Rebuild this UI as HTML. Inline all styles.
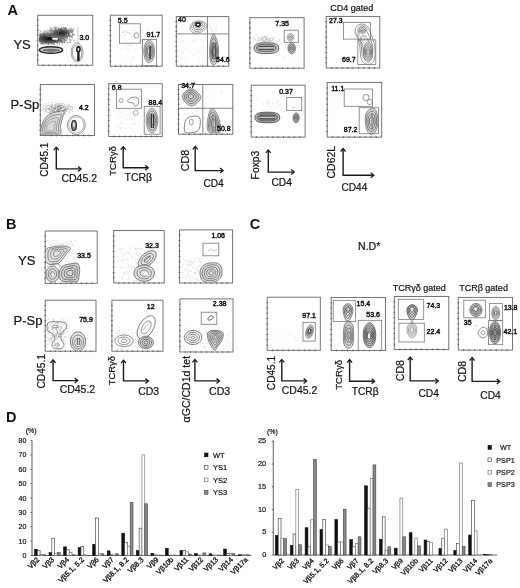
<!DOCTYPE html>
<html><head><meta charset="utf-8"><style>
html,body{margin:0;padding:0;background:#fff;width:520px;height:588px;overflow:hidden}
svg{display:block;font-family:"Liberation Sans", sans-serif;filter:grayscale(1) blur(0.3px)}
</style></head><body>
<svg width="520" height="588" viewBox="0 0 520 588">
<text x="7.6" y="15" font-size="14.5" text-anchor="start" font-weight="bold" fill="#111">A</text>
<text x="6.1" y="228.7" font-size="14.5" text-anchor="start" font-weight="bold" fill="#111">B</text>
<text x="249.7" y="228.7" font-size="14.5" text-anchor="start" font-weight="bold" fill="#111">C</text>
<text x="6.1" y="422" font-size="14.5" text-anchor="start" font-weight="bold" fill="#111">D</text>
<text x="13.4" y="48.8" font-size="13" text-anchor="start" font-weight="normal" fill="#111" stroke="#111" stroke-width="0.2">YS</text>
<text x="10.4" y="108.8" font-size="13" text-anchor="start" font-weight="normal" fill="#111" stroke="#111" stroke-width="0.2">P-Sp</text>
<text x="18.0" y="265" font-size="13" text-anchor="start" font-weight="normal" fill="#111" stroke="#111" stroke-width="0.2">YS</text>
<text x="13.6" y="325" font-size="13" text-anchor="start" font-weight="normal" fill="#111" stroke="#111" stroke-width="0.2">P-Sp</text>
<rect x="37.75" y="15.25" width="55.0" height="50.0" fill="none" stroke="#666" stroke-width="0.9"/>
<path d="M43.2 64.35v1.8M36.85 20.2h1.8M48.8 64.35v1.8M36.85 25.2h1.8M54.2 64.35v1.8M36.85 30.2h1.8M59.8 64.35v1.8M36.85 35.2h1.8M65.2 64.35v1.8M36.85 40.2h1.8M70.8 64.35v1.8M36.85 45.2h1.8M76.2 64.35v1.8M36.85 50.2h1.8M81.8 64.35v1.8M36.85 55.2h1.8M87.2 64.35v1.8M36.85 60.2h1.8" stroke="#444" stroke-width="0.7"/>
<rect x="110.3" y="15.2" width="51.89999999999999" height="51.0" fill="none" stroke="#666" stroke-width="0.9"/>
<path d="M115.5 65.3v1.8M109.39999999999999 20.3h1.8M120.7 65.3v1.8M109.39999999999999 25.4h1.8M125.9 65.3v1.8M109.39999999999999 30.5h1.8M131.1 65.3v1.8M109.39999999999999 35.6h1.8M136.2 65.3v1.8M109.39999999999999 40.7h1.8M141.4 65.3v1.8M109.39999999999999 45.8h1.8M146.6 65.3v1.8M109.39999999999999 50.9h1.8M151.8 65.3v1.8M109.39999999999999 56.0h1.8M157.0 65.3v1.8M109.39999999999999 61.1h1.8" stroke="#444" stroke-width="0.7"/>
<rect x="176.3" y="16.6" width="52.5" height="49.6" fill="none" stroke="#666" stroke-width="0.9"/>
<path d="M181.6 65.3v1.8M175.4 21.6h1.8M186.8 65.3v1.8M175.4 26.5h1.8M192.1 65.3v1.8M175.4 31.5h1.8M197.3 65.3v1.8M175.4 36.4h1.8M202.6 65.3v1.8M175.4 41.4h1.8M207.8 65.3v1.8M175.4 46.4h1.8M213.1 65.3v1.8M175.4 51.3h1.8M218.3 65.3v1.8M175.4 56.3h1.8M223.6 65.3v1.8M175.4 61.2h1.8" stroke="#444" stroke-width="0.7"/>
<rect x="249.9" y="17.7" width="54.20000000000002" height="50.5" fill="none" stroke="#666" stroke-width="0.9"/>
<path d="M255.3 67.3v1.8M249.0 22.8h1.8M260.7 67.3v1.8M249.0 27.8h1.8M266.2 67.3v1.8M249.0 32.9h1.8M271.6 67.3v1.8M249.0 37.9h1.8M277.0 67.3v1.8M249.0 43.0h1.8M282.4 67.3v1.8M249.0 48.0h1.8M287.8 67.3v1.8M249.0 53.0h1.8M293.3 67.3v1.8M249.0 58.1h1.8M298.7 67.3v1.8M249.0 63.2h1.8" stroke="#444" stroke-width="0.7"/>
<rect x="326.2" y="16.4" width="53.60000000000002" height="51.6" fill="none" stroke="#666" stroke-width="0.9"/>
<path d="M331.6 67.1v1.8M325.3 21.6h1.8M336.9 67.1v1.8M325.3 26.7h1.8M342.3 67.1v1.8M325.3 31.9h1.8M347.6 67.1v1.8M325.3 37.0h1.8M353.0 67.1v1.8M325.3 42.2h1.8M358.4 67.1v1.8M325.3 47.4h1.8M363.7 67.1v1.8M325.3 52.5h1.8M369.1 67.1v1.8M325.3 57.7h1.8M374.4 67.1v1.8M325.3 62.8h1.8" stroke="#444" stroke-width="0.7"/>
<rect x="40.3" y="84.5" width="54.2" height="51.0" fill="none" stroke="#666" stroke-width="0.9"/>
<path d="M45.7 134.6v1.8M39.4 89.6h1.8M51.1 134.6v1.8M39.4 94.7h1.8M56.6 134.6v1.8M39.4 99.8h1.8M62.0 134.6v1.8M39.4 104.9h1.8M67.4 134.6v1.8M39.4 110.0h1.8M72.8 134.6v1.8M39.4 115.1h1.8M78.2 134.6v1.8M39.4 120.2h1.8M83.7 134.6v1.8M39.4 125.3h1.8M89.1 134.6v1.8M39.4 130.4h1.8" stroke="#444" stroke-width="0.7"/>
<rect x="108.7" y="83.7" width="53.499999999999986" height="52.8" fill="none" stroke="#666" stroke-width="0.9"/>
<path d="M114.0 135.6v1.8M107.8 89.0h1.8M119.4 135.6v1.8M107.8 94.3h1.8M124.8 135.6v1.8M107.8 99.5h1.8M130.1 135.6v1.8M107.8 104.8h1.8M135.4 135.6v1.8M107.8 110.1h1.8M140.8 135.6v1.8M107.8 115.4h1.8M146.1 135.6v1.8M107.8 120.7h1.8M151.5 135.6v1.8M107.8 125.9h1.8M156.8 135.6v1.8M107.8 131.2h1.8" stroke="#444" stroke-width="0.7"/>
<rect x="178.5" y="84.4" width="54.30000000000001" height="49.79999999999998" fill="none" stroke="#666" stroke-width="0.9"/>
<path d="M183.9 133.29999999999998v1.8M177.6 89.4h1.8M189.4 133.29999999999998v1.8M177.6 94.4h1.8M194.8 133.29999999999998v1.8M177.6 99.3h1.8M200.2 133.29999999999998v1.8M177.6 104.3h1.8M205.7 133.29999999999998v1.8M177.6 109.3h1.8M211.1 133.29999999999998v1.8M177.6 114.3h1.8M216.5 133.29999999999998v1.8M177.6 119.3h1.8M221.9 133.29999999999998v1.8M177.6 124.2h1.8M227.4 133.29999999999998v1.8M177.6 129.2h1.8" stroke="#444" stroke-width="0.7"/>
<rect x="251.2" y="85.2" width="53.900000000000034" height="51.89999999999999" fill="none" stroke="#666" stroke-width="0.9"/>
<path d="M256.6 136.2v1.8M250.29999999999998 90.4h1.8M262.0 136.2v1.8M250.29999999999998 95.6h1.8M267.4 136.2v1.8M250.29999999999998 100.8h1.8M272.8 136.2v1.8M250.29999999999998 106.0h1.8M278.1 136.2v1.8M250.29999999999998 111.2h1.8M283.5 136.2v1.8M250.29999999999998 116.3h1.8M288.9 136.2v1.8M250.29999999999998 121.5h1.8M294.3 136.2v1.8M250.29999999999998 126.7h1.8M299.7 136.2v1.8M250.29999999999998 131.9h1.8" stroke="#444" stroke-width="0.7"/>
<rect x="327.2" y="82.5" width="54.5" height="54.599999999999994" fill="none" stroke="#666" stroke-width="0.9"/>
<path d="M332.6 136.2v1.8M326.3 88.0h1.8M338.1 136.2v1.8M326.3 93.4h1.8M343.6 136.2v1.8M326.3 98.9h1.8M349.0 136.2v1.8M326.3 104.3h1.8M354.4 136.2v1.8M326.3 109.8h1.8M359.9 136.2v1.8M326.3 115.3h1.8M365.3 136.2v1.8M326.3 120.7h1.8M370.8 136.2v1.8M326.3 126.2h1.8M376.2 136.2v1.8M326.3 131.6h1.8" stroke="#444" stroke-width="0.7"/>
<rect x="45.2" y="231" width="52.0" height="52.30000000000001" fill="none" stroke="#666" stroke-width="0.9"/>
<path d="M50.4 282.40000000000003v1.8M44.300000000000004 236.2h1.8M55.6 282.40000000000003v1.8M44.300000000000004 241.5h1.8M60.8 282.40000000000003v1.8M44.300000000000004 246.7h1.8M66.0 282.40000000000003v1.8M44.300000000000004 251.9h1.8M71.2 282.40000000000003v1.8M44.300000000000004 257.1h1.8M76.4 282.40000000000003v1.8M44.300000000000004 262.4h1.8M81.6 282.40000000000003v1.8M44.300000000000004 267.6h1.8M86.8 282.40000000000003v1.8M44.300000000000004 272.8h1.8M92.0 282.40000000000003v1.8M44.300000000000004 278.1h1.8" stroke="#444" stroke-width="0.7"/>
<rect x="113.7" y="230.5" width="50.499999999999986" height="52.5" fill="none" stroke="#666" stroke-width="0.9"/>
<path d="M118.8 282.1v1.8M112.8 235.8h1.8M123.8 282.1v1.8M112.8 241.0h1.8M128.8 282.1v1.8M112.8 246.2h1.8M133.9 282.1v1.8M112.8 251.5h1.8M138.9 282.1v1.8M112.8 256.8h1.8M144.0 282.1v1.8M112.8 262.0h1.8M149.0 282.1v1.8M112.8 267.2h1.8M154.1 282.1v1.8M112.8 272.5h1.8M159.1 282.1v1.8M112.8 277.8h1.8" stroke="#444" stroke-width="0.7"/>
<rect x="179.5" y="229.9" width="53.099999999999994" height="53.099999999999994" fill="none" stroke="#666" stroke-width="0.9"/>
<path d="M184.8 282.1v1.8M178.6 235.2h1.8M190.1 282.1v1.8M178.6 240.5h1.8M195.4 282.1v1.8M178.6 245.8h1.8M200.7 282.1v1.8M178.6 251.1h1.8M206.1 282.1v1.8M178.6 256.4h1.8M211.4 282.1v1.8M178.6 261.8h1.8M216.7 282.1v1.8M178.6 267.1h1.8M222.0 282.1v1.8M178.6 272.4h1.8M227.3 282.1v1.8M178.6 277.7h1.8" stroke="#444" stroke-width="0.7"/>
<rect x="45.2" y="300.2" width="50.8" height="51.0" fill="none" stroke="#666" stroke-width="0.9"/>
<path d="M50.3 350.3v1.8M44.300000000000004 305.3h1.8M55.4 350.3v1.8M44.300000000000004 310.4h1.8M60.4 350.3v1.8M44.300000000000004 315.5h1.8M65.5 350.3v1.8M44.300000000000004 320.6h1.8M70.6 350.3v1.8M44.300000000000004 325.7h1.8M75.7 350.3v1.8M44.300000000000004 330.8h1.8M80.8 350.3v1.8M44.300000000000004 335.9h1.8M85.8 350.3v1.8M44.300000000000004 341.0h1.8M90.9 350.3v1.8M44.300000000000004 346.1h1.8" stroke="#444" stroke-width="0.7"/>
<rect x="111.9" y="300.2" width="51.099999999999994" height="51.0" fill="none" stroke="#666" stroke-width="0.9"/>
<path d="M117.0 350.3v1.8M111.0 305.3h1.8M122.1 350.3v1.8M111.0 310.4h1.8M127.2 350.3v1.8M111.0 315.5h1.8M132.3 350.3v1.8M111.0 320.6h1.8M137.4 350.3v1.8M111.0 325.7h1.8M142.6 350.3v1.8M111.0 330.8h1.8M147.7 350.3v1.8M111.0 335.9h1.8M152.8 350.3v1.8M111.0 341.0h1.8M157.9 350.3v1.8M111.0 346.1h1.8" stroke="#444" stroke-width="0.7"/>
<rect x="179.9" y="298.9" width="53.099999999999994" height="53.10000000000002" fill="none" stroke="#666" stroke-width="0.9"/>
<path d="M185.2 351.1v1.8M179.0 304.2h1.8M190.5 351.1v1.8M179.0 309.5h1.8M195.8 351.1v1.8M179.0 314.8h1.8M201.1 351.1v1.8M179.0 320.1h1.8M206.5 351.1v1.8M179.0 325.4h1.8M211.8 351.1v1.8M179.0 330.8h1.8M217.1 351.1v1.8M179.0 336.1h1.8M222.4 351.1v1.8M179.0 341.4h1.8M227.7 351.1v1.8M179.0 346.7h1.8" stroke="#444" stroke-width="0.7"/>
<rect x="267.2" y="297.2" width="53.10000000000002" height="53.10000000000002" fill="none" stroke="#666" stroke-width="0.9"/>
<path d="M272.5 349.40000000000003v1.8M266.3 302.5h1.8M277.8 349.40000000000003v1.8M266.3 307.8h1.8M283.1 349.40000000000003v1.8M266.3 313.1h1.8M288.4 349.40000000000003v1.8M266.3 318.4h1.8M293.8 349.40000000000003v1.8M266.3 323.8h1.8M299.1 349.40000000000003v1.8M266.3 329.1h1.8M304.4 349.40000000000003v1.8M266.3 334.4h1.8M309.7 349.40000000000003v1.8M266.3 339.7h1.8M315.0 349.40000000000003v1.8M266.3 345.0h1.8" stroke="#444" stroke-width="0.7"/>
<rect x="331.2" y="297.5" width="54.30000000000001" height="53.0" fill="none" stroke="#666" stroke-width="0.9"/>
<path d="M336.6 349.6v1.8M330.3 302.8h1.8M342.1 349.6v1.8M330.3 308.1h1.8M347.5 349.6v1.8M330.3 313.4h1.8M352.9 349.6v1.8M330.3 318.7h1.8M358.4 349.6v1.8M330.3 324.0h1.8M363.8 349.6v1.8M330.3 329.3h1.8M369.2 349.6v1.8M330.3 334.6h1.8M374.6 349.6v1.8M330.3 339.9h1.8M380.1 349.6v1.8M330.3 345.2h1.8" stroke="#444" stroke-width="0.7"/>
<rect x="394.3" y="296.5" width="54.5" height="53.0" fill="none" stroke="#666" stroke-width="0.9"/>
<path d="M399.8 348.6v1.8M393.40000000000003 301.8h1.8M405.2 348.6v1.8M393.40000000000003 307.1h1.8M410.7 348.6v1.8M393.40000000000003 312.4h1.8M416.1 348.6v1.8M393.40000000000003 317.7h1.8M421.6 348.6v1.8M393.40000000000003 323.0h1.8M427.0 348.6v1.8M393.40000000000003 328.3h1.8M432.4 348.6v1.8M393.40000000000003 333.6h1.8M437.9 348.6v1.8M393.40000000000003 338.9h1.8M443.4 348.6v1.8M393.40000000000003 344.2h1.8" stroke="#444" stroke-width="0.7"/>
<rect x="458.3" y="297.4" width="54.19999999999999" height="52.700000000000045" fill="none" stroke="#666" stroke-width="0.9"/>
<path d="M463.7 349.20000000000005v1.8M457.40000000000003 302.7h1.8M469.1 349.20000000000005v1.8M457.40000000000003 307.9h1.8M474.6 349.20000000000005v1.8M457.40000000000003 313.2h1.8M480.0 349.20000000000005v1.8M457.40000000000003 318.5h1.8M485.4 349.20000000000005v1.8M457.40000000000003 323.8h1.8M490.8 349.20000000000005v1.8M457.40000000000003 329.0h1.8M496.2 349.20000000000005v1.8M457.40000000000003 334.3h1.8M501.7 349.20000000000005v1.8M457.40000000000003 339.6h1.8M507.1 349.20000000000005v1.8M457.40000000000003 344.8h1.8" stroke="#444" stroke-width="0.7"/>
<text x="61.42" y="182.2" font-size="10.51" text-anchor="start" font-weight="normal" fill="#111" stroke="#111" stroke-width="0.2">CD45.2</text>
<text x="124.58" y="181.2" font-size="10.44" text-anchor="start" font-weight="normal" fill="#111" stroke="#111" stroke-width="0.2">TCRβ</text>
<text x="203.44" y="187.2" font-size="10.12" text-anchor="start" font-weight="normal" fill="#111" stroke="#111" stroke-width="0.2">CD4</text>
<text x="271.44" y="185.6" font-size="10.23" text-anchor="start" font-weight="normal" fill="#111" stroke="#111" stroke-width="0.2">CD4</text>
<text x="341.54" y="190.5" font-size="10.11" text-anchor="start" font-weight="normal" fill="#111" stroke="#111" stroke-width="0.2">CD44</text>
<text x="59.63" y="393.45" font-size="10.49" text-anchor="start" font-weight="normal" fill="#111" stroke="#111" stroke-width="0.2">CD45.2</text>
<text x="138.13" y="394.5" font-size="10.47" text-anchor="start" font-weight="normal" fill="#111" stroke="#111" stroke-width="0.2">CD3</text>
<text x="209.02" y="394.5" font-size="10.58" text-anchor="start" font-weight="normal" fill="#111" stroke="#111" stroke-width="0.2">CD3</text>
<text x="281.83" y="394.1" font-size="10.45" text-anchor="start" font-weight="normal" fill="#111" stroke="#111" stroke-width="0.2">CD45.2</text>
<text x="351.68" y="394.9" font-size="10.21" text-anchor="start" font-weight="normal" fill="#111" stroke="#111" stroke-width="0.2">TCRβ</text>
<text x="418.44" y="397.2" font-size="10.23" text-anchor="start" font-weight="normal" fill="#111" stroke="#111" stroke-width="0.2">CD4</text>
<text x="480.24" y="398.7" font-size="10.28" text-anchor="start" font-weight="normal" fill="#111" stroke="#111" stroke-width="0.2">CD4</text>
<text x="47.92" y="176.65" font-size="10.05" text-anchor="start" font-weight="normal" fill="#111" transform="rotate(-90 47.92 176.65)" stroke="#111" stroke-width="0.2">CD45.1</text>
<text x="116.41" y="175.81" font-size="9.57" text-anchor="start" font-weight="normal" fill="#111" transform="rotate(-90 116.41 175.81)" stroke="#111" stroke-width="0.2">TCRγδ</text>
<text x="189.19" y="171.29" font-size="10.74" text-anchor="start" font-weight="normal" fill="#111" transform="rotate(-90 189.19 171.29)" stroke="#111" stroke-width="0.2">CD8</text>
<text x="258.52" y="179.41" font-size="10.34" text-anchor="start" font-weight="normal" fill="#111" transform="rotate(-90 258.52 179.41)" stroke="#111" stroke-width="0.2">Foxp3</text>
<text x="335.41" y="178.47" font-size="10.48" text-anchor="start" font-weight="normal" fill="#111" transform="rotate(-90 335.41 178.47)" stroke="#111" stroke-width="0.2">CD62L</text>
<text x="44.6" y="388.46" font-size="10.17" text-anchor="start" font-weight="normal" fill="#111" transform="rotate(-90 44.6 388.46)" stroke="#111" stroke-width="0.2">CD45.1</text>
<text x="115.37" y="385.21" font-size="9.38" text-anchor="start" font-weight="normal" fill="#111" transform="rotate(-90 115.37 385.21)" stroke="#111" stroke-width="0.2">TCRγδ</text>
<text x="189.82" y="422.38" font-size="10.56" text-anchor="start" font-weight="normal" fill="#111" transform="rotate(-90 189.82 422.38)" stroke="#111" stroke-width="0.2">αGC/CD1d tet</text>
<text x="274.86" y="390.16" font-size="10.11" text-anchor="start" font-weight="normal" fill="#111" transform="rotate(-90 274.86 390.16)" stroke="#111" stroke-width="0.2">CD45.1</text>
<text x="341.83" y="389.81" font-size="9.61" text-anchor="start" font-weight="normal" fill="#111" transform="rotate(-90 341.83 389.81)" stroke="#111" stroke-width="0.2">TCRγδ</text>
<text x="404.01" y="381.28" font-size="10.63" text-anchor="start" font-weight="normal" fill="#111" transform="rotate(-90 404.01 381.28)" stroke="#111" stroke-width="0.2">CD8</text>
<text x="465.88" y="382.08" font-size="10.58" text-anchor="start" font-weight="normal" fill="#111" transform="rotate(-90 465.88 382.08)" stroke="#111" stroke-width="0.2">CD8</text>
<path d="M56.3 147.60000000000002V168.9H80.7" fill="none" stroke="#1a1a1a" stroke-width="1.4"/>
<path d="M53.8 150.20000000000002L56.3 147.20000000000002L58.8 150.20000000000002" fill="none" stroke="#1a1a1a" stroke-width="1.3" stroke-linejoin="miter"/>
<path d="M78.1 166.4L81.1 168.9L78.1 171.4" fill="none" stroke="#1a1a1a" stroke-width="1.3" stroke-linejoin="miter"/>
<path d="M123.2 147.10000000000002V167.7H147.79999999999998" fill="none" stroke="#1a1a1a" stroke-width="1.4"/>
<path d="M120.7 149.70000000000002L123.2 146.70000000000002L125.7 149.70000000000002" fill="none" stroke="#1a1a1a" stroke-width="1.3" stroke-linejoin="miter"/>
<path d="M145.2 165.2L148.2 167.7L145.2 170.2" fill="none" stroke="#1a1a1a" stroke-width="1.3" stroke-linejoin="miter"/>
<path d="M195.2 146.8V170.6H222.7" fill="none" stroke="#1a1a1a" stroke-width="1.4"/>
<path d="M192.7 149.4L195.2 146.4L197.7 149.4" fill="none" stroke="#1a1a1a" stroke-width="1.3" stroke-linejoin="miter"/>
<path d="M220.1 168.1L223.1 170.6L220.1 173.1" fill="none" stroke="#1a1a1a" stroke-width="1.3" stroke-linejoin="miter"/>
<path d="M268.3 150.3V172.1H293.8" fill="none" stroke="#1a1a1a" stroke-width="1.4"/>
<path d="M265.8 152.9L268.3 149.9L270.8 152.9" fill="none" stroke="#1a1a1a" stroke-width="1.3" stroke-linejoin="miter"/>
<path d="M291.20000000000005 169.6L294.20000000000005 172.1L291.20000000000005 174.6" fill="none" stroke="#1a1a1a" stroke-width="1.3" stroke-linejoin="miter"/>
<path d="M343.1 148.9V175.2H373.4" fill="none" stroke="#1a1a1a" stroke-width="1.4"/>
<path d="M340.6 151.5L343.1 148.5L345.6 151.5" fill="none" stroke="#1a1a1a" stroke-width="1.3" stroke-linejoin="miter"/>
<path d="M370.8 172.7L373.8 175.2L370.8 177.7" fill="none" stroke="#1a1a1a" stroke-width="1.3" stroke-linejoin="miter"/>
<path d="M53.1 360.2V380.6H77.3" fill="none" stroke="#1a1a1a" stroke-width="1.4"/>
<path d="M50.6 362.79999999999995L53.1 359.79999999999995L55.6 362.79999999999995" fill="none" stroke="#1a1a1a" stroke-width="1.3" stroke-linejoin="miter"/>
<path d="M74.69999999999999 378.1L77.69999999999999 380.6L74.69999999999999 383.1" fill="none" stroke="#1a1a1a" stroke-width="1.3" stroke-linejoin="miter"/>
<path d="M123.5 360.6V380.9H148.0" fill="none" stroke="#1a1a1a" stroke-width="1.4"/>
<path d="M121.0 363.2L123.5 360.2L126.0 363.2" fill="none" stroke="#1a1a1a" stroke-width="1.3" stroke-linejoin="miter"/>
<path d="M145.4 378.4L148.4 380.9L145.4 383.4" fill="none" stroke="#1a1a1a" stroke-width="1.3" stroke-linejoin="miter"/>
<path d="M194.9 359.8V380.9H219.1" fill="none" stroke="#1a1a1a" stroke-width="1.4"/>
<path d="M192.4 362.4L194.9 359.4L197.4 362.4" fill="none" stroke="#1a1a1a" stroke-width="1.3" stroke-linejoin="miter"/>
<path d="M216.5 378.4L219.5 380.9L216.5 383.4" fill="none" stroke="#1a1a1a" stroke-width="1.3" stroke-linejoin="miter"/>
<path d="M281.8 359.8V380.9H306.2" fill="none" stroke="#1a1a1a" stroke-width="1.4"/>
<path d="M279.3 362.4L281.8 359.4L284.3 362.4" fill="none" stroke="#1a1a1a" stroke-width="1.3" stroke-linejoin="miter"/>
<path d="M303.6 378.4L306.6 380.9L303.6 383.4" fill="none" stroke="#1a1a1a" stroke-width="1.3" stroke-linejoin="miter"/>
<path d="M349.6 360.0V381.2H374.2" fill="none" stroke="#1a1a1a" stroke-width="1.4"/>
<path d="M347.1 362.59999999999997L349.6 359.59999999999997L352.1 362.59999999999997" fill="none" stroke="#1a1a1a" stroke-width="1.3" stroke-linejoin="miter"/>
<path d="M371.6 378.7L374.6 381.2L371.6 383.7" fill="none" stroke="#1a1a1a" stroke-width="1.3" stroke-linejoin="miter"/>
<path d="M410.2 357.5V380.9H437.9" fill="none" stroke="#1a1a1a" stroke-width="1.4"/>
<path d="M407.7 360.09999999999997L410.2 357.09999999999997L412.7 360.09999999999997" fill="none" stroke="#1a1a1a" stroke-width="1.3" stroke-linejoin="miter"/>
<path d="M435.3 378.4L438.3 380.9L435.3 383.4" fill="none" stroke="#1a1a1a" stroke-width="1.3" stroke-linejoin="miter"/>
<path d="M472.1 358.0V381.4H499.4" fill="none" stroke="#1a1a1a" stroke-width="1.4"/>
<path d="M469.6 360.59999999999997L472.1 357.59999999999997L474.6 360.59999999999997" fill="none" stroke="#1a1a1a" stroke-width="1.3" stroke-linejoin="miter"/>
<path d="M496.8 378.9L499.8 381.4L496.8 383.9" fill="none" stroke="#1a1a1a" stroke-width="1.3" stroke-linejoin="miter"/>
<text x="330.3" y="11.2" font-size="9" text-anchor="start" font-weight="normal" fill="#111" stroke="#111" stroke-width="0.2">CD4 gated</text>
<text x="392.7" y="291.2" font-size="9" text-anchor="start" font-weight="normal" fill="#111" stroke="#111" stroke-width="0.2">TCRγδ gated</text>
<text x="459.2" y="290.7" font-size="9" text-anchor="start" font-weight="normal" fill="#111" stroke="#111" stroke-width="0.2">TCRβ gated</text>
<text x="358" y="249.8" font-size="10.6" text-anchor="start" font-weight="normal" fill="#111" stroke="#111" stroke-width="0.2">N.D*</text>
<clipPath id="cp0"><rect x="38.15" y="15.65" width="54.2" height="49.2"/></clipPath><g clip-path="url(#cp0)">
<path d="M49.3 38.5h0.9" stroke="#000000" stroke-width="0.9"/>
<path d="M49.1 38.4h0.9M49.4 39.0h0.9M46.5 38.8h0.9M45.4 37.7h0.9M49.0 38.9h0.9M50.1 39.5h0.9M52.0 37.9h0.9M47.0 39.0h0.9M48.6 39.0h0.9M50.7 38.1h0.9M49.1 38.4h0.9M47.9 39.5h0.9M50.7 38.8h0.9M47.0 38.1h0.9M51.0 38.4h0.9M50.8 40.0h0.9M48.2 39.3h0.9M48.9 37.7h0.9M49.5 39.3h0.9M51.6 38.9h0.9M48.1 37.1h0.9M50.8 39.7h0.9M47.9 38.5h0.9M50.1 38.4h0.9M50.6 39.7h0.9M46.7 39.5h0.9M47.8 38.7h0.9M45.4 37.9h0.9M49.1 37.6h0.9M47.1 38.6h0.9M47.6 37.6h0.9M50.8 38.3h0.9M49.1 38.4h0.9M49.4 39.0h0.9M48.3 39.3h0.9M50.4 38.2h0.9M48.0 39.0h0.9M51.2 38.9h0.9M50.9 37.9h0.9M48.0 37.1h0.9M47.6 38.6h0.9M46.1 37.9h0.9M52.2 39.0h0.9M48.0 38.1h0.9M49.1 37.5h0.9M47.7 37.6h0.9M46.7 39.3h0.9M51.5 38.3h0.9M49.7 37.2h0.9M46.3 39.5h0.9M48.2 39.2h0.9M50.5 37.4h0.9M51.1 37.8h0.9M50.4 39.2h0.9M47.8 39.1h0.9M50.0 37.9h0.9M50.4 39.0h0.9M50.2 37.8h0.9M47.8 38.6h0.9M50.1 39.0h0.9M46.6 38.3h0.9M51.4 37.9h0.9M49.2 38.7h0.9M46.4 38.8h0.9M47.4 37.8h0.9M52.0 37.3h0.9M47.6 39.8h0.9M49.3 39.2h0.9M49.8 37.4h0.9M48.7 39.2h0.9" stroke="#000000" stroke-width="0.9"/>
<path d="M49.9 37.3h0.9M51.0 40.4h0.9M46.7 39.2h0.9M50.1 36.3h0.9M49.2 37.1h0.9M46.7 37.4h0.9M52.2 37.2h0.9M50.5 38.4h0.9M46.8 36.8h0.9M50.7 38.8h0.9M51.7 36.7h0.9M44.4 38.8h0.9M48.3 37.0h0.9M47.2 39.4h0.9M47.2 38.6h0.9M45.1 38.7h0.9M53.9 38.8h0.9M52.1 37.5h0.9M48.1 36.4h0.9M45.2 37.8h0.9M44.9 39.5h0.9M47.7 38.5h0.9M46.6 39.4h0.9M46.5 37.6h0.9M53.5 37.0h0.9M51.5 37.8h0.9M45.8 39.7h0.9M51.1 40.3h0.9M43.7 38.7h0.9M51.4 39.9h0.9M49.6 40.1h0.9M46.9 37.4h0.9M47.9 39.3h0.9M52.5 39.1h0.9M50.6 40.2h0.9M50.1 37.4h0.9M47.0 38.5h0.9M50.4 36.5h0.9M51.7 40.4h0.9M53.2 38.4h0.9M52.2 37.5h0.9M51.6 40.1h0.9M53.7 38.7h0.9M44.6 39.8h0.9M48.2 40.1h0.9M49.2 39.7h0.9M46.4 40.4h0.9M51.9 40.0h0.9M46.7 36.6h0.9M48.0 37.2h0.9M50.2 37.1h0.9M46.4 36.7h0.9M51.8 39.9h0.9M45.1 40.1h0.9M46.9 39.1h0.9M48.3 36.8h0.9M47.5 39.6h0.9M47.1 38.4h0.9M46.4 38.8h0.9M51.6 37.8h0.9M51.8 38.5h0.9M52.6 38.7h0.9M44.7 39.7h0.9M49.2 37.6h0.9M48.0 38.0h0.9M43.8 37.5h0.9M47.5 40.6h0.9M46.0 38.4h0.9M45.3 37.9h0.9M51.9 38.0h0.9M52.4 37.3h0.9M52.4 37.3h0.9M53.3 39.3h0.9M53.6 39.5h0.9M44.6 38.5h0.9M44.4 38.9h0.9M49.0 40.3h0.9M54.3 38.3h0.9M48.5 37.6h0.9M47.5 36.9h0.9M47.5 40.6h0.9M53.2 37.3h0.9M48.4 39.2h0.9M46.1 36.9h0.9M50.2 37.0h0.9M46.4 38.5h0.9M43.9 37.7h0.9M50.9 37.1h0.9M50.8 38.7h0.9M52.6 38.8h0.9M50.3 39.8h0.9M46.1 37.2h0.9M46.9 38.6h0.9M53.0 38.1h0.9M47.2 37.7h0.9M54.3 38.8h0.9M50.4 39.4h0.9M47.1 37.1h0.9M53.0 37.2h0.9M50.3 36.7h0.9M44.0 38.8h0.9M46.7 40.1h0.9M50.2 37.4h0.9M51.7 39.2h0.9M52.2 39.4h0.9M53.7 37.8h0.9M45.6 39.7h0.9M46.1 40.2h0.9M50.5 37.8h0.9M47.3 37.3h0.9M55.5 38.4h0.9M54.1 38.1h0.9M47.5 39.4h0.9M48.5 38.7h0.9M46.9 39.2h0.9M49.1 38.6h0.9M53.1 39.1h0.9M47.4 40.5h0.9M50.5 38.9h0.9M50.7 37.9h0.9M48.2 36.4h0.9M47.2 38.5h0.9M47.0 37.8h0.9M46.5 38.1h0.9M46.6 38.8h0.9M44.8 38.0h0.9M53.6 37.7h0.9M50.8 38.6h0.9M44.7 37.2h0.9M48.1 40.4h0.9M50.6 37.9h0.9M53.5 38.7h0.9" stroke="#101010" stroke-width="0.9"/>
<path d="M46.8 40.4h0.9M51.1 39.1h0.9M46.8 37.5h0.9M46.0 40.6h0.9M50.7 39.0h0.9M50.7 37.5h0.9M43.3 37.3h0.9M48.2 40.2h0.9M48.2 40.4h0.9M54.4 40.8h0.9M51.6 40.5h0.9M51.7 37.8h0.9M53.5 39.5h0.9M43.0 37.6h0.9M44.5 37.7h0.9M47.0 40.2h0.9M52.5 37.8h0.9M46.5 36.2h0.9M46.4 37.6h0.9M51.7 40.1h0.9M54.4 37.1h0.9M54.0 38.7h0.9M44.5 38.8h0.9M47.0 37.9h0.9M53.2 38.9h0.9M49.0 37.6h0.9M51.8 38.1h0.9M44.0 36.6h0.9M54.5 39.3h0.9M51.9 39.0h0.9M52.4 39.1h0.9M53.6 39.4h0.9M46.9 36.4h0.9M46.8 40.8h0.9M43.1 40.2h0.9M44.7 37.8h0.9M51.7 39.1h0.9M55.0 39.4h0.9M51.4 40.6h0.9M51.8 37.9h0.9M41.4 37.3h0.9M44.4 37.0h0.9M42.9 37.9h0.9M51.1 39.5h0.9M47.8 36.8h0.9M46.6 39.1h0.9M45.2 41.0h0.9M55.7 38.8h0.9M53.9 39.5h0.9M53.4 37.2h0.9M51.3 36.9h0.9M54.0 38.7h0.9M41.5 38.5h0.9M54.6 38.5h0.9M47.8 39.4h0.9M52.4 38.9h0.9M48.1 37.0h0.9M56.5 37.3h0.9M44.0 37.2h0.9M49.2 36.4h0.9M44.3 38.5h0.9M53.4 38.0h0.9M43.7 38.6h0.9M46.3 37.9h0.9M46.7 41.3h0.9M48.5 36.5h0.9M43.7 37.8h0.9M46.3 40.0h0.9M51.1 41.1h0.9M46.4 36.0h0.9M47.7 36.3h0.9M55.6 38.8h0.9M49.9 40.8h0.9M42.3 39.7h0.9M44.5 38.8h0.9M45.2 39.3h0.9M56.0 39.6h0.9M52.9 38.9h0.9M55.6 38.0h0.9M51.0 37.0h0.9M49.5 40.6h0.9M47.6 36.1h0.9M52.9 38.2h0.9M53.9 40.2h0.9M54.2 37.6h0.9M53.8 40.2h0.9M45.2 37.9h0.9M48.2 40.5h0.9M53.2 39.3h0.9M44.3 40.9h0.9M49.1 37.2h0.9M55.3 37.7h0.9M45.8 37.0h0.9M52.9 37.8h0.9M51.7 38.5h0.9M52.5 39.7h0.9M48.3 36.7h0.9M51.6 39.5h0.9M43.6 36.8h0.9M44.9 40.4h0.9M49.3 41.4h0.9M53.5 37.2h0.9M54.1 38.4h0.9M52.9 39.3h0.9M55.2 40.7h0.9M45.4 38.2h0.9M49.2 41.4h0.9M56.5 37.8h0.9M48.0 36.9h0.9M56.5 39.3h0.9M48.8 39.9h0.9M46.7 38.8h0.9M52.4 39.1h0.9M51.0 37.3h0.9M48.8 36.8h0.9M51.0 41.0h0.9M42.6 37.7h0.9M48.1 36.3h0.9M43.0 38.7h0.9M50.3 36.5h0.9M44.0 38.5h0.9M43.3 39.9h0.9M56.4 38.3h0.9M50.4 39.9h0.9M42.1 39.3h0.9M55.1 39.2h0.9M49.6 35.7h0.9M51.4 40.0h0.9M44.3 36.8h0.9M47.9 40.2h0.9M54.8 37.8h0.9M41.7 38.3h0.9M55.0 38.1h0.9M51.5 36.3h0.9M48.6 37.5h0.9M46.6 40.5h0.9M50.0 36.0h0.9M48.8 36.4h0.9M44.1 37.5h0.9M53.0 39.1h0.9M53.7 40.1h0.9M45.3 39.3h0.9M50.1 41.1h0.9M44.6 40.6h0.9M44.5 36.9h0.9M46.6 36.8h0.9M45.8 38.0h0.9M53.4 38.8h0.9M55.4 37.9h0.9M51.3 36.9h0.9M47.0 39.9h0.9M53.1 37.6h0.9M48.5 37.4h0.9M53.8 38.9h0.9M41.9 37.9h0.9M51.4 40.9h0.9M54.9 39.1h0.9M53.3 37.7h0.9M45.3 37.9h0.9M54.8 38.3h0.9M46.5 39.5h0.9M46.9 39.7h0.9M52.7 39.0h0.9M56.3 39.3h0.9M43.1 39.3h0.9M55.2 37.5h0.9M53.4 37.5h0.9M44.9 38.5h0.9M42.8 37.7h0.9M44.3 40.5h0.9M48.9 40.9h0.9M46.9 37.1h0.9M44.6 40.3h0.9M47.6 40.8h0.9M55.0 39.3h0.9M53.3 38.0h0.9M49.8 40.6h0.9M48.7 39.8h0.9M46.3 38.1h0.9M44.1 38.9h0.9M49.8 40.5h0.9M55.0 36.8h0.9M54.2 39.9h0.9M48.7 40.5h0.9M49.7 37.5h0.9M47.4 37.2h0.9M55.1 39.8h0.9M49.8 40.3h0.9M46.3 35.8h0.9M45.3 38.7h0.9M51.6 39.6h0.9M53.2 40.3h0.9M50.8 36.7h0.9M55.2 38.3h0.9M42.0 37.3h0.9M55.9 39.9h0.9M49.7 37.0h0.9M49.7 36.2h0.9M43.7 36.6h0.9M46.0 38.1h0.9M44.5 38.7h0.9M42.8 38.7h0.9M42.5 37.8h0.9M48.9 37.3h0.9M51.5 38.6h0.9" stroke="#202020" stroke-width="0.9"/>
<path d="M58.2 38.8h0.9M50.3 40.6h0.9M43.2 36.9h0.9M42.4 41.2h0.9M54.2 36.9h0.9M42.8 36.2h0.9M46.0 37.0h0.9M55.4 40.8h0.9M43.5 40.5h0.9M53.7 37.6h0.9M39.8 40.1h0.9M51.0 36.5h0.9M55.2 39.6h0.9M56.0 38.7h0.9M45.1 37.1h0.9M45.6 36.3h0.9M44.9 40.2h0.9M43.3 37.6h0.9M43.1 36.3h0.9M57.7 39.6h0.9M43.4 39.1h0.9M43.0 40.8h0.9M43.8 39.5h0.9M56.0 37.1h0.9M46.5 36.3h0.9M54.6 39.7h0.9M44.4 40.5h0.9M49.2 40.5h0.9M51.5 35.7h0.9M49.3 36.1h0.9M52.5 35.6h0.9M40.1 37.9h0.9M57.5 38.7h0.9M48.0 41.9h0.9M54.2 35.3h0.9M43.7 41.1h0.9M43.6 40.9h0.9M53.0 38.3h0.9M53.6 40.7h0.9M53.2 41.5h0.9M42.9 37.5h0.9M49.1 36.1h0.9M45.9 35.3h0.9M46.4 41.1h0.9M50.8 36.6h0.9M52.0 35.9h0.9M54.2 37.1h0.9M52.9 37.4h0.9M43.8 41.0h0.9M45.7 37.2h0.9M50.1 40.9h0.9M46.0 36.5h0.9M39.9 37.9h0.9M44.4 38.0h0.9M44.7 36.4h0.9M41.0 38.6h0.9M42.4 36.1h0.9M56.2 39.6h0.9M55.5 37.4h0.9M59.2 38.0h0.9M42.7 39.0h0.9M50.2 35.1h0.9M54.9 41.6h0.9M46.0 41.2h0.9M50.7 40.7h0.9M55.2 38.1h0.9M53.6 37.5h0.9M44.0 40.2h0.9M56.4 38.9h0.9M55.8 37.8h0.9M43.4 36.5h0.9M41.8 37.7h0.9M53.9 36.9h0.9M52.9 41.5h0.9M50.2 35.3h0.9M40.7 37.7h0.9M47.4 41.2h0.9M54.0 38.5h0.9M47.4 36.5h0.9M43.5 40.2h0.9M51.7 36.0h0.9M48.7 36.6h0.9M41.4 38.5h0.9M51.6 40.5h0.9M39.3 38.4h0.9M45.0 36.0h0.9M51.6 37.4h0.9M43.5 38.6h0.9M47.6 36.4h0.9M51.0 40.6h0.9M43.4 38.6h0.9M52.3 35.9h0.9M43.6 37.4h0.9M41.1 36.6h0.9M43.6 40.9h0.9M55.9 38.9h0.9M46.2 41.7h0.9M42.8 38.3h0.9M44.0 40.0h0.9M48.6 41.2h0.9M42.0 38.9h0.9M44.5 40.3h0.9M48.9 40.7h0.9M44.0 39.8h0.9M49.2 34.8h0.9M43.1 40.6h0.9M53.9 40.2h0.9M44.3 35.4h0.9M50.9 41.3h0.9M55.6 38.2h0.9M49.6 40.7h0.9M43.6 38.7h0.9M47.8 36.2h0.9M58.2 38.9h0.9M45.5 37.9h0.9M41.5 40.1h0.9M45.2 35.8h0.9M46.2 40.3h0.9M48.4 41.9h0.9M46.9 40.9h0.9M50.8 35.9h0.9M43.3 37.5h0.9M53.8 35.9h0.9M43.7 36.7h0.9M40.9 37.7h0.9M53.7 37.4h0.9M46.3 36.1h0.9M43.1 38.5h0.9M43.4 36.2h0.9M40.4 38.7h0.9M53.8 35.7h0.9M50.7 40.3h0.9M50.5 36.6h0.9M40.4 38.0h0.9M44.0 36.3h0.9M44.2 38.2h0.9M46.7 35.5h0.9M44.7 35.0h0.9M42.5 40.5h0.9M42.2 39.4h0.9M42.8 39.2h0.9M43.6 39.8h0.9M55.8 38.2h0.9M52.9 36.1h0.9M44.0 37.5h0.9M45.8 36.5h0.9M52.5 36.1h0.9M43.1 41.2h0.9M42.6 38.9h0.9M45.9 37.4h0.9M44.6 41.0h0.9M52.3 40.8h0.9M42.9 39.0h0.9M54.0 39.5h0.9M40.3 37.6h0.9M42.5 37.8h0.9M51.6 36.6h0.9M49.5 40.8h0.9M42.1 40.8h0.9M47.3 36.8h0.9M45.9 41.1h0.9M56.6 39.1h0.9M57.5 38.7h0.9M41.5 38.8h0.9M55.5 36.4h0.9M39.4 39.8h0.9M42.3 36.6h0.9M44.1 36.8h0.9M47.8 35.4h0.9M52.8 39.5h0.9M43.6 40.5h0.9M44.8 36.4h0.9M54.0 39.6h0.9M43.6 39.5h0.9M55.6 35.8h0.9M53.2 39.0h0.9M46.1 41.3h0.9M43.4 37.6h0.9M58.4 38.5h0.9M41.2 40.3h0.9M43.4 39.0h0.9M39.3 37.7h0.9M51.8 40.2h0.9M56.2 36.8h0.9M45.7 40.2h0.9M40.9 39.3h0.9M47.4 36.1h0.9M51.4 40.8h0.9M48.5 36.1h0.9M53.3 37.8h0.9M46.9 36.8h0.9M54.9 36.0h0.9M54.1 39.4h0.9M56.3 39.4h0.9M41.7 38.6h0.9M40.4 39.7h0.9M57.1 39.5h0.9M54.3 38.6h0.9M57.4 39.2h0.9M54.8 40.6h0.9M53.3 39.5h0.9M45.0 35.3h0.9M56.6 38.6h0.9M44.3 39.9h0.9M52.1 41.7h0.9M48.1 41.9h0.9M45.4 40.4h0.9M43.9 37.0h0.9M54.0 37.5h0.9M57.4 40.5h0.9M47.1 35.1h0.9M47.0 36.1h0.9M42.2 37.1h0.9M56.6 40.5h0.9M47.1 42.0h0.9M57.5 37.5h0.9M44.0 37.5h0.9M44.1 37.1h0.9M44.0 37.4h0.9M54.9 37.7h0.9M40.8 38.1h0.9M57.0 40.1h0.9M48.1 36.7h0.9M46.2 39.8h0.9M43.6 36.1h0.9M44.1 37.2h0.9M49.9 41.5h0.9M44.2 37.2h0.9M50.9 36.6h0.9M54.5 36.3h0.9" stroke="#303030" stroke-width="0.9"/>
<path d="M40.3 39.2h0.9M52.6 41.6h0.9M43.1 35.3h0.9M41.1 39.2h0.9M43.2 39.1h0.9M53.2 36.2h0.9M53.2 41.7h0.9M50.4 40.7h0.9M51.1 36.2h0.9M50.8 41.2h0.9M57.4 40.5h0.9M57.3 37.7h0.9M56.5 35.9h0.9M53.5 35.1h0.9M54.4 42.5h0.9M44.4 37.0h0.9M48.1 34.8h0.9M59.0 39.2h0.9M51.5 41.3h0.9M60.0 37.4h0.9M46.0 35.3h0.9M49.3 35.7h0.9M41.0 37.2h0.9M57.5 39.9h0.9M52.0 41.8h0.9M52.9 36.0h0.9M54.4 40.5h0.9M58.2 39.3h0.9M57.0 37.6h0.9M45.1 41.3h0.9M43.8 36.4h0.9M49.7 35.7h0.9M40.6 37.0h0.9M56.9 36.5h0.9M40.9 40.1h0.9M53.2 35.0h0.9M45.2 35.2h0.9M57.4 40.3h0.9M39.6 38.2h0.9M43.6 40.1h0.9M44.9 35.6h0.9M43.4 39.6h0.9M56.7 39.7h0.9M46.9 34.8h0.9M60.0 38.2h0.9M47.5 42.9h0.9M51.4 41.9h0.9M41.7 41.8h0.9M54.2 34.9h0.9M40.3 41.1h0.9M40.9 40.0h0.9M53.7 35.1h0.9M58.9 37.2h0.9M46.8 36.1h0.9M39.7 37.5h0.9M59.9 39.5h0.9M58.8 37.5h0.9M42.3 40.1h0.9M56.6 36.6h0.9M50.7 40.8h0.9M49.8 40.8h0.9M49.0 35.7h0.9M50.9 35.2h0.9M54.2 41.8h0.9M57.1 36.5h0.9M57.4 39.3h0.9M40.1 40.8h0.9M41.7 39.2h0.9M47.3 34.4h0.9M42.9 40.1h0.9M50.0 42.4h0.9M39.0 38.6h0.9M48.2 42.6h0.9M46.4 41.0h0.9M39.4 38.7h0.9M41.9 37.3h0.9M39.7 40.4h0.9M41.3 38.8h0.9M43.2 35.2h0.9M58.7 39.0h0.9M45.3 40.3h0.9M50.5 41.3h0.9M55.4 41.7h0.9M44.8 42.1h0.9M39.8 35.9h0.9M40.1 40.9h0.9M53.7 40.7h0.9M50.7 41.5h0.9M58.0 37.9h0.9M44.9 41.4h0.9M57.5 39.8h0.9M56.7 38.7h0.9M42.3 41.3h0.9M45.5 41.5h0.9M45.9 40.7h0.9M51.6 34.6h0.9M48.4 35.6h0.9M50.6 35.5h0.9M53.8 40.1h0.9M43.1 41.5h0.9M42.8 41.4h0.9M52.3 36.1h0.9M54.1 39.9h0.9M51.9 41.8h0.9M39.3 38.4h0.9M52.7 41.6h0.9M41.1 36.7h0.9M48.8 41.7h0.9M44.2 40.4h0.9M57.8 38.8h0.9M55.2 37.4h0.9M55.6 40.9h0.9M57.2 38.0h0.9M51.7 35.4h0.9M56.4 36.0h0.9M49.9 42.2h0.9M40.4 38.6h0.9M56.3 36.6h0.9M59.2 40.1h0.9M59.4 38.1h0.9M43.4 36.0h0.9M55.0 35.9h0.9M54.8 40.6h0.9M54.5 40.6h0.9M48.7 35.7h0.9M43.4 37.2h0.9M54.9 36.0h0.9M42.0 39.3h0.9M45.1 35.9h0.9M56.7 38.8h0.9M48.4 42.4h0.9M40.6 37.1h0.9M41.3 41.4h0.9M48.2 41.7h0.9M45.3 42.0h0.9M42.5 38.3h0.9M45.9 35.4h0.9M42.2 40.6h0.9M53.4 40.7h0.9M40.7 36.5h0.9M49.5 36.0h0.9M58.3 39.5h0.9M49.4 40.8h0.9M43.9 36.5h0.9M49.8 34.0h0.9M40.9 37.1h0.9M56.6 36.1h0.9M54.0 40.5h0.9M58.8 40.0h0.9M44.5 41.9h0.9M52.0 41.9h0.9M46.2 40.5h0.9M49.9 41.7h0.9M48.6 35.4h0.9M52.0 42.2h0.9M57.1 39.2h0.9M41.8 36.5h0.9M46.9 41.5h0.9M51.5 35.9h0.9M59.3 40.2h0.9M59.1 37.9h0.9M56.5 38.0h0.9M53.1 36.2h0.9M57.2 38.8h0.9M41.3 40.2h0.9M43.8 41.0h0.9M46.4 41.4h0.9M41.2 40.6h0.9M42.1 38.6h0.9M45.2 35.7h0.9M48.4 36.1h0.9M41.8 40.2h0.9M42.6 35.5h0.9M47.8 41.9h0.9M44.2 42.1h0.9M41.8 41.5h0.9M47.8 34.7h0.9M45.8 40.8h0.9M56.2 41.2h0.9M51.2 36.1h0.9M55.3 38.7h0.9M46.8 41.6h0.9M57.2 35.1h0.9M52.7 35.5h0.9M60.5 39.3h0.9M48.0 40.8h0.9M42.7 39.8h0.9M58.5 38.6h0.9M54.5 36.6h0.9M55.8 39.9h0.9M58.4 37.2h0.9M58.2 39.5h0.9M54.4 36.9h0.9M48.0 41.1h0.9M41.9 35.9h0.9M41.9 41.0h0.9M40.3 37.5h0.9M40.1 37.2h0.9M54.8 40.6h0.9M46.6 41.5h0.9M44.0 40.9h0.9M56.0 40.8h0.9M43.6 37.1h0.9M47.1 35.6h0.9M40.9 36.9h0.9" stroke="#404040" stroke-width="0.9"/>
<path d="M39.8 39.6h0.9M56.1 36.8h0.9M53.4 42.7h0.9M49.9 42.9h0.9M50.3 42.1h0.9M59.9 38.0h0.9M57.4 40.1h0.9M55.4 35.7h0.9M41.7 41.0h0.9M57.8 35.4h0.9M50.4 42.8h0.9M58.1 36.2h0.9M60.4 39.6h0.9M44.2 43.1h0.9M59.1 39.6h0.9M42.0 41.0h0.9M53.5 34.9h0.9M58.2 38.0h0.9M61.4 40.5h0.9M42.3 42.7h0.9M54.4 41.2h0.9M43.1 35.9h0.9M59.8 38.5h0.9M39.8 35.5h0.9M40.2 34.6h0.9M41.3 39.9h0.9M49.4 41.9h0.9M47.6 35.4h0.9M60.7 37.2h0.9M40.6 35.0h0.9M39.9 35.1h0.9M44.7 41.6h0.9M41.4 42.0h0.9M57.7 41.5h0.9M57.7 39.9h0.9M43.2 35.9h0.9M41.2 34.6h0.9M56.9 34.2h0.9M40.6 38.9h0.9M42.4 40.4h0.9M40.5 41.6h0.9M62.4 38.2h0.9M52.8 42.8h0.9M58.1 37.3h0.9M42.1 43.1h0.9M51.7 34.5h0.9M41.6 41.0h0.9M40.1 40.6h0.9M59.8 41.4h0.9M55.4 35.0h0.9M52.0 33.7h0.9M46.8 34.9h0.9M47.9 43.5h0.9M39.4 41.8h0.9M56.7 41.8h0.9M42.4 35.9h0.9M46.1 35.1h0.9M48.8 41.8h0.9M39.7 41.3h0.9M45.8 35.2h0.9M41.1 42.1h0.9M55.0 34.8h0.9M50.3 42.3h0.9M39.5 39.7h0.9M61.3 38.3h0.9M40.1 39.5h0.9M57.5 40.1h0.9M60.1 35.7h0.9M57.0 41.6h0.9M55.4 41.6h0.9M42.3 42.1h0.9M47.4 41.5h0.9M59.5 39.1h0.9M54.2 34.9h0.9M40.2 35.3h0.9M45.8 42.1h0.9M39.1 41.6h0.9M41.5 40.9h0.9M39.5 40.1h0.9M60.3 39.4h0.9M59.7 41.3h0.9M47.5 41.8h0.9M41.7 36.3h0.9M60.3 36.1h0.9M39.5 38.8h0.9M44.9 35.0h0.9M39.2 38.0h0.9M61.8 39.0h0.9M60.2 40.8h0.9M50.6 41.3h0.9M60.6 41.0h0.9M55.4 34.1h0.9M53.9 33.8h0.9M50.8 34.2h0.9M49.8 41.7h0.9M49.7 34.9h0.9M55.7 40.5h0.9M47.6 42.8h0.9M40.8 39.4h0.9M43.1 34.5h0.9M40.3 37.2h0.9M57.5 42.2h0.9M40.1 39.3h0.9M41.4 42.3h0.9M52.7 35.1h0.9M43.2 34.8h0.9M49.3 34.6h0.9M39.9 37.9h0.9M44.6 34.2h0.9M41.4 40.6h0.9M54.9 35.9h0.9M56.4 40.8h0.9M52.5 41.5h0.9M54.8 35.3h0.9M56.7 34.7h0.9M56.9 36.3h0.9M47.8 34.9h0.9M45.2 35.3h0.9M56.1 41.2h0.9M50.6 34.6h0.9M40.0 40.3h0.9M44.1 35.9h0.9M60.0 35.7h0.9M48.5 33.8h0.9M46.0 34.9h0.9M50.3 34.7h0.9M45.4 35.1h0.9M50.2 34.8h0.9M61.7 39.0h0.9M46.8 33.6h0.9M53.1 43.3h0.9M58.4 37.2h0.9M60.2 38.9h0.9M41.0 36.9h0.9M58.4 35.2h0.9M60.7 37.7h0.9M56.3 33.9h0.9M60.3 40.2h0.9M44.0 34.8h0.9M43.9 35.2h0.9M50.5 34.2h0.9M61.9 38.2h0.9M39.4 36.9h0.9M39.5 40.1h0.9M53.8 35.1h0.9M54.3 35.4h0.9M59.6 36.1h0.9M42.7 35.5h0.9M59.2 37.9h0.9M57.7 38.1h0.9M59.0 38.9h0.9M48.5 34.7h0.9M46.7 35.7h0.9M54.2 42.5h0.9" stroke="#505050" stroke-width="0.9"/>
<path d="M60.6 40.5h0.9M60.6 35.7h0.9M58.9 35.8h0.9M58.4 40.4h0.9M55.9 34.9h0.9M41.5 35.5h0.9M55.1 34.9h0.9M46.0 42.9h0.9M50.3 43.1h0.9M44.6 33.4h0.9M52.7 34.4h0.9M57.4 35.5h0.9M50.5 30.7h0.9M58.5 37.8h0.9M62.3 35.6h0.9M42.1 42.3h0.9M41.6 41.5h0.9M61.5 41.8h0.9M59.6 37.6h0.9M56.7 42.1h0.9M46.9 34.2h0.9M61.8 36.9h0.9M52.4 34.3h0.9M44.6 43.2h0.9M56.8 42.9h0.9M50.5 33.3h0.9M39.6 41.0h0.9M45.9 33.3h0.9M59.0 42.1h0.9M45.0 42.4h0.9M49.6 33.8h0.9M58.9 35.8h0.9M42.2 34.2h0.9M42.6 42.1h0.9M60.3 38.3h0.9M50.2 34.0h0.9M61.1 36.8h0.9M45.2 34.5h0.9M46.2 43.0h0.9M59.1 34.3h0.9M58.9 38.8h0.9M69.5 35.1h0.9M55.4 34.1h0.9M56.9 34.7h0.9M55.1 35.3h0.9M60.5 38.4h0.9M39.6 41.5h0.9M45.9 42.7h0.9M40.5 41.7h0.9M44.1 35.1h0.9M53.6 34.3h0.9M60.6 41.8h0.9M59.5 37.7h0.9M50.5 43.1h0.9M59.1 38.7h0.9M40.9 41.4h0.9M58.3 41.8h0.9M63.5 41.1h0.9M43.5 43.8h0.9M43.0 42.2h0.9M60.1 33.4h0.9M61.8 33.3h0.9M42.9 34.1h0.9M52.2 33.8h0.9M56.5 41.9h0.9M68.4 35.8h0.9M58.3 33.9h0.9M41.7 42.6h0.9M53.5 42.5h0.9M42.2 35.1h0.9M47.3 42.9h0.9M43.6 42.8h0.9M62.0 37.8h0.9M50.9 43.2h0.9M46.0 33.9h0.9M54.2 41.9h0.9M45.4 42.6h0.9M51.8 42.7h0.9M41.0 43.4h0.9M70.1 42.5h0.9M54.8 35.4h0.9M40.8 41.7h0.9M49.0 33.6h0.9M61.2 37.9h0.9M42.4 41.4h0.9M63.3 36.8h0.9M59.5 39.3h0.9M60.8 40.8h0.9M61.2 37.2h0.9M63.2 38.1h0.9M54.5 42.7h0.9M46.6 33.7h0.9M59.6 41.4h0.9M41.5 36.0h0.9M56.7 42.2h0.9M59.3 40.6h0.9M48.7 33.7h0.9M58.7 35.9h0.9M59.7 39.9h0.9M57.5 41.9h0.9M41.5 42.4h0.9M41.0 36.0h0.9M50.3 42.7h0.9M47.9 43.7h0.9M60.7 41.0h0.9M43.3 33.9h0.9M61.0 40.1h0.9M51.6 42.9h0.9M39.2 35.2h0.9M61.6 41.4h0.9M48.4 44.1h0.9" stroke="#606060" stroke-width="0.9"/>
<path d="M60.5 41.3h0.9M63.4 38.4h0.9M53.5 42.8h0.9M53.5 32.5h0.9M62.3 35.5h0.9M58.1 33.5h0.9M65.4 36.8h0.9M55.5 33.0h0.9M65.7 34.6h0.9M48.5 33.6h0.9M65.6 40.3h0.9M63.6 36.1h0.9M56.5 42.2h0.9M61.6 34.5h0.9M48.1 44.1h0.9M62.8 38.2h0.9M63.3 38.3h0.9M41.4 33.7h0.9M66.9 32.2h0.9M40.8 33.5h0.9M67.1 42.8h0.9M43.8 33.6h0.9M59.0 43.9h0.9M62.4 41.4h0.9M39.9 43.3h0.9M46.7 43.7h0.9M49.8 33.1h0.9M46.3 42.9h0.9M44.1 43.2h0.9M51.0 30.7h0.9M63.6 40.8h0.9M53.9 33.9h0.9M55.0 34.3h0.9M63.8 42.6h0.9M53.3 44.0h0.9M60.2 34.9h0.9M47.1 30.1h0.9M69.0 42.1h0.9M45.7 43.9h0.9M41.4 42.9h0.9M72.2 37.2h0.9M56.9 42.8h0.9M65.6 37.9h0.9M65.3 37.6h0.9M61.2 37.1h0.9M65.6 40.7h0.9M40.7 41.8h0.9M43.2 33.4h0.9M62.8 39.6h0.9M64.3 41.0h0.9M57.9 35.5h0.9M44.4 42.9h0.9M43.7 33.9h0.9M64.1 37.9h0.9M50.5 33.6h0.9M64.0 36.2h0.9M63.0 36.9h0.9M48.4 43.5h0.9M54.5 44.3h0.9M46.3 31.7h0.9M60.4 41.1h0.9M62.6 39.4h0.9M62.3 40.6h0.9M60.0 42.0h0.9M58.7 34.6h0.9M47.9 43.6h0.9M70.1 39.9h0.9M63.3 38.5h0.9M59.9 33.4h0.9M56.6 42.5h0.9M46.9 32.7h0.9M40.0 31.7h0.9M56.7 34.4h0.9M54.1 32.5h0.9M51.3 44.2h0.9M41.9 43.2h0.9M48.0 43.6h0.9M64.3 39.2h0.9M49.6 43.4h0.9M56.9 33.9h0.9M67.0 33.2h0.9M64.0 39.2h0.9M62.3 37.2h0.9M39.4 34.2h0.9M63.8 42.5h0.9M43.5 43.3h0.9M63.9 40.0h0.9M54.8 42.4h0.9M40.6 34.6h0.9M61.1 35.7h0.9M61.6 34.2h0.9M48.0 33.0h0.9M48.2 44.1h0.9M39.6 34.1h0.9M65.2 37.6h0.9" stroke="#707070" stroke-width="0.9"/>
<path d="M65.4 39.2h0.9M42.6 33.0h0.9M60.3 31.8h0.9M54.2 32.1h0.9M42.0 44.1h0.9M60.7 32.6h0.9M68.5 39.8h0.9M53.1 43.6h0.9M61.0 42.4h0.9M41.7 33.7h0.9M56.9 33.4h0.9M50.7 32.5h0.9M44.0 30.5h0.9M66.7 38.0h0.9M67.9 35.4h0.9M42.8 44.0h0.9M73.4 40.5h0.9M62.9 36.4h0.9M40.5 43.1h0.9M62.7 34.1h0.9M67.5 42.6h0.9M62.7 34.7h0.9M57.0 43.2h0.9M62.7 42.7h0.9M54.6 31.2h0.9M53.2 44.0h0.9M63.8 35.1h0.9M46.0 31.7h0.9M43.3 43.8h0.9M56.8 33.0h0.9M52.3 44.2h0.9M65.7 38.2h0.9M42.6 31.1h0.9M39.5 30.7h0.9M59.4 42.9h0.9M56.6 42.9h0.9M57.1 33.4h0.9M65.3 40.9h0.9M61.4 42.1h0.9M63.9 36.0h0.9M43.4 32.7h0.9M52.2 30.0h0.9M62.1 44.0h0.9M49.2 30.6h0.9M45.0 31.9h0.9M61.7 43.0h0.9M62.2 33.0h0.9M55.7 33.8h0.9" stroke="#808080" stroke-width="0.9"/>
<path d="M69.6 40.6h0.9M52.7 44.3h0.9M64.5 35.2h0.9M64.0 41.1h0.9M39.6 32.5h0.9M40.1 43.5h0.9M60.5 33.3h0.9M67.1 37.5h0.9M55.9 31.2h0.9M40.7 44.1h0.9M64.2 41.3h0.9M66.8 36.8h0.9M68.0 33.7h0.9M65.3 37.2h0.9" stroke="#909090" stroke-width="0.9"/>
<path d="M60.1 32.7h0.85M62.8 32.6h0.85M62.8 33.5h0.85M61.5 32.9h0.85M60.0 32.8h0.85M60.2 33.5h0.85M59.6 33.2h0.85M61.6 32.2h0.85M61.2 32.9h0.85" stroke="#101010" stroke-width="0.85"/>
<path d="M60.5 33.7h0.85M57.8 32.6h0.85M63.6 32.1h0.85M63.8 32.8h0.85M62.7 33.8h0.85M61.9 34.7h0.85M60.3 32.1h0.85M63.3 31.6h0.85M63.1 32.2h0.85M57.9 33.8h0.85M62.1 32.7h0.85M62.5 32.5h0.85M59.0 32.6h0.85M62.4 33.2h0.85M59.5 33.6h0.85M63.0 32.8h0.85M60.3 32.7h0.85M59.9 34.2h0.85M59.8 32.8h0.85M59.8 34.1h0.85M59.3 34.6h0.85M62.7 32.5h0.85M59.9 32.1h0.85M58.0 33.5h0.85M61.9 33.2h0.85M61.4 32.5h0.85M59.5 33.7h0.85M59.9 33.3h0.85M62.9 33.5h0.85M64.1 33.2h0.85M62.3 32.2h0.85M61.7 31.6h0.85M63.0 34.5h0.85M57.3 32.8h0.85M63.4 32.3h0.85M59.9 33.7h0.85M61.6 32.2h0.85M60.4 32.2h0.85M59.5 32.1h0.85M58.4 34.0h0.85M62.0 31.8h0.85M60.7 32.9h0.85M63.5 33.5h0.85M59.2 32.9h0.85M63.3 31.7h0.85M59.7 32.0h0.85M63.2 31.8h0.85" stroke="#202020" stroke-width="0.85"/>
<path d="M63.4 31.4h0.85M55.9 34.1h0.85M58.3 34.0h0.85M61.4 35.2h0.85M59.3 33.9h0.85M61.4 34.1h0.85M55.5 34.0h0.85M58.9 32.3h0.85M60.0 35.0h0.85M61.2 31.6h0.85M62.8 31.3h0.85M62.2 33.8h0.85M58.5 34.8h0.85M56.8 31.8h0.85M59.1 33.9h0.85M61.8 34.6h0.85M66.0 32.0h0.85M60.0 34.3h0.85M58.0 35.5h0.85M56.2 32.7h0.85M59.4 33.4h0.85M62.6 34.5h0.85M58.7 32.5h0.85M61.0 31.6h0.85M58.8 33.5h0.85M61.8 34.5h0.85M60.6 32.6h0.85M64.9 33.2h0.85M65.3 33.7h0.85M58.2 34.5h0.85M64.3 31.2h0.85M63.8 33.2h0.85M66.0 33.3h0.85M61.2 34.1h0.85M58.6 33.5h0.85M59.1 32.9h0.85M59.4 34.2h0.85M55.6 33.8h0.85M65.7 32.7h0.85M56.3 34.1h0.85M57.8 31.8h0.85M65.7 33.7h0.85M57.1 30.8h0.85M64.3 31.5h0.85M61.2 33.1h0.85M64.5 32.1h0.85M65.2 33.3h0.85M62.7 35.6h0.85M65.4 33.4h0.85M62.4 32.3h0.85M62.7 33.4h0.85M58.8 33.9h0.85M64.3 32.9h0.85M64.1 34.6h0.85M60.1 33.5h0.85M60.3 30.8h0.85M60.0 31.6h0.85M59.8 33.3h0.85M63.1 33.0h0.85M58.5 33.7h0.85M59.0 33.5h0.85M62.3 32.4h0.85M56.6 34.1h0.85M60.4 31.6h0.85M61.5 31.6h0.85M60.7 34.8h0.85M63.9 31.8h0.85M58.0 32.0h0.85M61.7 33.7h0.85M62.7 32.5h0.85M63.5 30.6h0.85M62.6 33.2h0.85M60.2 30.8h0.85M61.2 34.0h0.85M65.3 33.5h0.85M63.9 32.1h0.85M61.8 34.4h0.85M64.6 32.3h0.85M59.7 32.3h0.85M64.1 33.1h0.85M65.6 32.0h0.85M63.5 32.2h0.85" stroke="#303030" stroke-width="0.85"/>
<path d="M63.8 34.7h0.85M62.9 34.8h0.85M60.2 31.0h0.85M60.2 30.3h0.85M53.4 31.7h0.85M65.0 34.8h0.85M55.8 31.5h0.85M67.4 33.7h0.85M61.6 31.1h0.85M55.5 32.1h0.85M57.8 33.6h0.85M58.9 35.8h0.85M65.3 35.0h0.85M54.8 33.4h0.85M62.4 31.0h0.85M60.6 31.6h0.85M62.5 29.8h0.85M65.9 33.4h0.85M63.3 31.7h0.85M65.5 32.0h0.85M57.2 31.6h0.85M60.8 31.6h0.85M61.8 31.2h0.85M54.9 34.4h0.85M56.2 34.1h0.85M63.7 32.7h0.85M53.3 32.7h0.85M66.0 30.6h0.85M63.1 31.2h0.85M57.1 31.6h0.85M57.0 32.7h0.85M57.0 32.9h0.85M61.2 35.6h0.85M62.1 35.4h0.85M60.5 34.6h0.85M58.7 33.4h0.85M64.6 32.5h0.85M62.4 34.9h0.85M61.8 34.3h0.85M62.6 35.6h0.85M56.5 35.3h0.85M64.3 33.7h0.85M56.6 32.7h0.85M57.2 34.7h0.85M60.7 35.5h0.85M55.1 33.6h0.85M67.7 33.3h0.85M56.1 34.3h0.85M64.8 34.0h0.85M58.2 34.6h0.85M56.1 31.6h0.85M63.9 35.6h0.85M54.5 33.7h0.85M63.1 31.6h0.85M54.8 32.8h0.85M61.1 30.4h0.85M65.5 30.9h0.85M56.7 32.3h0.85M58.9 35.5h0.85M61.9 34.8h0.85M59.5 31.2h0.85M59.5 31.7h0.85M63.4 31.7h0.85M65.1 34.3h0.85M56.3 30.2h0.85M60.2 34.7h0.85M64.1 34.5h0.85M66.1 32.5h0.85M59.4 31.4h0.85M61.6 31.4h0.85M55.2 33.6h0.85M56.1 31.7h0.85M60.4 34.8h0.85M64.3 35.4h0.85M60.5 30.9h0.85M65.9 32.1h0.85M56.9 32.3h0.85M58.4 30.8h0.85M59.7 31.7h0.85M56.1 32.2h0.85M56.6 33.2h0.85M64.1 33.9h0.85M58.0 30.5h0.85M62.6 33.8h0.85M58.2 33.9h0.85M61.1 30.3h0.85M64.3 31.2h0.85M54.5 31.2h0.85M57.4 33.1h0.85M60.9 31.6h0.85M55.8 34.4h0.85M58.9 35.6h0.85M66.1 32.2h0.85M67.7 34.0h0.85M66.5 34.2h0.85M57.0 35.2h0.85M57.1 35.5h0.85M67.1 31.4h0.85M61.9 34.8h0.85M60.9 31.4h0.85M59.7 30.7h0.85M59.4 35.6h0.85M64.4 32.9h0.85M56.6 33.8h0.85M64.3 32.8h0.85M60.7 30.5h0.85M62.3 31.0h0.85M56.8 30.3h0.85M59.4 30.9h0.85M62.7 34.9h0.85M63.0 32.2h0.85M55.6 33.5h0.85M58.0 34.5h0.85M59.1 35.1h0.85M58.1 33.1h0.85M56.4 32.0h0.85M65.5 33.3h0.85M55.3 34.4h0.85M55.2 33.9h0.85M63.7 34.3h0.85M57.5 34.0h0.85M65.0 33.1h0.85M60.0 34.8h0.85M61.0 34.9h0.85M62.6 34.7h0.85" stroke="#404040" stroke-width="0.85"/>
<path d="M66.5 35.7h0.85M54.7 31.8h0.85M60.8 36.3h0.85M67.2 32.1h0.85M64.8 30.7h0.85M61.5 28.9h0.85M68.7 34.0h0.85M62.9 30.5h0.85M63.5 30.1h0.85M68.3 32.9h0.85M65.5 32.1h0.85M61.6 29.6h0.85M63.2 35.7h0.85M64.1 36.6h0.85M56.3 31.6h0.85M59.7 29.0h0.85M68.1 32.7h0.85M65.4 31.7h0.85M68.7 35.5h0.85M61.9 29.5h0.85M53.3 31.6h0.85M61.4 36.2h0.85M56.0 32.0h0.85M64.1 29.2h0.85M65.8 34.8h0.85M66.7 32.3h0.85M58.7 36.7h0.85M63.9 36.4h0.85M54.3 33.6h0.85M56.7 31.0h0.85M64.5 34.3h0.85M64.8 30.5h0.85M65.6 30.5h0.85M66.7 32.4h0.85M55.9 33.8h0.85M56.5 32.0h0.85M53.8 35.8h0.85M53.7 34.7h0.85M59.5 35.4h0.85M66.9 30.6h0.85M68.0 32.1h0.85M57.2 34.4h0.85M56.4 34.0h0.85M67.9 32.2h0.85M53.9 31.7h0.85M62.7 36.7h0.85M55.8 32.3h0.85M52.6 33.8h0.85M61.6 35.4h0.85M55.8 33.2h0.85M64.9 35.3h0.85M68.4 34.0h0.85M61.7 35.3h0.85M54.8 33.5h0.85M67.4 36.4h0.85M62.7 35.9h0.85M54.5 30.8h0.85M65.4 30.9h0.85M58.8 30.1h0.85M54.8 32.7h0.85M66.6 30.9h0.85M62.8 30.1h0.85M68.2 33.9h0.85M58.1 30.3h0.85M59.3 35.9h0.85M61.8 30.3h0.85M53.3 34.3h0.85M53.2 32.7h0.85M54.3 35.5h0.85M63.7 31.0h0.85M58.5 30.2h0.85M55.4 32.3h0.85M65.9 31.5h0.85M57.1 35.7h0.85M58.6 30.1h0.85M52.8 33.5h0.85M57.9 30.1h0.85M57.3 32.3h0.85M62.5 36.5h0.85M67.9 34.5h0.85M60.5 31.3h0.85M56.9 30.9h0.85M65.2 32.1h0.85M65.5 34.7h0.85M54.7 32.8h0.85M64.0 29.9h0.85M64.4 31.4h0.85M54.9 34.7h0.85M64.5 30.9h0.85M57.9 35.5h0.85M67.2 31.8h0.85M52.2 31.2h0.85M68.7 33.4h0.85M61.3 37.1h0.85M56.8 31.4h0.85M58.8 35.2h0.85M65.8 29.5h0.85M66.3 30.2h0.85M59.7 30.6h0.85M58.8 29.0h0.85M55.4 34.7h0.85M62.2 35.1h0.85M65.8 34.7h0.85" stroke="#505050" stroke-width="0.85"/>
<path d="M59.1 36.1h0.85M65.4 30.2h0.85M58.0 29.4h0.85M67.5 36.4h0.85M64.6 35.6h0.85M53.4 31.0h0.85M66.1 36.9h0.85M53.7 32.6h0.85M70.0 30.4h0.85M66.1 28.9h0.85M65.1 30.5h0.85M53.1 33.1h0.85M68.1 33.2h0.85M58.9 30.0h0.85M55.4 29.8h0.85M55.0 31.6h0.85M51.0 31.0h0.85M55.3 30.5h0.85M59.3 36.9h0.85M52.0 35.3h0.85M61.1 28.0h0.85M60.6 29.1h0.85M64.7 29.2h0.85M60.6 29.7h0.85M54.9 31.3h0.85M63.7 28.9h0.85M66.1 35.1h0.85M63.8 28.4h0.85M70.3 31.9h0.85M68.7 36.2h0.85M62.7 29.1h0.85M61.4 36.2h0.85M59.4 29.7h0.85M68.7 34.8h0.85M68.3 32.5h0.85M70.6 35.0h0.85M69.0 35.4h0.85M69.2 35.9h0.85M56.0 31.1h0.85M52.2 33.5h0.85M59.2 36.1h0.85M53.3 33.4h0.85M54.8 31.4h0.85M66.2 34.7h0.85M67.4 31.2h0.85M68.7 35.7h0.85M64.6 35.9h0.85M64.5 35.1h0.85M69.6 32.8h0.85M58.1 29.6h0.85M50.9 34.0h0.85M52.0 34.6h0.85M53.9 32.3h0.85M67.8 35.1h0.85M57.1 30.6h0.85M53.6 33.4h0.85M62.6 30.3h0.85M67.3 35.9h0.85M63.7 37.8h0.85M53.0 33.5h0.85M57.4 36.0h0.85M57.7 30.6h0.85M54.0 30.7h0.85M65.1 36.0h0.85M58.0 36.7h0.85M57.5 35.7h0.85M62.1 29.8h0.85M65.3 28.9h0.85M65.3 28.8h0.85M60.2 29.6h0.85M51.7 35.0h0.85M68.2 32.0h0.85M62.6 36.9h0.85M59.3 37.2h0.85M57.3 35.1h0.85M65.9 37.2h0.85M60.6 28.5h0.85M55.3 29.2h0.85M53.3 34.3h0.85M68.9 31.6h0.85M54.6 33.3h0.85M70.6 31.9h0.85M64.3 30.5h0.85M65.0 28.4h0.85M67.8 32.9h0.85M58.7 37.0h0.85M64.5 28.8h0.85M65.0 35.6h0.85M65.6 36.5h0.85M66.6 35.5h0.85M68.3 30.5h0.85M51.0 33.1h0.85M54.5 30.9h0.85M52.7 36.0h0.85M69.8 32.2h0.85M65.9 31.1h0.85M70.8 30.8h0.85M68.0 30.9h0.85M60.5 28.9h0.85M56.2 30.2h0.85M66.0 35.2h0.85M60.9 36.6h0.85M68.6 32.8h0.85M54.6 35.5h0.85M52.5 30.6h0.85M59.8 28.7h0.85M60.0 36.8h0.85M62.6 36.5h0.85M55.8 36.2h0.85M55.5 35.0h0.85M53.5 32.1h0.85M54.7 28.8h0.85M57.4 30.1h0.85M69.8 30.8h0.85" stroke="#606060" stroke-width="0.85"/>
<path d="M60.4 37.6h0.85M72.0 31.3h0.85M69.8 29.5h0.85M52.7 37.2h0.85M57.1 36.0h0.85M55.9 27.7h0.85M70.2 36.6h0.85M61.2 39.0h0.85M52.9 31.1h0.85M63.4 37.8h0.85M56.7 28.6h0.85M58.4 28.5h0.85M60.7 38.4h0.85M69.0 35.9h0.85M72.4 33.7h0.85M50.4 31.1h0.85M67.0 37.3h0.85M64.5 28.4h0.85M51.2 34.6h0.85M50.2 36.5h0.85M66.7 36.3h0.85M61.9 37.5h0.85M60.1 37.8h0.85M58.4 38.4h0.85M52.6 35.0h0.85M58.2 37.4h0.85M54.3 34.8h0.85M62.1 37.3h0.85M67.7 29.2h0.85M71.5 31.8h0.85M61.7 38.3h0.85M59.4 37.2h0.85M68.8 35.1h0.85M54.4 31.1h0.85M51.6 30.6h0.85M56.1 29.2h0.85M68.2 31.1h0.85M72.5 35.1h0.85M72.4 29.6h0.85M71.1 32.7h0.85M73.9 34.9h0.85M55.9 36.2h0.85M57.0 38.3h0.85M58.5 36.7h0.85M60.1 37.1h0.85M50.5 32.8h0.85M51.9 34.1h0.85M69.4 30.7h0.85M61.7 38.8h0.85M53.8 30.2h0.85M55.5 36.5h0.85M67.9 30.7h0.85M60.8 28.4h0.85M51.7 32.5h0.85M72.0 32.5h0.85M69.2 35.1h0.85M52.8 32.8h0.85M71.6 34.6h0.85M58.4 36.8h0.85M72.4 31.1h0.85M62.9 27.4h0.85M72.0 31.8h0.85M50.0 31.4h0.85M51.1 35.7h0.85M52.8 37.4h0.85M52.6 35.4h0.85M70.4 29.8h0.85M57.4 37.6h0.85M66.5 29.2h0.85M59.1 38.3h0.85M70.5 30.4h0.85M54.1 29.2h0.85M64.5 29.4h0.85M63.4 37.3h0.85M57.8 37.4h0.85M71.5 35.8h0.85M68.0 29.7h0.85M61.3 28.7h0.85M57.2 37.0h0.85M55.2 35.6h0.85M70.0 30.6h0.85M59.1 37.1h0.85" stroke="#707070" stroke-width="0.85"/>
<path d="M65.2 27.7h0.85M65.3 27.6h0.85M49.4 31.8h0.85M55.9 40.3h0.85M46.2 36.3h0.85M71.9 30.7h0.85M52.2 36.7h0.85M45.9 35.5h0.85M50.8 35.8h0.85M55.7 40.5h0.85M64.6 27.7h0.85M71.9 31.1h0.85M51.0 36.3h0.85M50.5 31.9h0.85M44.3 33.0h0.85M49.7 32.2h0.85M53.9 27.5h0.85M48.9 30.4h0.85M64.1 28.3h0.85M48.0 35.8h0.85M61.1 27.9h0.85M61.1 39.0h0.85M71.5 36.7h0.85M70.9 37.4h0.85M53.6 37.5h0.85M64.2 37.8h0.85M53.6 36.9h0.85M50.4 29.3h0.85M71.0 28.2h0.85M54.9 27.1h0.85M54.8 29.3h0.85M60.9 39.9h0.85M55.0 27.7h0.85M52.6 28.4h0.85M69.5 29.6h0.85M72.6 34.0h0.85M70.5 31.4h0.85M44.9 33.7h0.85M53.6 38.0h0.85M54.7 28.8h0.85M70.4 36.2h0.85M64.0 39.9h0.85M72.5 35.1h0.85M59.8 38.1h0.85M49.8 34.4h0.85M51.1 29.7h0.85M72.9 35.0h0.85M46.9 35.6h0.85M61.8 28.6h0.85M61.3 41.6h0.85M63.3 27.7h0.85M52.9 36.5h0.85M47.7 36.1h0.85M47.8 32.0h0.85M71.1 32.1h0.85M55.7 36.7h0.85M47.8 32.1h0.85M70.7 36.5h0.85M70.6 40.0h0.85M47.6 34.1h0.85M52.2 34.8h0.85M72.3 34.9h0.85M58.2 28.2h0.85M65.7 37.7h0.85M65.7 37.4h0.85M59.0 39.4h0.85M51.2 33.1h0.85" stroke="#808080" stroke-width="0.85"/>
<path d="M69.0 37.8h0.85M65.9 28.1h0.85M72.3 39.1h0.85M46.5 32.2h0.85M47.4 34.6h0.85M54.3 27.1h0.85M48.6 30.5h0.85M53.4 38.2h0.85M69.3 28.2h0.85M70.6 29.5h0.85M71.7 30.6h0.85M69.4 38.6h0.85M65.4 27.5h0.85M72.7 29.1h0.85M65.3 39.4h0.85M50.2 28.5h0.85M57.2 27.0h0.85M72.3 32.0h0.85M61.1 38.7h0.85M43.6 31.8h0.85M46.6 32.9h0.85M73.2 30.5h0.85M49.3 36.4h0.85M69.5 29.1h0.85M67.1 38.2h0.85M49.5 27.3h0.85M53.7 38.6h0.85M67.3 37.8h0.85M51.3 36.7h0.85M48.8 30.2h0.85M43.8 32.6h0.85M70.8 28.3h0.85M55.5 38.2h0.85M61.5 38.9h0.85M62.4 39.0h0.85M51.8 29.0h0.85" stroke="#909090" stroke-width="0.85"/>
<path d="M66.8 39.8h0.85M49.6 29.5h0.85M51.2 28.7h0.85M73.1 28.9h0.85M45.1 31.6h0.85M65.5 41.7h0.85M47.6 34.7h0.85M51.5 28.4h0.85" stroke="#a0a0a0" stroke-width="0.85"/>
<path d="M52.4 37.8h5.4v2h-5.4z" fill="#fff"/>
<path d="M78 27V43" stroke="#bbb" stroke-width="0.8"/>
<ellipse cx="51" cy="50" rx="11.6" ry="3.3" fill="#d8d8d8" stroke="#222" stroke-width="1.4"/>
<ellipse cx="51" cy="50.2" rx="8.5" ry="1.2" fill="#777" stroke="#555" stroke-width="0.5"/>
<path d="M83.00 52.50C83.00 54.08 82.70 55.88 82.21 57.25C81.72 58.62 80.90 59.94 80.05 60.73C79.20 61.52 78.08 62.00 77.10 62.00C76.12 62.00 75.00 61.52 74.15 60.73C73.30 59.94 72.48 58.62 71.99 57.25C71.50 55.88 71.20 54.08 71.20 52.50C71.20 50.92 71.50 49.12 71.99 47.75C72.48 46.38 73.30 45.06 74.15 44.27C75.00 43.48 76.12 43.00 77.10 43.00C78.08 43.00 79.20 43.48 80.05 44.27C80.90 45.06 81.72 46.38 82.21 47.75C82.70 49.12 83.00 50.92 83.00 52.50Z" fill="none" stroke="#787878" stroke-width="0.7"/>
<path d="M81.82 52.50C81.82 53.77 81.58 55.20 81.19 56.30C80.79 57.40 80.14 58.45 79.46 59.08C78.78 59.72 77.89 60.10 77.10 60.10C76.31 60.10 75.42 59.72 74.74 59.08C74.06 58.45 73.41 57.40 73.01 56.30C72.62 55.20 72.38 53.77 72.38 52.50C72.38 51.23 72.62 49.80 73.01 48.70C73.41 47.60 74.06 46.55 74.74 45.92C75.42 45.28 76.31 44.90 77.10 44.90C77.89 44.90 78.78 45.28 79.46 45.92C80.14 46.55 80.79 47.60 81.19 48.70C81.58 49.80 81.82 51.23 81.82 52.50Z" fill="none" stroke="#6e6e6e" stroke-width="0.7"/>
<ellipse cx="78.4" cy="49.3" rx="1.6" ry="2.5" fill="#fff" stroke="#111" stroke-width="1.5"/>
<path d="M78.4 52.3V61" stroke="#111" stroke-width="2.3"/>
</g>
<clipPath id="cp1"><rect x="40.699999999999996" y="84.9" width="53.400000000000006" height="50.2"/></clipPath><g clip-path="url(#cp1)">
<path d="M57.5 109.2h0.7" stroke="#404040" stroke-width="0.7"/>
<path d="M57.1 109.3h0.7M55.4 109.5h0.7M59.7 108.1h0.7M56.6 110.2h0.7M57.6 110.1h0.7M58.2 109.8h0.7" stroke="#505050" stroke-width="0.7"/>
<path d="M57.7 111.5h0.7M55.2 108.4h0.7M60.8 107.5h0.7M58.5 108.0h0.7M57.1 108.5h0.7M58.9 108.8h0.7M61.0 108.0h0.7M58.7 109.4h0.7M50.7 109.1h0.7M61.3 108.9h0.7M54.5 109.0h0.7M55.0 106.5h0.7M53.1 108.6h0.7M59.9 106.9h0.7M59.8 108.1h0.7M58.7 110.8h0.7M51.6 110.1h0.7M55.7 110.8h0.7M53.5 111.0h0.7M57.6 106.5h0.7M60.5 109.4h0.7M55.8 108.3h0.7" stroke="#606060" stroke-width="0.7"/>
<path d="M54.1 108.3h0.7M58.0 109.9h0.7M59.6 109.8h0.7M54.4 108.7h0.7M54.0 108.5h0.7M50.6 109.7h0.7M64.8 109.1h0.7M53.1 110.2h0.7M51.1 107.4h0.7M51.6 107.1h0.7M51.6 110.9h0.7M59.3 108.8h0.7M58.2 110.1h0.7M59.5 106.0h0.7M63.3 106.8h0.7M52.3 110.2h0.7M60.4 106.0h0.7M54.7 109.2h0.7M50.6 111.4h0.7M63.0 109.0h0.7M58.2 111.3h0.7M53.9 105.6h0.7M59.4 106.0h0.7M57.8 110.7h0.7M62.0 110.3h0.7M64.6 109.2h0.7M64.0 109.9h0.7M61.6 111.4h0.7M49.0 107.8h0.7M49.3 109.1h0.7M59.9 107.4h0.7M54.1 107.7h0.7M65.2 109.1h0.7M58.8 107.0h0.7M54.5 111.5h0.7M58.2 106.8h0.7M61.6 107.9h0.7M64.6 109.6h0.7M57.0 106.8h0.7M61.5 107.9h0.7M54.3 111.5h0.7M52.7 108.6h0.7M57.5 112.2h0.7M58.3 106.5h0.7M64.4 109.3h0.7M51.9 112.1h0.7M57.6 111.2h0.7M52.6 107.7h0.7M61.3 105.5h0.7M59.9 110.9h0.7M63.2 111.1h0.7M61.8 107.7h0.7M53.9 111.2h0.7M58.0 107.1h0.7M58.0 111.8h0.7M56.2 110.5h0.7M56.1 107.2h0.7M58.4 106.4h0.7" stroke="#707070" stroke-width="0.7"/>
<path d="M50.8 109.3h0.7M52.5 109.0h0.7M53.5 110.5h0.7M49.2 108.0h0.7M64.0 106.7h0.7M56.9 106.5h0.7M48.3 109.2h0.7M54.7 112.5h0.7M53.0 113.0h0.7M67.0 109.2h0.7M57.5 106.8h0.7M65.6 109.9h0.7M63.1 107.3h0.7M65.3 108.5h0.7M45.1 110.6h0.7M50.0 111.3h0.7M66.2 110.1h0.7M56.5 105.1h0.7M54.0 111.4h0.7M66.4 107.6h0.7M53.7 110.4h0.7M61.9 105.1h0.7M60.5 112.3h0.7M68.8 109.5h0.7M52.4 111.3h0.7M59.3 110.4h0.7M55.5 104.8h0.7M65.5 106.4h0.7M56.8 112.7h0.7M49.9 109.2h0.7M47.0 109.0h0.7M53.6 107.5h0.7M55.5 106.6h0.7M66.6 105.5h0.7M65.9 111.1h0.7M62.8 110.3h0.7M58.6 104.4h0.7M60.3 108.4h0.7M61.2 111.7h0.7M51.9 105.8h0.7M48.4 108.4h0.7M56.0 111.7h0.7M57.3 107.4h0.7M53.7 111.7h0.7M48.6 105.3h0.7M49.9 106.8h0.7M57.0 105.3h0.7M57.1 111.7h0.7M64.9 110.2h0.7M58.9 106.6h0.7M55.3 107.7h0.7M50.9 106.0h0.7M65.0 108.3h0.7M60.0 113.0h0.7M59.9 105.2h0.7M67.8 108.3h0.7M50.4 112.2h0.7M56.0 112.9h0.7M63.1 110.5h0.7M62.5 108.0h0.7M57.1 107.0h0.7M57.4 113.0h0.7M52.1 111.8h0.7M50.8 107.7h0.7M62.2 106.2h0.7M59.3 105.9h0.7" stroke="#808080" stroke-width="0.7"/>
<path d="M60.8 105.1h0.7M44.3 106.2h0.7M48.5 110.0h0.7M46.5 109.1h0.7M45.2 107.3h0.7M61.0 111.8h0.7M50.1 112.9h0.7M58.5 105.7h0.7M64.4 110.3h0.7M42.7 108.1h0.7M56.6 112.6h0.7M64.8 112.1h0.7M60.5 112.1h0.7M56.7 114.4h0.7M66.9 111.8h0.7M51.0 106.0h0.7M65.8 111.0h0.7M54.2 106.6h0.7M63.7 110.4h0.7M70.5 107.5h0.7M64.8 113.3h0.7M69.9 106.8h0.7M47.2 106.0h0.7M43.5 108.6h0.7M48.0 108.1h0.7M50.3 112.5h0.7M68.3 106.1h0.7M65.8 108.4h0.7M71.7 106.6h0.7M57.5 104.0h0.7M66.3 109.6h0.7M70.1 109.9h0.7M57.6 112.7h0.7M50.9 105.0h0.7M65.1 110.1h0.7M55.7 114.3h0.7M50.4 113.4h0.7M55.1 104.4h0.7M51.5 111.4h0.7M50.5 106.1h0.7M69.8 109.6h0.7M59.1 113.6h0.7M63.9 111.4h0.7M61.5 105.1h0.7M64.2 107.3h0.7M52.0 106.1h0.7M52.4 104.4h0.7M50.1 113.4h0.7M51.2 105.9h0.7M49.0 109.4h0.7M61.9 107.2h0.7M52.9 112.0h0.7M61.5 112.0h0.7M67.5 108.4h0.7M51.6 105.9h0.7M42.3 110.7h0.7M54.2 112.6h0.7M49.3 110.8h0.7M63.2 111.2h0.7M56.4 113.9h0.7M64.2 105.0h0.7M65.7 107.1h0.7M46.0 110.7h0.7M58.8 103.7h0.7M49.1 105.1h0.7M60.2 113.2h0.7M55.7 105.5h0.7M64.3 111.1h0.7M59.9 105.6h0.7M59.7 105.5h0.7M67.2 108.1h0.7M64.2 113.9h0.7M45.6 107.5h0.7" stroke="#909090" stroke-width="0.7"/>
<path d="M64.0 113.6h0.7M68.7 107.9h0.7M62.3 103.3h0.7M71.8 108.4h0.7M46.4 111.1h0.7M51.8 114.0h0.7M59.3 104.2h0.7M47.6 112.2h0.7M50.4 113.3h0.7M43.4 109.2h0.7M63.5 113.9h0.7M49.6 112.9h0.7M67.1 107.2h0.7M48.6 105.6h0.7M66.9 104.6h0.7M48.0 112.5h0.7M64.3 113.0h0.7M61.0 114.2h0.7M67.3 109.9h0.7M59.4 103.5h0.7M51.8 102.5h0.7M49.4 113.0h0.7M56.6 103.3h0.7M69.3 111.8h0.7M63.8 104.6h0.7M45.9 105.1h0.7M69.0 112.1h0.7M45.6 108.7h0.7M45.0 111.6h0.7M56.0 114.4h0.7M68.5 106.9h0.7M45.1 109.2h0.7M62.6 113.2h0.7M63.0 105.7h0.7M47.4 112.5h0.7M70.9 106.2h0.7M60.6 103.3h0.7M46.6 108.7h0.7M47.1 106.3h0.7M71.1 110.8h0.7" stroke="#a0a0a0" stroke-width="0.7"/>
<path d="M71.7 108.9h0.7M68.9 105.4h0.7M46.1 103.6h0.7M67.9 104.7h0.7M52.3 102.8h0.7M44.3 109.4h0.7M69.1 105.6h0.7M42.4 107.0h0.7M59.0 103.2h0.7M43.1 105.7h0.7M55.4 102.6h0.7M49.8 114.5h0.7M44.3 114.0h0.7M58.9 103.8h0.7M45.7 105.2h0.7M68.8 113.3h0.7M57.2 104.0h0.7M55.8 114.2h0.7M61.4 113.9h0.7M63.1 103.6h0.7M72.1 111.1h0.7M69.1 106.5h0.7M53.1 103.7h0.7M56.2 114.4h0.7" stroke="#b0b0b0" stroke-width="0.7"/>
<path d="M71.6 114.7h0.7M62.2 102.1h0.7M68.5 114.4h0.7M71.8 111.9h0.7M48.2 103.0h0.7M66.2 114.8h0.7M73.1 114.0h0.7M42.9 105.3h0.7M44.3 112.8h0.7M75.2 104.3h0.7" stroke="#c0c0c0" stroke-width="0.7"/>
<path d="M48.4 102.3h0.7M68.4 102.4h0.7M70.2 103.7h0.7M75.4 108.2h0.7" stroke="#d0d0d0" stroke-width="0.7"/>
<path d="M41.50 134.50C38.50 133.25 41.00 129.58 41.50 127.00C42.00 124.42 43.08 121.17 44.50 119.00C45.92 116.83 47.92 115.20 50.00 114.00C52.08 112.80 54.67 112.27 57.00 111.80C59.33 111.33 63.08 110.17 64.00 111.20C64.92 112.23 63.08 115.53 62.50 118.00C61.92 120.47 61.00 123.25 60.50 126.00C60.00 128.75 62.67 133.08 59.50 134.50C56.33 135.92 44.50 135.75 41.50 134.50Z" fill="#dadada" stroke="none"/>
<path d="M41.50 134.50C38.50 133.25 41.00 129.58 41.50 127.00C42.00 124.42 43.08 121.17 44.50 119.00C45.92 116.83 47.92 115.20 50.00 114.00C52.08 112.80 54.67 112.27 57.00 111.80C59.33 111.33 63.08 110.17 64.00 111.20C64.92 112.23 63.08 115.53 62.50 118.00C61.92 120.47 61.00 123.25 60.50 126.00C60.00 128.75 62.67 133.08 59.50 134.50C56.33 135.92 44.50 135.75 41.50 134.50Z" fill="none" stroke="#5a5a5a" stroke-width="0.7"/>
<path d="M43.20 133.20C40.80 132.20 42.80 129.27 43.20 127.20C43.60 125.13 44.47 122.53 45.60 120.80C46.73 119.07 48.33 117.76 50.00 116.80C51.67 115.84 53.73 115.41 55.60 115.04C57.47 114.67 60.47 113.73 61.20 114.56C61.93 115.39 60.47 118.03 60.00 120.00C59.53 121.97 58.80 124.20 58.40 126.40C58.00 128.60 60.13 132.07 57.60 133.20C55.07 134.33 45.60 134.20 43.20 133.20Z" fill="none" stroke="#6a6a6a" stroke-width="0.7"/>
<path d="M44.90 131.90C43.10 131.15 44.60 128.95 44.90 127.40C45.20 125.85 45.85 123.90 46.70 122.60C47.55 121.30 48.75 120.32 50.00 119.60C51.25 118.88 52.80 118.56 54.20 118.28C55.60 118.00 57.85 117.30 58.40 117.92C58.95 118.54 57.85 120.52 57.50 122.00C57.15 123.48 56.60 125.15 56.30 126.80C56.00 128.45 57.60 131.05 55.70 131.90C53.80 132.75 46.70 132.65 44.90 131.90Z" fill="none" stroke="#7b7b7b" stroke-width="0.7"/>
<path d="M46.60 130.60C45.40 130.10 46.40 128.63 46.60 127.60C46.80 126.57 47.23 125.27 47.80 124.40C48.37 123.53 49.17 122.88 50.00 122.40C50.83 121.92 51.87 121.71 52.80 121.52C53.73 121.33 55.23 120.87 55.60 121.28C55.97 121.69 55.23 123.01 55.00 124.00C54.77 124.99 54.40 126.10 54.20 127.20C54.00 128.30 55.07 130.03 53.80 130.60C52.53 131.17 47.80 131.10 46.60 130.60Z" fill="none" stroke="#8c8c8c" stroke-width="0.7"/>
<path d="M85.20 125.00C85.20 126.58 84.75 128.38 84.01 129.75C83.27 131.12 82.03 132.44 80.75 133.23C79.47 134.02 77.78 134.50 76.30 134.50C74.82 134.50 73.13 134.02 71.85 133.23C70.57 132.44 69.33 131.12 68.59 129.75C67.85 128.38 67.40 126.58 67.40 125.00C67.40 123.42 67.85 121.62 68.59 120.25C69.33 118.88 70.57 117.56 71.85 116.77C73.13 115.98 74.82 115.50 76.30 115.50C77.78 115.50 79.47 115.98 80.75 116.77C82.03 117.56 83.27 118.88 84.01 120.25C84.75 121.62 85.20 123.42 85.20 125.00Z" fill="none" stroke="#6e6e6e" stroke-width="0.7"/>
<path d="M83.87 125.00C83.87 126.35 83.48 127.87 82.85 129.04C82.22 130.20 81.17 131.32 80.08 131.99C78.99 132.67 77.56 133.07 76.30 133.07C75.04 133.07 73.61 132.67 72.52 131.99C71.43 131.32 70.38 130.20 69.75 129.04C69.12 127.87 68.73 126.35 68.73 125.00C68.73 123.65 69.12 122.13 69.75 120.96C70.38 119.80 71.43 118.68 72.52 118.01C73.61 117.33 75.04 116.92 76.30 116.92C77.56 116.92 78.99 117.33 80.08 118.01C81.17 118.68 82.22 119.80 82.85 120.96C83.48 122.13 83.87 123.65 83.87 125.00Z" fill="none" stroke="#969696" stroke-width="0.7"/>
<ellipse cx="74" cy="125.5" rx="2.4" ry="5" fill="#888" stroke="#222" stroke-width="1.1"/>
<ellipse cx="74" cy="124.5" rx="0.8" ry="2.5" fill="#fff"/>
</g>
<clipPath id="cp2"><rect x="110.7" y="15.6" width="51.099999999999994" height="50.2"/></clipPath><g clip-path="url(#cp2)">
<path d="M118.3 28.7h0.6M127.4 42.4h0.6M121.3 28.7h0.6M123.6 44.2h0.6M121.5 43.8h0.6M133.9 29.3h0.6M130.9 36.7h0.6M127.9 49.9h0.6M120.2 26.5h0.6M140.6 35.7h0.6M122.8 33.9h0.6M126.8 48.9h0.6M123.0 31.2h0.6M132.0 39.1h0.6M140.9 46.1h0.6M126.5 30.9h0.6M138.1 49.7h0.6M118.7 43.6h0.6M138.8 41.6h0.6M123.2 45.1h0.6M135.5 30.7h0.6M133.4 31.3h0.6M119.0 34.1h0.6M126.0 35.5h0.6M133.5 46.1h0.6M141.1 49.4h0.6M141.8 45.0h0.6M125.4 30.2h0.6M133.0 39.1h0.6M134.2 28.2h0.6M122.6 48.1h0.6M132.4 42.7h0.6M120.3 35.6h0.6M139.8 41.6h0.6M141.8 30.7h0.6M128.9 45.2h0.6M128.7 44.9h0.6M131.5 28.8h0.6M120.4 49.6h0.6M120.9 30.7h0.6M126.0 43.1h0.6M138.5 37.4h0.6M130.0 44.9h0.6M124.7 34.9h0.6M132.7 41.3h0.6M118.9 28.7h0.6M121.3 43.4h0.6M134.6 49.4h0.6M136.4 32.1h0.6M136.4 49.6h0.6M126.4 26.3h0.6M127.0 32.8h0.6M122.2 27.1h0.6M121.0 46.8h0.6M119.2 40.7h0.6M123.0 30.6h0.6M137.7 33.2h0.6M122.4 36.9h0.6M134.7 38.6h0.6M138.6 35.6h0.6" stroke="#bebebe" stroke-width="0.6"/>
<path d="M126.3 48.6h0.6M130.2 60.3h0.6M133.4 57.2h0.6M126.7 53.7h0.6M139.3 53.9h0.6M141.1 60.0h0.6M131.3 45.0h0.6M137.8 47.1h0.6M125.2 57.4h0.6M139.3 59.2h0.6M141.2 48.4h0.6M126.4 47.1h0.6M141.6 46.9h0.6M127.7 45.3h0.6M125.8 45.7h0.6M131.0 47.8h0.6M130.3 60.8h0.6M127.8 58.8h0.6M137.6 54.7h0.6M134.8 58.1h0.6M135.0 48.9h0.6M130.6 49.1h0.6M131.8 61.8h0.6M132.3 46.2h0.6M133.1 58.8h0.6M132.6 56.9h0.6M126.5 46.1h0.6M136.2 45.8h0.6M130.1 51.5h0.6M128.3 45.6h0.6" stroke="#c8c8c8" stroke-width="0.6"/>
<ellipse cx="136.3" cy="35.4" rx="2.2" ry="2.7" fill="none" stroke="#888" stroke-width="0.8"/>
<path d="M122 33c3-2 6-1 9 1" fill="none" stroke="#bbb" stroke-width="0.6"/>
<path d="M154.60 51.50C154.60 53.38 154.33 55.52 153.88 57.15C153.43 58.78 152.68 60.34 151.90 61.29C151.12 62.23 150.10 62.80 149.20 62.80C148.30 62.80 147.28 62.23 146.50 61.29C145.72 60.34 144.97 58.78 144.52 57.15C144.07 55.52 143.80 53.38 143.80 51.50C143.80 49.62 144.07 47.48 144.52 45.85C144.97 44.22 145.72 42.66 146.50 41.71C147.28 40.77 148.30 40.20 149.20 40.20C150.10 40.20 151.12 40.77 151.90 41.71C152.68 42.66 153.43 44.22 153.88 45.85C154.33 47.48 154.60 49.62 154.60 51.50Z" fill="#d2d2d2" stroke="none"/>
<path d="M154.60 51.50C154.60 53.38 154.33 55.52 153.88 57.15C153.43 58.78 152.68 60.34 151.90 61.29C151.12 62.23 150.10 62.80 149.20 62.80C148.30 62.80 147.28 62.23 146.50 61.29C145.72 60.34 144.97 58.78 144.52 57.15C144.07 55.52 143.80 53.38 143.80 51.50C143.80 49.62 144.07 47.48 144.52 45.85C144.97 44.22 145.72 42.66 146.50 41.71C147.28 40.77 148.30 40.20 149.20 40.20C150.10 40.20 151.12 40.77 151.90 41.71C152.68 42.66 153.43 44.22 153.88 45.85C154.33 47.48 154.60 49.62 154.60 51.50Z" fill="none" stroke="#787878" stroke-width="0.75"/>
<path d="M153.43 51.50C153.43 52.98 153.22 54.65 152.86 55.93C152.51 57.20 151.93 58.43 151.31 59.17C150.70 59.90 149.90 60.35 149.20 60.35C148.50 60.35 147.70 59.90 147.09 59.17C146.47 58.43 145.89 57.20 145.54 55.93C145.18 54.65 144.97 52.98 144.97 51.50C144.97 50.02 145.18 48.35 145.54 47.07C145.89 45.80 146.47 44.57 147.09 43.83C147.70 43.10 148.50 42.65 149.20 42.65C149.90 42.65 150.70 43.10 151.31 43.83C151.93 44.57 152.51 45.80 152.86 47.07C153.22 48.35 153.43 50.02 153.43 51.50Z" fill="none" stroke="#676767" stroke-width="0.75"/>
<path d="M152.26 51.50C152.26 52.57 152.11 53.78 151.85 54.70C151.60 55.63 151.17 56.51 150.73 57.05C150.29 57.58 149.71 57.90 149.20 57.90C148.69 57.90 148.11 57.58 147.67 57.05C147.23 56.51 146.80 55.63 146.55 54.70C146.29 53.78 146.14 52.57 146.14 51.50C146.14 50.43 146.29 49.22 146.55 48.30C146.80 47.37 147.23 46.49 147.67 45.95C148.11 45.42 148.69 45.10 149.20 45.10C149.71 45.10 150.29 45.42 150.73 45.95C151.17 46.49 151.60 47.37 151.85 48.30C152.11 49.22 152.26 50.43 152.26 51.50Z" fill="none" stroke="#565656" stroke-width="0.75"/>
<path d="M151.09 51.50C151.09 52.16 150.99 52.91 150.84 53.48C150.68 54.05 150.42 54.60 150.14 54.93C149.87 55.25 149.51 55.45 149.20 55.45C148.88 55.45 148.53 55.25 148.25 54.93C147.98 54.60 147.72 54.05 147.56 53.48C147.41 52.91 147.31 52.16 147.31 51.50C147.31 50.84 147.41 50.09 147.56 49.52C147.72 48.95 147.98 48.40 148.25 48.07C148.53 47.75 148.88 47.55 149.20 47.55C149.51 47.55 149.87 47.75 150.14 48.07C150.42 48.40 150.68 48.95 150.84 49.52C150.99 50.09 151.09 50.84 151.09 51.50Z" fill="none" stroke="#464646" stroke-width="0.75"/>
<path d="M150 46V59" stroke="#222" stroke-width="1.3"/>
</g>
<clipPath id="cp3"><rect x="109.10000000000001" y="84.10000000000001" width="52.69999999999999" height="52.0"/></clipPath><g clip-path="url(#cp3)">
<circle cx="121.1" cy="100.5" r="2" fill="none" stroke="#888" stroke-width="0.8"/>
<path d="M127.50 101.00C127.50 100.28 128.92 98.95 130.00 98.30C131.08 97.65 132.73 97.15 134.00 97.10C135.27 97.05 136.80 97.27 137.60 98.00C138.40 98.73 138.82 100.30 138.80 101.50C138.78 102.70 138.17 104.45 137.50 105.20C136.83 105.95 135.52 106.37 134.80 106.00C134.08 105.63 134.00 103.57 133.20 103.00C132.40 102.43 130.95 102.93 130.00 102.60C129.05 102.27 127.50 101.72 127.50 101.00Z" fill="none" stroke="#6e6e6e" stroke-width="0.8"/>
<circle cx="135.7" cy="112.9" r="2.4" fill="none" stroke="#999" stroke-width="0.8"/>
<path d="M126.5 114.6h0.6M121.2 128.3h0.6M131.4 123.8h0.6M130.8 117.7h0.6M135.3 121.5h0.6M136.5 123.2h0.6M138.0 118.8h0.6M120.9 113.0h0.6M135.1 113.4h0.6M133.4 122.4h0.6M118.5 125.7h0.6M117.8 127.3h0.6M138.0 114.3h0.6M135.2 124.6h0.6M120.1 123.4h0.6M120.1 128.3h0.6M134.2 129.6h0.6M118.3 116.4h0.6M132.5 122.2h0.6M121.6 127.8h0.6M138.2 116.0h0.6M120.6 123.4h0.6M127.2 123.3h0.6M129.3 117.9h0.6M117.5 112.7h0.6M128.5 124.6h0.6M127.6 124.9h0.6M130.5 127.6h0.6M133.4 116.4h0.6M120.5 111.3h0.6M118.0 127.2h0.6M138.9 125.0h0.6M119.7 123.2h0.6M120.2 127.8h0.6M133.4 125.0h0.6M132.2 118.4h0.6M138.2 129.2h0.6M123.0 118.7h0.6M135.3 123.6h0.6M127.3 119.0h0.6M141.2 115.5h0.6M122.3 123.7h0.6M123.9 127.9h0.6M125.1 128.5h0.6M126.5 127.7h0.6M135.8 124.6h0.6M122.4 113.3h0.6M117.8 113.6h0.6M133.7 111.3h0.6M122.9 121.3h0.6M120.9 116.6h0.6M122.7 123.5h0.6M120.0 130.0h0.6M132.0 124.3h0.6M130.8 120.0h0.6M141.3 127.9h0.6M137.5 110.6h0.6M131.7 128.8h0.6M133.0 120.3h0.6M133.2 113.5h0.6" stroke="#c8c8c8" stroke-width="0.6"/>
<path d="M157.80 120.60C157.80 122.65 157.51 124.97 157.02 126.75C156.54 128.53 155.74 130.23 154.90 131.25C154.06 132.28 152.97 132.90 152.00 132.90C151.03 132.90 149.94 132.28 149.10 131.25C148.26 130.23 147.46 128.53 146.98 126.75C146.49 124.97 146.20 122.65 146.20 120.60C146.20 118.55 146.49 116.23 146.98 114.45C147.46 112.67 148.26 110.97 149.10 109.95C149.94 108.92 151.03 108.30 152.00 108.30C152.97 108.30 154.06 108.92 154.90 109.95C155.74 110.97 156.54 112.67 157.02 114.45C157.51 116.23 157.80 118.55 157.80 120.60Z" fill="#d0d0d0" stroke="none"/>
<path d="M157.80 120.60C157.80 122.65 157.51 124.97 157.02 126.75C156.54 128.53 155.74 130.23 154.90 131.25C154.06 132.28 152.97 132.90 152.00 132.90C151.03 132.90 149.94 132.28 149.10 131.25C148.26 130.23 147.46 128.53 146.98 126.75C146.49 124.97 146.20 122.65 146.20 120.60C146.20 118.55 146.49 116.23 146.98 114.45C147.46 112.67 148.26 110.97 149.10 109.95C149.94 108.92 151.03 108.30 152.00 108.30C152.97 108.30 154.06 108.92 154.90 109.95C155.74 110.97 156.54 112.67 157.02 114.45C157.51 116.23 157.80 118.55 157.80 120.60Z" fill="none" stroke="#787878" stroke-width="0.75"/>
<path d="M156.54 120.60C156.54 122.21 156.31 124.03 155.93 125.42C155.56 126.81 154.93 128.14 154.27 128.94C153.62 129.75 152.76 130.24 152.00 130.24C151.24 130.24 150.38 129.75 149.73 128.94C149.07 128.14 148.44 126.81 148.07 125.42C147.69 124.03 147.46 122.21 147.46 120.60C147.46 118.99 147.69 117.17 148.07 115.78C148.44 114.39 149.07 113.06 149.73 112.26C150.38 111.45 151.24 110.97 152.00 110.97C152.76 110.97 153.62 111.45 154.27 112.26C154.93 113.06 155.56 114.39 155.93 115.78C156.31 117.17 156.54 118.99 156.54 120.60Z" fill="none" stroke="#676767" stroke-width="0.75"/>
<path d="M155.29 120.60C155.29 121.76 155.12 123.08 154.85 124.09C154.57 125.09 154.12 126.06 153.64 126.64C153.17 127.22 152.55 127.57 152.00 127.57C151.45 127.57 150.83 127.22 150.36 126.64C149.88 126.06 149.43 125.09 149.15 124.09C148.88 123.08 148.71 121.76 148.71 120.60C148.71 119.44 148.88 118.12 149.15 117.12C149.43 116.11 149.88 115.14 150.36 114.56C150.83 113.98 151.45 113.63 152.00 113.63C152.55 113.63 153.17 113.98 153.64 114.56C154.12 115.14 154.57 116.11 154.85 117.11C155.12 118.12 155.29 119.44 155.29 120.60Z" fill="none" stroke="#565656" stroke-width="0.75"/>
<path d="M154.03 120.60C154.03 121.32 153.93 122.13 153.76 122.75C153.59 123.37 153.31 123.97 153.02 124.33C152.72 124.69 152.34 124.91 152.00 124.91C151.66 124.91 151.28 124.69 150.98 124.33C150.69 123.97 150.41 123.37 150.24 122.75C150.07 122.13 149.97 121.32 149.97 120.60C149.97 119.88 150.07 119.07 150.24 118.45C150.41 117.83 150.69 117.23 150.98 116.87C151.28 116.51 151.66 116.30 152.00 116.30C152.34 116.30 152.72 116.51 153.02 116.87C153.31 117.23 153.59 117.83 153.76 118.45C153.93 119.07 154.03 119.88 154.03 120.60Z" fill="none" stroke="#464646" stroke-width="0.75"/>
<path d="M151.4 114V128M153.4 114V128" stroke="#222" stroke-width="1"/>
</g>
<clipPath id="cp4"><rect x="176.70000000000002" y="17.0" width="51.7" height="48.800000000000004"/></clipPath><g clip-path="url(#cp4)">
<path d="M190.00 26.50C190.25 25.00 191.50 23.42 193.00 22.50C194.50 21.58 197.00 21.00 199.00 21.00C201.00 21.00 203.70 21.50 205.00 22.50C206.30 23.50 207.13 25.58 206.80 27.00C206.47 28.42 204.63 29.97 203.00 31.00C201.37 32.03 198.92 33.12 197.00 33.20C195.08 33.28 192.67 32.62 191.50 31.50C190.33 30.38 189.75 28.00 190.00 26.50Z" fill="none" stroke="#787878" stroke-width="0.7"/>
<path d="M191.73 26.18C191.93 25.00 192.91 23.76 194.08 23.04C195.26 22.32 197.22 21.87 198.78 21.87C200.35 21.87 202.46 22.26 203.48 23.04C204.50 23.83 205.15 25.46 204.89 26.57C204.63 27.68 203.20 28.89 201.92 29.70C200.64 30.51 198.72 31.36 197.22 31.42C195.72 31.49 193.82 30.97 192.91 30.09C191.99 29.22 191.54 27.35 191.73 26.18Z" fill="none" stroke="#676767" stroke-width="0.7"/>
<path d="M193.47 25.85C193.61 25.00 194.32 24.10 195.17 23.58C196.02 23.06 197.43 22.73 198.57 22.73C199.70 22.73 201.23 23.02 201.97 23.58C202.70 24.15 203.18 25.33 202.99 26.13C202.80 26.94 201.76 27.81 200.83 28.40C199.91 28.99 198.52 29.60 197.43 29.65C196.35 29.69 194.98 29.32 194.32 28.68C193.66 28.05 193.32 26.70 193.47 25.85Z" fill="none" stroke="#565656" stroke-width="0.7"/>
<path d="M195.20 25.52C195.29 25.00 195.72 24.45 196.25 24.12C196.78 23.80 197.65 23.60 198.35 23.60C199.05 23.60 199.99 23.77 200.45 24.12C200.91 24.48 201.20 25.20 201.08 25.70C200.96 26.20 200.32 26.74 199.75 27.10C199.18 27.46 198.32 27.84 197.65 27.87C196.98 27.90 196.13 27.67 195.72 27.27C195.32 26.88 195.11 26.05 195.20 25.52Z" fill="none" stroke="#464646" stroke-width="0.7"/>
<ellipse cx="198" cy="24.6" rx="2.2" ry="1.6" fill="#fff" stroke="#111" stroke-width="1.4"/>
<path d="M213.50 34.00C214.30 33.92 215.18 35.83 216.00 38.00C216.82 40.17 218.03 43.83 218.40 47.00C218.77 50.17 218.68 54.20 218.20 57.00C217.72 59.80 216.62 62.72 215.50 63.80C214.38 64.88 212.45 64.80 211.50 63.50C210.55 62.20 210.07 58.92 209.80 56.00C209.53 53.08 209.67 48.92 209.90 46.00C210.13 43.08 210.60 40.50 211.20 38.50C211.80 36.50 212.70 34.08 213.50 34.00Z" fill="#d0d0d0" stroke="none"/>
<path d="M213.50 34.00C214.30 33.92 215.18 35.83 216.00 38.00C216.82 40.17 218.03 43.83 218.40 47.00C218.77 50.17 218.68 54.20 218.20 57.00C217.72 59.80 216.62 62.72 215.50 63.80C214.38 64.88 212.45 64.80 211.50 63.50C210.55 62.20 210.07 58.92 209.80 56.00C209.53 53.08 209.67 48.92 209.90 46.00C210.13 43.08 210.60 40.50 211.20 38.50C211.80 36.50 212.70 34.08 213.50 34.00Z" fill="none" stroke="#6e6e6e" stroke-width="0.75"/>
<path d="M213.61 37.90C214.23 37.83 214.93 39.34 215.57 41.03C216.21 42.73 217.16 45.60 217.45 48.08C217.73 50.56 217.67 53.72 217.29 55.92C216.91 58.11 216.05 60.39 215.18 61.24C214.30 62.09 212.79 62.03 212.04 61.01C211.30 59.99 210.92 57.42 210.71 55.13C210.50 52.85 210.61 49.58 210.79 47.30C210.97 45.02 211.34 42.99 211.81 41.42C212.28 39.86 212.98 37.97 213.61 37.90Z" fill="none" stroke="#606060" stroke-width="0.75"/>
<path d="M213.72 41.80C214.17 41.75 214.67 42.84 215.13 44.07C215.60 45.29 216.29 47.37 216.49 49.17C216.70 50.96 216.65 53.25 216.38 54.83C216.11 56.42 215.48 58.07 214.85 58.69C214.22 59.30 213.12 59.25 212.58 58.52C212.05 57.78 211.77 55.92 211.62 54.27C211.47 52.61 211.54 50.25 211.68 48.60C211.81 46.95 212.07 45.48 212.41 44.35C212.75 43.22 213.26 41.85 213.72 41.80Z" fill="none" stroke="#535353" stroke-width="0.75"/>
<path d="M213.82 45.70C214.10 45.67 214.41 46.34 214.70 47.10C214.99 47.86 215.41 49.14 215.54 50.25C215.67 51.36 215.64 52.77 215.47 53.75C215.30 54.73 214.92 55.75 214.53 56.13C214.13 56.51 213.46 56.48 213.12 56.02C212.79 55.57 212.62 54.42 212.53 53.40C212.44 52.38 212.48 50.92 212.56 49.90C212.65 48.88 212.81 47.97 213.02 47.27C213.23 46.58 213.54 45.73 213.82 45.70Z" fill="none" stroke="#464646" stroke-width="0.75"/>
<path d="M213 43V59M215.2 43V59" stroke="#333" stroke-width="0.9"/>
<path d="M210.7 27.0h0.6M210.1 30.9h0.6M210.6 27.6h0.6M215.5 25.8h0.6M215.8 29.8h0.6M212.8 28.5h0.6M213.1 25.3h0.6M216.0 25.8h0.6M215.9 31.2h0.6M209.2 24.1h0.6M212.3 30.8h0.6M210.2 28.4h0.6M211.6 30.4h0.6M215.5 30.1h0.6M210.4 30.1h0.6M212.1 31.0h0.6M212.3 31.9h0.6M215.9 30.9h0.6M214.8 30.8h0.6M213.1 23.1h0.6M215.9 26.6h0.6M209.1 26.2h0.6M211.9 23.4h0.6M215.7 22.3h0.6M215.3 27.6h0.6" stroke="#bebebe" stroke-width="0.6"/>
<path d="M205.4 37.5h0.6M198.9 49.5h0.6M204.5 47.4h0.6M203.9 40.5h0.6M205.9 47.6h0.6M184.8 45.7h0.6M196.4 37.0h0.6M190.1 36.3h0.6M181.8 40.8h0.6M186.0 43.7h0.6M200.2 47.6h0.6M202.3 61.2h0.6M203.3 62.5h0.6M195.0 54.8h0.6M202.9 51.2h0.6M183.7 50.6h0.6M193.8 41.0h0.6M182.4 41.2h0.6M198.1 58.7h0.6M197.1 47.9h0.6M180.7 36.1h0.6M197.0 50.8h0.6M191.9 40.8h0.6M183.2 41.0h0.6M183.3 52.8h0.6M188.0 51.5h0.6M191.2 51.3h0.6M199.4 57.9h0.6M183.9 62.9h0.6M202.2 59.0h0.6M191.8 62.7h0.6M201.1 42.7h0.6M197.9 59.8h0.6M199.6 61.2h0.6M193.8 54.8h0.6M182.0 54.6h0.6M183.8 56.3h0.6M203.5 46.4h0.6M181.8 37.2h0.6M193.4 40.4h0.6M199.2 53.1h0.6M193.0 54.8h0.6M183.9 48.8h0.6M181.2 51.3h0.6M200.6 40.3h0.6M197.9 63.8h0.6M188.4 41.8h0.6M186.6 59.3h0.6M182.1 57.7h0.6M186.8 57.2h0.6" stroke="#c8c8c8" stroke-width="0.6"/>
</g>
<clipPath id="cp5"><rect x="178.9" y="84.80000000000001" width="53.500000000000014" height="48.999999999999986"/></clipPath><g clip-path="url(#cp5)">
<path d="M182.50 96.00C182.83 94.17 184.75 91.63 186.50 90.50C188.25 89.37 190.62 88.20 193.00 89.20C195.38 90.20 200.05 94.28 200.80 96.50C201.55 98.72 199.13 100.92 197.50 102.50C195.87 104.08 193.17 106.17 191.00 106.00C188.83 105.83 185.92 103.17 184.50 101.50C183.08 99.83 182.17 97.83 182.50 96.00Z" fill="#cfcfcf" stroke="none"/>
<path d="M182.50 96.00C182.83 94.17 184.75 91.63 186.50 90.50C188.25 89.37 190.62 88.20 193.00 89.20C195.38 90.20 200.05 94.28 200.80 96.50C201.55 98.72 199.13 100.92 197.50 102.50C195.87 104.08 193.17 106.17 191.00 106.00C188.83 105.83 185.92 103.17 184.50 101.50C183.08 99.83 182.17 97.83 182.50 96.00Z" fill="none" stroke="#6e6e6e" stroke-width="0.75"/>
<path d="M184.37 96.00C184.62 94.59 186.09 92.65 187.43 91.78C188.78 90.91 190.59 90.02 192.42 90.79C194.24 91.55 197.82 94.68 198.40 96.38C198.97 98.08 197.12 99.77 195.87 100.98C194.61 102.20 192.54 103.79 190.88 103.67C189.22 103.54 186.99 101.49 185.90 100.22C184.81 98.94 184.11 97.41 184.37 96.00Z" fill="none" stroke="#606060" stroke-width="0.75"/>
<path d="M186.23 96.00C186.41 95.02 187.43 93.67 188.37 93.07C189.30 92.46 190.56 91.84 191.83 92.37C193.10 92.91 195.59 95.08 195.99 96.27C196.39 97.45 195.10 98.62 194.23 99.47C193.36 100.31 191.92 101.42 190.77 101.33C189.61 101.24 188.06 99.82 187.30 98.93C186.54 98.04 186.06 96.98 186.23 96.00Z" fill="none" stroke="#535353" stroke-width="0.75"/>
<path d="M188.10 96.00C188.20 95.45 188.78 94.69 189.30 94.35C189.83 94.01 190.53 93.66 191.25 93.96C191.97 94.26 193.37 95.48 193.59 96.15C193.81 96.82 193.09 97.48 192.60 97.95C192.11 98.42 191.30 99.05 190.65 99.00C190.00 98.95 189.12 98.15 188.70 97.65C188.27 97.15 188.00 96.55 188.10 96.00Z" fill="none" stroke="#464646" stroke-width="0.75"/>
<path d="M185.00 132.00C183.78 130.57 184.37 126.25 184.70 124.00C185.03 121.75 185.62 119.78 187.00 118.50C188.38 117.22 191.00 116.55 193.00 116.30C195.00 116.05 197.78 115.88 199.00 117.00C200.22 118.12 200.38 120.83 200.30 123.00C200.22 125.17 199.88 128.40 198.50 130.00C197.12 131.60 194.25 132.27 192.00 132.60C189.75 132.93 186.22 133.43 185.00 132.00Z" fill="none" stroke="#505050" stroke-width="0.7"/>
<ellipse cx="191.3" cy="122" rx="2" ry="2.9" fill="none" stroke="#777" stroke-width="0.7"/>
<path d="M192.4 113.3h0.6M197.1 111.9h0.6M189.8 114.2h0.6M192.3 112.2h0.6M191.1 112.0h0.6M187.5 113.8h0.6M198.4 114.1h0.6M194.5 112.0h0.6M191.5 110.9h0.6M195.9 111.8h0.6M189.4 115.9h0.6M190.1 115.9h0.6M194.3 114.6h0.6M194.4 111.1h0.6M195.7 111.6h0.6" stroke="#c8c8c8" stroke-width="0.6"/>
<path d="M210.50 109.50C211.62 108.00 213.25 108.92 214.50 110.00C215.75 111.08 217.03 113.50 218.00 116.00C218.97 118.50 220.05 121.92 220.30 125.00C220.55 128.08 220.72 132.87 219.50 134.50C218.28 136.13 214.98 135.55 213.00 134.80C211.02 134.05 208.47 132.63 207.60 130.00C206.73 127.37 207.32 122.42 207.80 119.00C208.28 115.58 209.38 111.00 210.50 109.50Z" fill="#c8c8c8" stroke="none"/>
<path d="M210.50 109.50C211.62 108.00 213.25 108.92 214.50 110.00C215.75 111.08 217.03 113.50 218.00 116.00C218.97 118.50 220.05 121.92 220.30 125.00C220.55 128.08 220.72 132.87 219.50 134.50C218.28 136.13 214.98 135.55 213.00 134.80C211.02 134.05 208.47 132.63 207.60 130.00C206.73 127.37 207.32 122.42 207.80 119.00C208.28 115.58 209.38 111.00 210.50 109.50Z" fill="none" stroke="#787878" stroke-width="0.75"/>
<path d="M211.15 112.64C212.02 111.47 213.30 112.18 214.28 113.03C215.26 113.88 216.27 115.78 217.03 117.73C217.78 119.69 218.63 122.37 218.83 124.78C219.02 127.20 219.15 130.95 218.20 132.22C217.25 133.50 214.66 133.05 213.11 132.46C211.55 131.87 209.56 130.76 208.88 128.70C208.20 126.64 208.66 122.76 209.03 120.08C209.41 117.41 210.28 113.82 211.15 112.64Z" fill="none" stroke="#6a6a6a" stroke-width="0.75"/>
<path d="M211.80 115.78C212.43 114.93 213.36 115.45 214.07 116.07C214.78 116.68 215.50 118.05 216.05 119.47C216.60 120.88 217.21 122.82 217.35 124.57C217.50 126.31 217.59 129.02 216.90 129.95C216.21 130.88 214.34 130.55 213.22 130.12C212.09 129.69 210.65 128.89 210.16 127.40C209.67 125.91 210.00 123.10 210.27 121.17C210.54 119.23 211.17 116.63 211.80 115.78Z" fill="none" stroke="#5d5d5d" stroke-width="0.75"/>
<path d="M212.45 118.92C212.84 118.40 213.41 118.72 213.85 119.10C214.29 119.48 214.74 120.33 215.07 121.20C215.41 122.08 215.79 123.27 215.88 124.35C215.97 125.43 216.03 127.10 215.60 127.67C215.17 128.25 214.02 128.04 213.32 127.78C212.63 127.52 211.74 127.02 211.44 126.10C211.13 125.18 211.34 123.45 211.50 122.25C211.67 121.05 212.06 119.45 212.45 118.92Z" fill="none" stroke="#505050" stroke-width="0.75"/>
<path d="M213 114V132M215.5 116V132" stroke="#666" stroke-width="0.7"/>
<path d="M220.8 91.1h0.6M221.5 92.3h0.6M212.9 104.2h0.6M211.0 97.1h0.6M207.7 105.3h0.6M221.7 91.1h0.6M207.1 96.5h0.6M213.8 102.0h0.6M210.8 98.6h0.6M207.7 91.8h0.6M206.3 97.8h0.6M214.6 99.1h0.6M220.9 93.5h0.6M210.8 96.3h0.6M221.1 93.5h0.6" stroke="#cdcdcd" stroke-width="0.6"/>
</g>
<clipPath id="cp6"><rect x="250.3" y="18.099999999999998" width="53.40000000000002" height="49.7"/></clipPath><g clip-path="url(#cp6)">
<path d="M264.6 41.0h0.7M264.6 39.9h0.7M262.9 40.0h0.7M266.3 38.9h0.7M262.5 39.1h0.7M266.6 39.2h0.7" stroke="#808080" stroke-width="0.7"/>
<path d="M265.5 40.0h0.7M262.5 40.6h0.7M262.3 38.1h0.7M269.9 40.5h0.7M269.4 39.8h0.7M272.3 39.7h0.7M264.8 37.8h0.7M267.8 41.7h0.7M263.7 41.4h0.7M263.9 37.0h0.7M260.6 38.6h0.7M265.6 40.0h0.7M269.8 39.8h0.7M265.8 39.7h0.7M268.0 40.9h0.7M267.2 41.9h0.7M267.4 40.0h0.7M263.4 41.5h0.7M267.0 38.1h0.7" stroke="#909090" stroke-width="0.7"/>
<path d="M260.6 42.2h0.7M274.9 40.1h0.7M263.0 41.7h0.7M257.9 38.4h0.7M271.6 41.7h0.7M261.0 38.2h0.7M269.0 38.1h0.7M260.5 41.6h0.7M264.3 41.4h0.7M271.0 41.0h0.7M270.8 38.2h0.7M261.4 39.5h0.7M267.6 39.8h0.7M261.2 39.9h0.7M267.4 39.5h0.7M269.3 40.6h0.7M262.8 37.8h0.7M264.8 37.3h0.7M259.3 39.0h0.7M269.3 38.5h0.7M270.2 40.2h0.7M260.5 39.2h0.7M265.5 40.3h0.7M266.3 37.4h0.7M259.1 40.4h0.7M261.8 37.6h0.7M271.9 38.7h0.7M272.7 38.2h0.7M258.1 40.2h0.7M257.1 40.8h0.7M264.6 36.7h0.7M267.1 36.2h0.7M266.3 41.6h0.7M270.5 41.9h0.7" stroke="#a0a0a0" stroke-width="0.7"/>
<path d="M262.5 37.0h0.7M263.2 41.0h0.7M273.2 39.2h0.7M261.6 41.8h0.7M258.6 40.8h0.7M254.5 39.5h0.7M265.1 42.5h0.7M273.9 37.7h0.7M271.9 41.1h0.7M260.0 43.5h0.7M270.0 41.5h0.7M258.0 43.7h0.7M258.3 37.2h0.7M253.4 37.8h0.7M271.6 37.8h0.7M265.5 41.8h0.7M258.6 38.7h0.7M255.8 40.3h0.7M270.1 40.6h0.7M268.9 42.0h0.7M262.3 38.5h0.7M255.0 40.0h0.7M268.9 38.1h0.7" stroke="#b0b0b0" stroke-width="0.7"/>
<path d="M273.7 43.2h0.7M265.2 43.1h0.7M252.5 37.8h0.7M274.7 41.6h0.7M257.2 37.1h0.7M260.9 42.9h0.7M264.5 35.6h0.7M273.2 42.2h0.7M264.0 35.8h0.7M270.1 43.4h0.7M266.5 35.9h0.7M253.9 38.2h0.7M279.0 39.5h0.7M257.9 42.6h0.7M253.2 40.8h0.7M268.0 42.6h0.7M278.3 35.4h0.7M262.1 36.7h0.7" stroke="#c0c0c0" stroke-width="0.7"/>
<path d="M277.9 39.1h0.7M256.4 42.5h0.7M256.5 34.5h0.7M270.6 34.3h0.7M277.9 42.1h0.7M273.6 36.5h0.7M270.7 43.1h0.7M262.9 43.8h0.7M256.4 35.9h0.7M252.7 39.3h0.7" stroke="#d0d0d0" stroke-width="0.7"/>
<path d="M278.60 48.20C278.60 48.93 278.44 49.79 278.13 50.39C277.83 50.99 277.36 51.39 276.75 51.79C276.14 52.19 275.38 52.52 274.47 52.79C273.56 53.06 272.65 53.26 271.28 53.40C269.92 53.53 267.96 53.60 266.30 53.60C264.64 53.60 262.68 53.53 261.32 53.40C259.95 53.26 259.04 53.06 258.13 52.79C257.22 52.52 256.46 52.19 255.85 51.79C255.24 51.39 254.77 50.99 254.47 50.39C254.16 49.79 254.00 48.93 254.00 48.20C254.00 47.47 254.16 46.61 254.47 46.01C254.77 45.41 255.24 45.01 255.85 44.61C256.46 44.21 257.22 43.88 258.13 43.61C259.04 43.34 259.95 43.14 261.32 43.00C262.68 42.87 264.64 42.80 266.30 42.80C267.96 42.80 269.92 42.87 271.28 43.00C272.65 43.14 273.56 43.34 274.47 43.61C275.38 43.88 276.14 44.21 276.75 44.61C277.36 45.01 277.83 45.41 278.13 46.01C278.44 46.61 278.60 47.47 278.60 48.20Z" fill="#c8c8c8" stroke="#555" stroke-width="0.9"/>
<path d="M276.10 48.00C276.10 48.49 275.97 49.06 275.73 49.46C275.48 49.86 275.11 50.13 274.63 50.39C274.14 50.66 273.54 50.88 272.81 51.06C272.09 51.24 271.36 51.37 270.27 51.46C269.19 51.55 267.62 51.60 266.30 51.60C264.98 51.60 263.41 51.55 262.33 51.46C261.24 51.37 260.51 51.24 259.79 51.06C259.06 50.88 258.46 50.66 257.97 50.39C257.49 50.13 257.12 49.86 256.87 49.46C256.63 49.06 256.50 48.49 256.50 48.00C256.50 47.51 256.63 46.94 256.87 46.54C257.12 46.14 257.49 45.87 257.97 45.61C258.46 45.34 259.06 45.12 259.79 44.94C260.51 44.76 261.24 44.63 262.33 44.54C263.41 44.45 264.98 44.40 266.30 44.40C267.62 44.40 269.19 44.45 270.27 44.54C271.36 44.63 272.09 44.76 272.81 44.94C273.54 45.12 274.14 45.34 274.63 45.61C275.11 45.87 275.48 46.14 275.73 46.54C275.97 46.94 276.10 47.51 276.10 48.00Z" fill="#a8a8a8" stroke="#555" stroke-width="0.8"/>
<path d="M259 46.4H273.5M259 49.4H273.5" stroke="#333" stroke-width="0.9"/>
<path d="M260 47.9H273" stroke="#ddd" stroke-width="0.8"/>
<path d="M293.80 37.30C293.80 38.04 293.56 38.93 293.19 39.53C292.82 40.14 292.19 40.68 291.59 40.91C290.99 41.14 290.21 41.14 289.61 40.91C289.01 40.68 288.38 40.14 288.01 39.53C287.64 38.93 287.40 38.04 287.40 37.30C287.40 36.56 287.64 35.67 288.01 35.07C288.38 34.46 289.01 33.92 289.61 33.69C290.21 33.46 290.99 33.46 291.59 33.69C292.19 33.92 292.82 34.46 293.19 35.07C293.56 35.67 293.80 36.56 293.80 37.30Z" fill="none" stroke="#6e6e6e" stroke-width="0.7"/>
<path d="M292.68 37.30C292.68 37.78 292.52 38.36 292.28 38.75C292.04 39.14 291.63 39.50 291.24 39.65C290.86 39.80 290.34 39.80 289.96 39.65C289.57 39.50 289.16 39.14 288.92 38.75C288.68 38.36 288.52 37.78 288.52 37.30C288.52 36.82 288.68 36.24 288.92 35.85C289.16 35.46 289.57 35.10 289.96 34.95C290.34 34.80 290.86 34.80 291.24 34.95C291.63 35.10 292.04 35.46 292.28 35.85C292.52 36.24 292.68 36.82 292.68 37.30Z" fill="none" stroke="#555555" stroke-width="0.7"/>
<path d="M291.56 37.30C291.56 37.52 291.49 37.79 291.38 37.97C291.27 38.15 291.08 38.32 290.90 38.38C290.72 38.45 290.48 38.45 290.30 38.38C290.12 38.32 289.93 38.15 289.82 37.97C289.71 37.79 289.64 37.52 289.64 37.30C289.64 37.08 289.71 36.81 289.82 36.63C289.93 36.45 290.12 36.28 290.30 36.22C290.48 36.15 290.72 36.15 290.90 36.22C291.08 36.28 291.27 36.45 291.38 36.63C291.49 36.81 291.56 37.08 291.56 37.30Z" fill="none" stroke="#3c3c3c" stroke-width="0.7"/>
<path d="M295.40 48.30C295.40 49.38 295.12 50.66 294.69 51.53C294.27 52.40 293.53 53.20 292.84 53.53C292.15 53.86 291.25 53.86 290.56 53.53C289.87 53.20 289.13 52.40 288.71 51.53C288.28 50.66 288.00 49.38 288.00 48.30C288.00 47.22 288.28 45.94 288.71 45.07C289.13 44.20 289.87 43.40 290.56 43.07C291.25 42.74 292.15 42.74 292.84 43.07C293.53 43.40 294.27 44.20 294.69 45.07C295.12 45.94 295.40 47.22 295.40 48.30Z" fill="#c4c4c4" stroke="none"/>
<path d="M295.40 48.30C295.40 49.38 295.12 50.66 294.69 51.53C294.27 52.40 293.53 53.20 292.84 53.53C292.15 53.86 291.25 53.86 290.56 53.53C289.87 53.20 289.13 52.40 288.71 51.53C288.28 50.66 288.00 49.38 288.00 48.30C288.00 47.22 288.28 45.94 288.71 45.07C289.13 44.20 289.87 43.40 290.56 43.07C291.25 42.74 292.15 42.74 292.84 43.07C293.53 43.40 294.27 44.20 294.69 45.07C295.12 45.94 295.40 47.22 295.40 48.30Z" fill="none" stroke="#505050" stroke-width="0.7"/>
<path d="M294.10 48.30C294.10 49.00 293.92 49.83 293.65 50.40C293.37 50.97 292.89 51.48 292.44 51.70C292.00 51.92 291.40 51.92 290.96 51.70C290.51 51.48 290.03 50.97 289.75 50.40C289.48 49.83 289.30 49.00 289.30 48.30C289.30 47.60 289.48 46.77 289.75 46.20C290.03 45.63 290.51 45.12 290.96 44.90C291.40 44.68 292.00 44.68 292.44 44.90C292.89 45.12 293.37 45.63 293.65 46.20C293.92 46.77 294.10 47.60 294.10 48.30Z" fill="none" stroke="#414141" stroke-width="0.7"/>
<path d="M292.81 48.30C292.81 48.62 292.73 49.01 292.60 49.27C292.47 49.53 292.25 49.77 292.04 49.87C291.84 49.97 291.56 49.97 291.36 49.87C291.15 49.77 290.93 49.53 290.80 49.27C290.67 49.01 290.59 48.62 290.59 48.30C290.59 47.98 290.67 47.59 290.80 47.33C290.93 47.07 291.15 46.83 291.36 46.73C291.56 46.63 291.84 46.63 292.04 46.73C292.25 46.83 292.47 47.07 292.60 47.33C292.73 47.59 292.81 47.98 292.81 48.30Z" fill="none" stroke="#323232" stroke-width="0.7"/>
<path d="M281.5 50.7h0.6M299.8 46.2h0.6M290.9 46.7h0.6M294.8 52.3h0.6M292.0 57.6h0.6M294.1 46.2h0.6M287.6 51.4h0.6M293.8 44.0h0.6M296.2 48.0h0.6M295.4 41.6h0.6M286.4 40.3h0.6M288.3 44.6h0.6M286.9 44.0h0.6M297.0 51.4h0.6M287.0 49.0h0.6M283.7 57.0h0.6M298.1 50.3h0.6M283.1 57.2h0.6M284.3 41.0h0.6M288.4 46.8h0.6" stroke="#c8c8c8" stroke-width="0.6"/>
</g>
<clipPath id="cp7"><rect x="251.6" y="85.60000000000001" width="53.10000000000004" height="51.099999999999994"/></clipPath><g clip-path="url(#cp7)">
<path d="M272.1 103.6h0.6M273.2 103.1h0.6M278.7 101.3h0.6M271.0 106.1h0.6M274.1 107.2h0.6M267.8 102.9h0.6M268.1 101.1h0.6M263.5 104.1h0.6M268.0 104.6h0.6M281.2 108.0h0.6M277.6 102.6h0.6M269.7 107.2h0.6M266.7 106.6h0.6M266.9 103.6h0.6M273.1 107.7h0.6M276.6 106.7h0.6M269.0 102.8h0.6M279.4 104.7h0.6M276.4 100.8h0.6M263.2 103.4h0.6M268.1 102.1h0.6M278.3 107.4h0.6M266.5 100.8h0.6M265.8 101.5h0.6M276.5 103.1h0.6" stroke="#b9b9b9" stroke-width="0.6"/>
<path d="M279.70 117.50C279.70 118.22 279.54 119.06 279.23 119.65C278.92 120.23 278.45 120.63 277.83 121.02C277.22 121.41 276.46 121.74 275.54 122.00C274.62 122.27 273.70 122.47 272.32 122.60C270.95 122.73 268.97 122.80 267.30 122.80C265.63 122.80 263.65 122.73 262.28 122.60C260.90 122.47 259.98 122.27 259.06 122.00C258.14 121.74 257.38 121.41 256.77 121.02C256.15 120.63 255.68 120.23 255.37 119.65C255.06 119.06 254.90 118.22 254.90 117.50C254.90 116.78 255.06 115.94 255.37 115.35C255.68 114.77 256.15 114.37 256.77 113.98C257.38 113.59 258.14 113.26 259.06 113.00C259.98 112.73 260.90 112.53 262.28 112.40C263.65 112.27 265.63 112.20 267.30 112.20C268.97 112.20 270.95 112.27 272.32 112.40C273.70 112.53 274.62 112.73 275.54 113.00C276.46 113.26 277.22 113.59 277.83 113.98C278.45 114.37 278.92 114.77 279.23 115.35C279.54 115.94 279.70 116.78 279.70 117.50Z" fill="#bdbdbd" stroke="#444" stroke-width="0.9"/>
<path d="M277.30 117.40C277.30 117.90 277.17 118.49 276.92 118.90C276.67 119.31 276.29 119.58 275.80 119.86C275.30 120.13 274.69 120.36 273.94 120.54C273.20 120.73 272.46 120.87 271.35 120.96C270.24 121.05 268.65 121.10 267.30 121.10C265.95 121.10 264.36 121.05 263.25 120.96C262.14 120.87 261.40 120.73 260.66 120.54C259.91 120.36 259.30 120.13 258.80 119.86C258.31 119.58 257.93 119.31 257.68 118.90C257.43 118.49 257.30 117.90 257.30 117.40C257.30 116.90 257.43 116.31 257.68 115.90C257.93 115.49 258.31 115.22 258.80 114.94C259.30 114.67 259.91 114.44 260.66 114.26C261.40 114.07 262.14 113.93 263.25 113.84C264.36 113.75 265.95 113.70 267.30 113.70C268.65 113.70 270.24 113.75 271.35 113.84C272.46 113.93 273.20 114.07 273.94 114.26C274.69 114.44 275.30 114.67 275.80 114.94C276.29 115.22 276.67 115.49 276.92 115.90C277.17 116.31 277.30 116.90 277.30 117.40Z" fill="#9a9a9a" stroke="#444" stroke-width="0.8"/>
<path d="M259.5 115.9H275M259.5 118.9H275" stroke="#2a2a2a" stroke-width="0.9"/>
<path d="M261 117.4H274" stroke="#ddd" stroke-width="0.8"/>
<path d="M299.20 117.80C299.20 118.76 298.96 119.90 298.61 120.68C298.25 121.46 297.64 122.16 297.06 122.46C296.48 122.76 295.72 122.76 295.14 122.46C294.56 122.16 293.95 121.46 293.59 120.68C293.24 119.90 293.00 118.76 293.00 117.80C293.00 116.84 293.24 115.70 293.59 114.92C293.95 114.14 294.56 113.44 295.14 113.14C295.72 112.84 296.48 112.84 297.06 113.14C297.64 113.44 298.25 114.14 298.61 114.92C298.96 115.70 299.20 116.84 299.20 117.80Z" fill="#bbb" stroke="none"/>
<path d="M299.20 117.80C299.20 118.76 298.96 119.90 298.61 120.68C298.25 121.46 297.64 122.16 297.06 122.46C296.48 122.76 295.72 122.76 295.14 122.46C294.56 122.16 293.95 121.46 293.59 120.68C293.24 119.90 293.00 118.76 293.00 117.80C293.00 116.84 293.24 115.70 293.59 114.92C293.95 114.14 294.56 113.44 295.14 113.14C295.72 112.84 296.48 112.84 297.06 113.14C297.64 113.44 298.25 114.14 298.61 114.92C298.96 115.70 299.20 116.84 299.20 117.80Z" fill="none" stroke="#505050" stroke-width="0.7"/>
<path d="M298.12 117.80C298.12 118.42 297.96 119.17 297.73 119.67C297.50 120.18 297.10 120.64 296.72 120.83C296.35 121.02 295.85 121.02 295.48 120.83C295.10 120.64 294.70 120.18 294.47 119.67C294.24 119.17 294.09 118.42 294.09 117.80C294.09 117.18 294.24 116.43 294.47 115.93C294.70 115.42 295.10 114.96 295.48 114.77C295.85 114.58 296.35 114.58 296.72 114.77C297.10 114.96 297.50 115.42 297.73 115.93C297.96 116.43 298.12 117.18 298.12 117.80Z" fill="none" stroke="#3c3c3c" stroke-width="0.7"/>
<path d="M297.03 117.80C297.03 118.09 296.96 118.43 296.85 118.66C296.75 118.90 296.56 119.11 296.39 119.20C296.21 119.29 295.99 119.29 295.81 119.20C295.64 119.11 295.45 118.90 295.35 118.66C295.24 118.43 295.17 118.09 295.17 117.80C295.17 117.51 295.24 117.17 295.35 116.94C295.45 116.70 295.64 116.49 295.81 116.40C295.99 116.31 296.21 116.31 296.39 116.40C296.56 116.49 296.75 116.70 296.85 116.94C296.96 117.17 297.03 117.51 297.03 117.80Z" fill="none" stroke="#282828" stroke-width="0.7"/>
<path d="M292 107.5h3" stroke="#aaa" stroke-width="0.7"/>
</g>
<clipPath id="cp8"><rect x="326.59999999999997" y="16.799999999999997" width="52.800000000000026" height="50.800000000000004"/></clipPath><g clip-path="url(#cp8)">
<path d="M356.00 27.50C356.63 26.08 357.67 25.03 359.00 24.50C360.33 23.97 362.50 23.88 364.00 24.30C365.50 24.72 366.92 25.55 368.00 27.00C369.08 28.45 369.63 30.83 370.50 33.00C371.37 35.17 372.45 37.50 373.20 40.00C373.95 42.50 374.75 45.00 375.00 48.00C375.25 51.00 375.28 55.40 374.70 58.00C374.12 60.60 373.12 62.67 371.50 63.60C369.88 64.53 366.75 64.53 365.00 63.60C363.25 62.67 361.83 60.60 361.00 58.00C360.17 55.40 360.42 51.00 360.00 48.00C359.58 45.00 359.30 42.50 358.50 40.00C357.70 37.50 355.62 35.08 355.20 33.00C354.78 30.92 355.37 28.92 356.00 27.50Z" fill="none" stroke="#6e6e6e" stroke-width="0.7"/>
<path d="M358.50 32.62C358.98 31.56 359.75 30.77 360.75 30.38C361.75 29.98 363.38 29.91 364.50 30.23C365.62 30.54 366.69 31.16 367.50 32.25C368.31 33.34 368.73 35.12 369.38 36.75C370.02 38.38 370.84 40.12 371.40 42.00C371.96 43.88 372.56 45.75 372.75 48.00C372.94 50.25 372.96 53.55 372.52 55.50C372.09 57.45 371.34 59.00 370.12 59.70C368.91 60.40 366.56 60.40 365.25 59.70C363.94 59.00 362.88 57.45 362.25 55.50C361.62 53.55 361.81 50.25 361.50 48.00C361.19 45.75 360.98 43.88 360.38 42.00C359.77 40.12 358.21 38.31 357.90 36.75C357.59 35.19 358.02 33.69 358.50 32.62Z" fill="none" stroke="#6e6e6e" stroke-width="0.7"/>
<path d="M361.00 37.75C361.32 37.04 361.83 36.52 362.50 36.25C363.17 35.98 364.25 35.94 365.00 36.15C365.75 36.36 366.46 36.77 367.00 37.50C367.54 38.23 367.82 39.42 368.25 40.50C368.68 41.58 369.23 42.75 369.60 44.00C369.98 45.25 370.38 46.50 370.50 48.00C370.62 49.50 370.64 51.70 370.35 53.00C370.06 54.30 369.56 55.33 368.75 55.80C367.94 56.27 366.38 56.27 365.50 55.80C364.62 55.33 363.92 54.30 363.50 53.00C363.08 51.70 363.21 49.50 363.00 48.00C362.79 46.50 362.65 45.25 362.25 44.00C361.85 42.75 360.81 41.54 360.60 40.50C360.39 39.46 360.68 38.46 361.00 37.75Z" fill="none" stroke="#6e6e6e" stroke-width="0.7"/>
<path d="M372.60 52.00C372.60 53.67 372.37 55.56 371.98 57.00C371.60 58.44 370.96 59.83 370.30 60.66C369.64 61.49 368.77 62.00 368.00 62.00C367.23 62.00 366.36 61.49 365.70 60.66C365.04 59.83 364.40 58.44 364.02 57.00C363.63 55.56 363.40 53.67 363.40 52.00C363.40 50.33 363.63 48.44 364.02 47.00C364.40 45.56 365.04 44.17 365.70 43.34C366.36 42.51 367.23 42.00 368.00 42.00C368.77 42.00 369.64 42.51 370.30 43.34C370.96 44.17 371.60 45.56 371.98 47.00C372.37 48.44 372.60 50.33 372.60 52.00Z" fill="#dedede" stroke="none"/>
<path d="M372.60 52.00C372.60 53.67 372.37 55.56 371.98 57.00C371.60 58.44 370.96 59.83 370.30 60.66C369.64 61.49 368.77 62.00 368.00 62.00C367.23 62.00 366.36 61.49 365.70 60.66C365.04 59.83 364.40 58.44 364.02 57.00C363.63 55.56 363.40 53.67 363.40 52.00C363.40 50.33 363.63 48.44 364.02 47.00C364.40 45.56 365.04 44.17 365.70 43.34C366.36 42.51 367.23 42.00 368.00 42.00C368.77 42.00 369.64 42.51 370.30 43.34C370.96 44.17 371.60 45.56 371.98 47.00C372.37 48.44 372.60 50.33 372.60 52.00Z" fill="none" stroke="#646464" stroke-width="0.7"/>
<path d="M371.53 52.00C371.53 53.28 371.35 54.73 371.05 55.83C370.76 56.94 370.27 58.00 369.76 58.64C369.25 59.28 368.59 59.67 368.00 59.67C367.41 59.67 366.75 59.28 366.24 58.64C365.73 58.00 365.24 56.94 364.95 55.83C364.65 54.73 364.47 53.28 364.47 52.00C364.47 50.72 364.65 49.27 364.95 48.17C365.24 47.06 365.73 46.00 366.24 45.36C366.75 44.72 367.41 44.33 368.00 44.33C368.59 44.33 369.25 44.72 369.76 45.36C370.27 46.00 370.76 47.06 371.05 48.17C371.35 49.27 371.53 50.72 371.53 52.00Z" fill="none" stroke="#5d5d5d" stroke-width="0.7"/>
<path d="M370.45 52.00C370.45 52.89 370.33 53.90 370.12 54.67C369.92 55.44 369.58 56.17 369.23 56.62C368.87 57.06 368.41 57.33 368.00 57.33C367.59 57.33 367.13 57.06 366.77 56.62C366.42 56.17 366.08 55.44 365.88 54.67C365.67 53.90 365.55 52.89 365.55 52.00C365.55 51.11 365.67 50.10 365.88 49.33C366.08 48.56 366.42 47.83 366.77 47.38C367.13 46.94 367.59 46.67 368.00 46.67C368.41 46.67 368.87 46.94 369.23 47.38C369.58 47.83 369.92 48.56 370.12 49.33C370.33 50.10 370.45 51.11 370.45 52.00Z" fill="none" stroke="#565656" stroke-width="0.7"/>
<path d="M369.38 52.00C369.38 52.50 369.31 53.07 369.20 53.50C369.08 53.93 368.89 54.35 368.69 54.60C368.49 54.85 368.23 55.00 368.00 55.00C367.77 55.00 367.51 54.85 367.31 54.60C367.11 54.35 366.92 53.93 366.80 53.50C366.69 53.07 366.62 52.50 366.62 52.00C366.62 51.50 366.69 50.93 366.80 50.50C366.92 50.07 367.11 49.65 367.31 49.40C367.51 49.15 367.77 49.00 368.00 49.00C368.23 49.00 368.49 49.15 368.69 49.40C368.89 49.65 369.08 50.07 369.20 50.50C369.31 50.93 369.38 51.50 369.38 52.00Z" fill="none" stroke="#505050" stroke-width="0.7"/>
<path d="M367.00 29.50C367.00 30.24 366.66 31.13 366.14 31.73C365.62 32.34 364.73 32.88 363.89 33.11C363.05 33.34 361.95 33.34 361.11 33.11C360.27 32.88 359.38 32.34 358.86 31.73C358.34 31.13 358.00 30.24 358.00 29.50C358.00 28.76 358.34 27.87 358.86 27.27C359.38 26.66 360.27 26.12 361.11 25.89C361.95 25.66 363.05 25.66 363.89 25.89C364.73 26.12 365.62 26.66 366.14 27.27C366.66 27.87 367.00 28.76 367.00 29.50Z" fill="none" stroke="#6e6e6e" stroke-width="0.7"/>
<path d="M365.65 29.50C365.65 30.02 365.41 30.64 365.05 31.06C364.69 31.49 364.06 31.87 363.47 32.03C362.89 32.19 362.11 32.19 361.53 32.03C360.94 31.87 360.31 31.49 359.95 31.06C359.59 30.64 359.35 30.02 359.35 29.50C359.35 28.98 359.59 28.36 359.95 27.94C360.31 27.51 360.94 27.13 361.53 26.97C362.11 26.81 362.89 26.81 363.47 26.97C364.06 27.13 364.69 27.51 365.05 27.94C365.41 28.36 365.65 28.98 365.65 29.50Z" fill="none" stroke="#646464" stroke-width="0.7"/>
<path d="M364.30 29.50C364.30 29.80 364.16 30.15 363.96 30.39C363.75 30.63 363.39 30.85 363.06 30.95C362.72 31.04 362.28 31.04 361.94 30.95C361.61 30.85 361.25 30.63 361.04 30.39C360.84 30.15 360.70 29.80 360.70 29.50C360.70 29.20 360.84 28.85 361.04 28.61C361.25 28.37 361.61 28.15 361.94 28.05C362.28 27.96 362.72 27.96 363.06 28.05C363.39 28.15 363.75 28.37 363.96 28.61C364.16 28.85 364.30 29.20 364.30 29.50Z" fill="none" stroke="#5a5a5a" stroke-width="0.7"/>
<path d="M355 31L362 45M357 30L364 44M359.5 29L366 41" stroke="#999" stroke-width="0.6"/>
<path d="M345.9 26.1h0.6M352.5 25.9h0.6M355.4 34.1h0.6M353.2 29.6h0.6M354.1 26.9h0.6M351.6 28.4h0.6M350.4 35.6h0.6M347.4 33.1h0.6M353.4 25.0h0.6M355.9 29.4h0.6M351.0 27.6h0.6M351.1 35.5h0.6M348.8 32.8h0.6M353.6 34.4h0.6M352.6 29.2h0.6" stroke="#c8c8c8" stroke-width="0.6"/>
</g>
<clipPath id="cp9"><rect x="327.59999999999997" y="82.9" width="53.7" height="53.8"/></clipPath><g clip-path="url(#cp9)">
<circle cx="366" cy="97.5" r="3.1" fill="none" stroke="#777" stroke-width="0.8"/>
<circle cx="369.8" cy="102" r="2.6" fill="none" stroke="#888" stroke-width="0.8"/>
<path d="M378.03 121.20C378.03 123.37 377.87 125.88 377.34 127.73C376.81 129.58 375.81 131.21 374.86 132.31C373.90 133.41 372.70 134.29 371.60 134.34C370.50 134.38 369.17 133.75 368.26 132.60C367.35 131.45 366.62 129.32 366.13 127.42C365.64 125.52 365.39 123.36 365.32 121.20C365.25 119.04 365.18 116.31 365.69 114.48C366.20 112.65 367.39 111.20 368.38 110.21C369.36 109.22 370.49 108.68 371.60 108.55C372.71 108.41 374.11 108.35 375.06 109.38C376.01 110.41 376.80 112.75 377.30 114.72C377.79 116.69 378.02 119.03 378.03 121.20Z" fill="#d6d6d6" stroke="none"/>
<path d="M378.03 121.20C378.03 123.37 377.87 125.88 377.34 127.73C376.81 129.58 375.81 131.21 374.86 132.31C373.90 133.41 372.70 134.29 371.60 134.34C370.50 134.38 369.17 133.75 368.26 132.60C367.35 131.45 366.62 129.32 366.13 127.42C365.64 125.52 365.39 123.36 365.32 121.20C365.25 119.04 365.18 116.31 365.69 114.48C366.20 112.65 367.39 111.20 368.38 110.21C369.36 109.22 370.49 108.68 371.60 108.55C372.71 108.41 374.11 108.35 375.06 109.38C376.01 110.41 376.80 112.75 377.30 114.72C377.79 116.69 378.02 119.03 378.03 121.20Z" fill="none" stroke="#646464" stroke-width="0.75"/>
<path d="M376.64 121.20C376.65 122.89 376.52 124.86 376.10 126.31C375.69 127.76 374.91 129.04 374.16 129.90C373.41 130.76 372.47 131.45 371.61 131.48C370.75 131.52 369.70 131.03 368.99 130.13C368.28 129.22 367.71 127.55 367.32 126.07C366.94 124.58 366.75 122.88 366.69 121.20C366.63 119.51 366.58 117.37 366.98 115.93C367.38 114.50 368.31 113.36 369.08 112.59C369.86 111.81 370.73 111.39 371.61 111.28C372.48 111.17 373.58 111.13 374.32 111.94C375.06 112.75 375.68 114.58 376.07 116.12C376.46 117.66 376.64 119.50 376.64 121.20Z" fill="none" stroke="#5d5d5d" stroke-width="0.75"/>
<path d="M375.26 121.19C375.26 122.42 375.17 123.84 374.87 124.89C374.57 125.94 374.00 126.86 373.46 127.49C372.92 128.11 372.24 128.61 371.61 128.63C370.99 128.66 370.24 128.30 369.72 127.65C369.20 127.00 368.79 125.79 368.52 124.71C368.24 123.64 368.10 122.41 368.06 121.19C368.01 119.97 367.98 118.42 368.27 117.38C368.55 116.35 369.23 115.52 369.79 114.96C370.35 114.40 370.98 114.10 371.61 114.02C372.24 113.94 373.04 113.91 373.58 114.49C374.11 115.08 374.56 116.40 374.84 117.52C375.12 118.63 375.25 119.96 375.26 121.19Z" fill="none" stroke="#565656" stroke-width="0.75"/>
<path d="M373.87 121.19C373.87 121.94 373.81 122.82 373.63 123.47C373.44 124.12 373.09 124.69 372.76 125.07C372.43 125.46 372.00 125.77 371.62 125.78C371.24 125.80 370.77 125.58 370.45 125.18C370.13 124.77 369.88 124.03 369.71 123.36C369.54 122.70 369.45 121.94 369.42 121.19C369.40 120.43 369.37 119.47 369.55 118.83C369.73 118.19 370.15 117.69 370.49 117.34C370.84 116.99 371.23 116.80 371.62 116.76C372.01 116.71 372.50 116.69 372.83 117.05C373.16 117.41 373.44 118.23 373.61 118.92C373.79 119.61 373.87 120.43 373.87 121.19Z" fill="none" stroke="#505050" stroke-width="0.75"/>
<path d="M372 113V130" stroke="#666" stroke-width="0.9"/>
</g>
<clipPath id="cp10"><rect x="45.6" y="231.4" width="51.2" height="51.500000000000014"/></clipPath><g clip-path="url(#cp10)">
<path d="M50.2 259.6h0.7M68.4 270.3h0.7M67.2 258.6h0.7M69.2 262.9h0.7M48.3 259.6h0.7M47.4 280.1h0.7M73.5 254.4h0.7M55.0 273.0h0.7M51.9 247.7h0.7M51.5 254.9h0.7M64.2 281.4h0.7M52.1 281.1h0.7M62.1 278.7h0.7M69.7 246.9h0.7M64.8 245.3h0.7M46.2 257.0h0.7M68.4 264.3h0.7M51.6 276.2h0.7M72.5 250.2h0.7M59.0 267.4h0.7M72.2 245.4h0.7M62.1 281.6h0.7M63.7 270.8h0.7M68.5 261.8h0.7M54.4 265.4h0.7M61.3 254.8h0.7M70.8 255.6h0.7M60.0 272.7h0.7M69.6 278.3h0.7M64.9 250.9h0.7M70.6 279.1h0.7M66.7 273.0h0.7M60.9 261.2h0.7M62.9 246.3h0.7M65.6 277.0h0.7M50.8 272.4h0.7M66.5 245.2h0.7M47.5 265.6h0.7M52.4 253.3h0.7M64.0 268.0h0.7M67.7 264.4h0.7M55.7 240.5h0.7M49.3 248.3h0.7M61.2 271.0h0.7M52.1 256.8h0.7M73.2 257.2h0.7M66.7 266.6h0.7M65.1 260.5h0.7M61.8 270.1h0.7M50.7 274.3h0.7M71.3 242.0h0.7M51.7 250.7h0.7M48.7 246.0h0.7M64.6 245.3h0.7M47.9 280.7h0.7M57.7 263.2h0.7M59.7 254.8h0.7M59.2 248.4h0.7M62.8 250.8h0.7M50.2 249.0h0.7M58.0 280.0h0.7M63.3 282.2h0.7M57.6 251.2h0.7M66.6 248.2h0.7M74.9 256.8h0.7M53.9 251.7h0.7M54.8 280.3h0.7M74.8 264.0h0.7M52.7 240.4h0.7M48.3 252.8h0.7M64.6 266.9h0.7M70.7 275.3h0.7M56.2 269.0h0.7M58.9 271.3h0.7M51.3 282.0h0.7M46.7 266.6h0.7M56.2 274.4h0.7M50.2 278.3h0.7M46.1 271.6h0.7M66.4 261.8h0.7M51.1 256.4h0.7M59.0 249.1h0.7M50.7 276.2h0.7M61.9 251.6h0.7M64.1 267.2h0.7M49.9 265.1h0.7M62.9 244.8h0.7M54.7 277.1h0.7M62.8 249.6h0.7M57.4 259.7h0.7M66.5 277.0h0.7M48.5 242.0h0.7M58.8 240.9h0.7M50.5 244.6h0.7M48.6 266.9h0.7M48.8 264.4h0.7M74.0 246.0h0.7M68.0 265.1h0.7M50.9 280.8h0.7M67.4 256.3h0.7M71.8 244.5h0.7M70.2 276.2h0.7M49.4 279.4h0.7M68.7 279.3h0.7M54.2 271.8h0.7M68.6 255.0h0.7M47.0 240.6h0.7M60.7 263.6h0.7M49.6 267.1h0.7M47.5 260.6h0.7M60.8 248.8h0.7M47.4 278.8h0.7M70.7 265.3h0.7M46.9 262.6h0.7M73.9 273.0h0.7M66.0 241.7h0.7M62.8 250.0h0.7M74.6 240.5h0.7M52.5 277.8h0.7M49.5 252.9h0.7M54.9 277.9h0.7M66.2 280.2h0.7M51.6 243.8h0.7M56.0 272.9h0.7M64.0 280.2h0.7M66.7 243.5h0.7M55.1 248.8h0.7M53.8 268.7h0.7M58.9 272.5h0.7M46.5 279.1h0.7M50.7 271.9h0.7M70.5 241.8h0.7M61.7 281.9h0.7M46.2 261.4h0.7M58.3 256.4h0.7M51.6 247.8h0.7M53.7 249.4h0.7M54.5 278.8h0.7M73.5 251.2h0.7M46.8 251.4h0.7" stroke="#afafaf" stroke-width="0.7"/>
<path d="M46.00 250.00C47.00 247.50 49.67 247.67 52.00 247.00C54.33 246.33 56.95 245.83 60.00 246.00C63.05 246.17 69.30 246.58 70.30 248.00C71.30 249.42 67.72 252.17 66.00 254.50C64.28 256.83 62.17 260.33 60.00 262.00C57.83 263.67 55.33 264.50 53.00 264.50C50.67 264.50 47.17 264.42 46.00 262.00C44.83 259.58 45.00 252.50 46.00 250.00Z" fill="#e2e2e2" stroke="none"/>
<path d="M46.00 250.00C47.00 247.50 49.67 247.67 52.00 247.00C54.33 246.33 56.95 245.83 60.00 246.00C63.05 246.17 69.30 246.58 70.30 248.00C71.30 249.42 67.72 252.17 66.00 254.50C64.28 256.83 62.17 260.33 60.00 262.00C57.83 263.67 55.33 264.50 53.00 264.50C50.67 264.50 47.17 264.42 46.00 262.00C44.83 259.58 45.00 252.50 46.00 250.00Z" fill="none" stroke="#5f5f5f" stroke-width="0.75"/>
<path d="M48.57 250.70C49.33 248.78 51.38 248.91 53.17 248.40C54.96 247.89 56.96 247.51 59.30 247.63C61.64 247.76 66.43 248.08 67.20 249.17C67.96 250.25 65.22 252.36 63.90 254.15C62.58 255.94 60.96 258.62 59.30 259.90C57.64 261.18 55.72 261.82 53.93 261.82C52.14 261.82 49.46 261.75 48.57 259.90C47.67 258.05 47.80 252.62 48.57 250.70Z" fill="none" stroke="#646464" stroke-width="0.75"/>
<path d="M51.13 251.40C51.67 250.07 53.09 250.16 54.33 249.80C55.58 249.44 56.97 249.18 58.60 249.27C60.23 249.36 63.56 249.58 64.09 250.33C64.63 251.09 62.72 252.56 61.80 253.80C60.88 255.04 59.76 256.91 58.60 257.80C57.44 258.69 56.11 259.13 54.87 259.13C53.62 259.13 51.76 259.09 51.13 257.80C50.51 256.51 50.60 252.73 51.13 251.40Z" fill="none" stroke="#696969" stroke-width="0.75"/>
<path d="M53.70 252.10C54.00 251.35 54.80 251.40 55.50 251.20C56.20 251.00 56.98 250.85 57.90 250.90C58.81 250.95 60.69 251.07 60.99 251.50C61.29 251.93 60.22 252.75 59.70 253.45C59.19 254.15 58.55 255.20 57.90 255.70C57.25 256.20 56.50 256.45 55.80 256.45C55.10 256.45 54.05 256.43 53.70 255.70C53.35 254.97 53.40 252.85 53.70 252.10Z" fill="none" stroke="#6e6e6e" stroke-width="0.75"/>
<path d="M63.7 243.2h0.6M69.5 247.5h0.6M62.0 246.0h0.6M58.2 243.3h0.6M59.3 246.2h0.6M58.2 247.8h0.6M56.1 243.2h0.6M56.3 246.6h0.6M60.5 244.8h0.6M59.9 245.8h0.6M61.1 243.2h0.6M61.5 243.8h0.6M56.7 246.9h0.6M65.2 246.0h0.6M68.2 244.4h0.6M60.7 244.5h0.6M61.1 246.0h0.6M55.1 244.8h0.6M63.0 244.1h0.6M55.3 246.2h0.6" stroke="#aaaaaa" stroke-width="0.6"/>
<path d="M59.00 274.00C59.00 275.57 58.51 277.43 57.76 278.70C57.01 279.97 55.72 281.12 54.51 281.61C53.30 282.09 51.70 282.09 50.49 281.61C49.28 281.12 47.99 279.97 47.24 278.70C46.49 277.43 46.00 275.57 46.00 274.00C46.00 272.43 46.49 270.57 47.24 269.30C47.99 268.03 49.28 266.88 50.49 266.39C51.70 265.91 53.30 265.91 54.51 266.39C55.72 266.88 57.01 268.03 57.76 269.30C58.51 270.57 59.00 272.43 59.00 274.00Z" fill="#dcdcdc" stroke="none"/>
<path d="M59.00 274.00C59.00 275.57 58.51 277.43 57.76 278.70C57.01 279.97 55.72 281.12 54.51 281.61C53.30 282.09 51.70 282.09 50.49 281.61C49.28 281.12 47.99 279.97 47.24 278.70C46.49 277.43 46.00 275.57 46.00 274.00C46.00 272.43 46.49 270.57 47.24 269.30C47.99 268.03 49.28 266.88 50.49 266.39C51.70 265.91 53.30 265.91 54.51 266.39C55.72 266.88 57.01 268.03 57.76 269.30C58.51 270.57 59.00 272.43 59.00 274.00Z" fill="none" stroke="#5f5f5f" stroke-width="0.75"/>
<path d="M56.73 274.00C56.73 275.02 56.40 276.23 55.92 277.06C55.43 277.88 54.59 278.63 53.81 278.95C53.02 279.26 51.98 279.26 51.19 278.95C50.41 278.63 49.57 277.88 49.08 277.06C48.60 276.23 48.27 275.02 48.27 274.00C48.27 272.98 48.60 271.77 49.08 270.94C49.57 270.12 50.41 269.37 51.19 269.05C51.98 268.74 53.02 268.74 53.81 269.05C54.59 269.37 55.43 270.12 55.92 270.94C56.40 271.77 56.73 272.98 56.73 274.00Z" fill="none" stroke="#616161" stroke-width="0.75"/>
<path d="M54.45 274.00C54.45 274.47 54.30 275.03 54.08 275.41C53.85 275.79 53.47 276.14 53.10 276.28C52.74 276.43 52.26 276.43 51.90 276.28C51.53 276.14 51.15 275.79 50.92 275.41C50.70 275.03 50.55 274.47 50.55 274.00C50.55 273.53 50.70 272.97 50.92 272.59C51.15 272.21 51.53 271.86 51.90 271.72C52.26 271.57 52.74 271.57 53.10 271.72C53.47 271.86 53.85 272.21 54.08 272.59C54.30 272.97 54.45 273.53 54.45 274.00Z" fill="none" stroke="#646464" stroke-width="0.75"/>
<circle cx="53" cy="275" r="1.4" fill="#fff"/>
<path d="M59.30 272.00C59.80 269.83 61.22 267.33 63.00 266.00C64.78 264.67 67.67 264.45 70.00 264.00C72.33 263.55 75.40 262.63 77.00 263.30C78.60 263.97 79.27 265.88 79.60 268.00C79.93 270.12 79.43 273.77 79.00 276.00C78.57 278.23 79.33 280.47 77.00 281.40C74.67 282.33 67.83 282.00 65.00 281.60C62.17 281.20 60.95 280.60 60.00 279.00C59.05 277.40 58.80 274.17 59.30 272.00Z" fill="#d8d8d8" stroke="none"/>
<path d="M59.30 272.00C59.80 269.83 61.22 267.33 63.00 266.00C64.78 264.67 67.67 264.45 70.00 264.00C72.33 263.55 75.40 262.63 77.00 263.30C78.60 263.97 79.27 265.88 79.60 268.00C79.93 270.12 79.43 273.77 79.00 276.00C78.57 278.23 79.33 280.47 77.00 281.40C74.67 282.33 67.83 282.00 65.00 281.60C62.17 281.20 60.95 280.60 60.00 279.00C59.05 277.40 58.80 274.17 59.30 272.00Z" fill="none" stroke="#5a5a5a" stroke-width="0.75"/>
<path d="M61.80 272.23C62.18 270.57 63.27 268.66 64.63 267.63C66.00 266.61 68.21 266.45 70.00 266.10C71.79 265.75 74.14 265.05 75.37 265.56C76.59 266.07 77.10 267.54 77.36 269.17C77.62 270.79 77.23 273.59 76.90 275.30C76.57 277.01 77.16 278.72 75.37 279.44C73.58 280.16 68.34 279.90 66.17 279.59C63.99 279.29 63.06 278.83 62.33 277.60C61.61 276.37 61.41 273.89 61.80 272.23Z" fill="none" stroke="#535353" stroke-width="0.75"/>
<path d="M64.29 272.47C64.56 271.31 65.32 269.98 66.27 269.27C67.22 268.56 68.76 268.44 70.00 268.20C71.24 267.96 72.88 267.47 73.73 267.83C74.59 268.18 74.94 269.20 75.12 270.33C75.30 271.46 75.03 273.41 74.80 274.60C74.57 275.79 74.98 276.98 73.73 277.48C72.49 277.98 68.84 277.80 67.33 277.59C65.82 277.37 65.17 277.05 64.67 276.20C64.16 275.35 64.03 273.62 64.29 272.47Z" fill="none" stroke="#4c4c4c" stroke-width="0.75"/>
<path d="M66.79 272.70C66.94 272.05 67.37 271.30 67.90 270.90C68.44 270.50 69.30 270.44 70.00 270.30C70.70 270.17 71.62 269.89 72.10 270.09C72.58 270.29 72.78 270.87 72.88 271.50C72.98 272.13 72.83 273.23 72.70 273.90C72.57 274.57 72.80 275.24 72.10 275.52C71.40 275.80 69.35 275.70 68.50 275.58C67.65 275.46 67.28 275.28 67.00 274.80C66.72 274.32 66.64 273.35 66.79 272.70Z" fill="none" stroke="#464646" stroke-width="0.75"/>
<path d="M50 265C55 262 60 264 62 268" fill="none" stroke="#777" stroke-width="0.7"/>
</g>
<clipPath id="cp11"><rect x="45.6" y="300.59999999999997" width="50.0" height="50.2"/></clipPath><g clip-path="url(#cp11)">
<path d="M55.7 334.5h0.7M56.7 332.5h0.7M57.2 332.7h0.7M55.7 329.7h0.7" stroke="#707070" stroke-width="0.7"/>
<path d="M56.2 328.2h0.7M57.5 332.2h0.7M52.1 335.3h0.7M53.8 332.5h0.7M57.5 333.8h0.7M56.3 335.5h0.7M57.0 332.0h0.7M56.7 334.8h0.7M58.4 336.6h0.7M52.3 328.5h0.7M57.2 326.0h0.7M52.5 335.8h0.7M51.2 327.8h0.7M56.4 325.5h0.7M56.1 330.2h0.7M54.4 328.0h0.7M60.8 336.1h0.7M57.0 333.3h0.7M58.4 332.8h0.7M55.4 328.1h0.7M59.5 336.6h0.7M56.6 338.1h0.7M59.9 326.4h0.7" stroke="#808080" stroke-width="0.7"/>
<path d="M58.2 336.6h0.7M51.8 336.3h0.7M56.3 326.1h0.7M51.3 333.4h0.7M58.1 329.0h0.7M62.6 330.8h0.7M56.2 327.6h0.7M60.6 332.4h0.7M53.0 337.2h0.7M52.9 328.1h0.7M63.8 332.9h0.7M54.4 325.4h0.7M52.3 327.6h0.7M63.1 330.3h0.7M63.5 333.7h0.7M55.8 333.7h0.7M61.5 330.7h0.7M57.6 339.0h0.7M59.9 325.3h0.7M52.7 332.6h0.7M55.7 338.8h0.7M57.8 337.4h0.7M63.1 333.7h0.7M58.2 335.5h0.7M56.1 328.3h0.7M56.9 327.3h0.7M61.7 333.8h0.7M54.3 336.6h0.7M52.3 326.7h0.7M53.0 330.6h0.7M56.6 330.3h0.7M57.1 332.0h0.7M59.2 327.7h0.7M52.4 338.2h0.7M56.0 330.0h0.7M48.6 328.1h0.7M55.5 334.9h0.7M59.7 330.9h0.7M57.1 331.3h0.7M54.6 335.0h0.7M61.8 331.9h0.7M54.5 336.0h0.7M51.5 325.5h0.7M58.8 331.0h0.7M58.3 334.6h0.7M52.0 329.6h0.7M52.7 337.3h0.7" stroke="#909090" stroke-width="0.7"/>
<path d="M58.3 327.1h0.7M49.0 332.3h0.7M55.5 322.8h0.7M55.2 327.4h0.7M56.7 323.2h0.7M59.6 331.0h0.7M55.8 336.0h0.7M53.2 336.4h0.7M48.1 327.2h0.7M51.3 335.4h0.7M51.8 341.6h0.7M52.8 330.5h0.7M60.1 328.2h0.7M61.4 326.7h0.7M59.5 336.6h0.7M50.1 338.0h0.7M47.5 337.6h0.7M64.1 324.6h0.7M64.8 337.1h0.7M49.1 332.6h0.7M59.8 329.5h0.7M56.9 343.0h0.7M60.6 333.6h0.7M47.3 325.5h0.7M47.6 332.9h0.7M52.0 329.4h0.7M53.7 321.2h0.7M53.5 340.0h0.7M67.5 328.1h0.7M52.8 320.3h0.7M47.3 330.4h0.7M61.4 326.6h0.7M49.7 330.2h0.7M54.8 334.5h0.7M61.7 328.0h0.7M54.6 324.2h0.7M53.3 321.8h0.7M51.1 338.5h0.7M49.5 331.8h0.7M61.0 329.1h0.7M58.4 336.7h0.7M61.5 327.6h0.7M65.1 337.2h0.7M50.6 338.6h0.7M66.7 328.2h0.7M54.5 343.6h0.7M53.8 341.7h0.7M49.2 338.7h0.7M47.9 333.6h0.7M46.9 323.6h0.7M59.5 334.7h0.7M52.7 339.7h0.7M58.1 326.7h0.7M63.7 336.5h0.7M47.6 334.6h0.7M50.0 340.7h0.7M58.5 324.2h0.7M56.6 336.7h0.7M59.6 337.5h0.7M56.5 338.7h0.7M52.4 325.9h0.7M48.8 339.1h0.7M57.8 343.3h0.7M59.8 328.6h0.7M57.8 323.1h0.7M56.9 322.3h0.7" stroke="#a0a0a0" stroke-width="0.7"/>
<path d="M57.3 343.8h0.7M48.6 343.7h0.7M62.6 343.3h0.7M52.9 323.6h0.7M46.7 344.4h0.7M48.7 341.7h0.7M56.6 322.9h0.7M62.7 328.8h0.7M60.1 323.3h0.7M51.3 340.5h0.7M62.2 323.5h0.7M48.8 327.9h0.7M53.1 345.0h0.7M61.8 319.7h0.7M49.0 335.1h0.7M49.4 325.9h0.7M57.0 344.8h0.7M47.2 341.2h0.7M61.8 323.1h0.7M51.1 323.2h0.7M65.2 341.8h0.7M47.4 337.4h0.7M53.2 318.3h0.7M48.0 319.7h0.7M54.0 320.9h0.7M56.6 347.5h0.7M59.6 321.6h0.7M49.4 340.2h0.7M55.7 321.4h0.7M46.6 327.2h0.7M49.9 324.6h0.7M63.2 324.5h0.7M62.0 334.6h0.7M47.5 319.7h0.7M60.9 322.3h0.7M54.3 324.7h0.7M69.2 340.4h0.7M62.4 332.2h0.7M63.7 340.8h0.7M58.6 323.5h0.7M53.1 321.5h0.7M48.7 328.3h0.7M65.7 328.7h0.7M57.2 323.8h0.7M59.5 341.5h0.7M66.2 337.3h0.7M67.3 331.5h0.7M53.9 340.5h0.7M57.1 323.0h0.7M63.5 320.2h0.7M63.2 334.1h0.7M59.8 338.1h0.7M62.5 332.3h0.7M53.1 318.7h0.7M63.1 339.6h0.7M48.3 327.6h0.7" stroke="#b0b0b0" stroke-width="0.7"/>
<path d="M48.2 339.5h0.7M65.6 326.2h0.7M66.9 324.9h0.7M48.5 327.7h0.7M65.0 328.0h0.7M65.1 336.1h0.7M68.3 335.8h0.7M69.7 318.0h0.7M54.1 342.4h0.7M69.8 335.6h0.7M51.5 345.0h0.7M65.8 324.6h0.7M54.2 319.5h0.7M63.5 340.2h0.7M65.4 334.3h0.7M65.8 340.1h0.7M50.0 341.8h0.7M66.8 343.6h0.7M63.1 340.8h0.7M56.7 347.8h0.7M51.0 322.5h0.7M51.3 340.8h0.7M49.2 325.0h0.7" stroke="#c0c0c0" stroke-width="0.7"/>
<path d="M69.9 326.6h0.7M65.0 343.4h0.7M64.8 318.3h0.7M62.5 318.3h0.7M56.6 348.8h0.7M47.0 346.9h0.7M68.4 338.0h0.7M47.8 347.4h0.7" stroke="#d0d0d0" stroke-width="0.7"/>
<path d="M47.1 346.4h0.7" stroke="#e0e0e0" stroke-width="0.7"/>
<path d="M47.20 325.00C47.53 323.50 48.37 322.53 50.00 322.00C51.63 321.47 54.67 321.75 57.00 321.80C59.33 321.85 62.37 321.68 64.00 322.30C65.63 322.92 66.80 324.05 66.80 325.50C66.80 326.95 64.97 329.58 64.00 331.00C63.03 332.42 61.42 332.50 61.00 334.00C60.58 335.50 61.00 338.33 61.50 340.00C62.00 341.67 63.92 342.62 64.00 344.00C64.08 345.38 63.67 347.60 62.00 348.30C60.33 349.00 55.67 348.92 54.00 348.20C52.33 347.48 51.83 345.53 52.00 344.00C52.17 342.47 54.83 340.67 55.00 339.00C55.17 337.33 54.17 335.33 53.00 334.00C51.83 332.67 48.97 332.50 48.00 331.00C47.03 329.50 46.87 326.50 47.20 325.00Z" fill="none" stroke="#5a5a5a" stroke-width="0.75"/>
<ellipse cx="55.5" cy="326.5" rx="3" ry="1.3" fill="none" stroke="#777" stroke-width="0.7"/>
<ellipse cx="57" cy="345" rx="2.5" ry="1.2" fill="none" stroke="#777" stroke-width="0.7"/>
<circle cx="60" cy="334" r="1" fill="none" stroke="#888" stroke-width="0.6"/>
<path d="M85.70 341.50C85.70 343.10 85.31 344.91 84.67 346.30C84.03 347.69 82.96 349.01 81.85 349.81C80.74 350.61 79.28 351.10 78.00 351.10C76.72 351.10 75.26 350.61 74.15 349.81C73.04 349.01 71.97 347.69 71.33 346.30C70.69 344.91 70.30 343.10 70.30 341.50C70.30 339.90 70.69 338.09 71.33 336.70C71.97 335.31 73.04 333.99 74.15 333.19C75.26 332.39 76.72 331.90 78.00 331.90C79.28 331.90 80.74 332.39 81.85 333.19C82.96 333.99 84.03 335.31 84.67 336.70C85.31 338.09 85.70 339.90 85.70 341.50Z" fill="#e4e4e4" stroke="none"/>
<path d="M85.70 341.50C85.70 343.10 85.31 344.91 84.67 346.30C84.03 347.69 82.96 349.01 81.85 349.81C80.74 350.61 79.28 351.10 78.00 351.10C76.72 351.10 75.26 350.61 74.15 349.81C73.04 349.01 71.97 347.69 71.33 346.30C70.69 344.91 70.30 343.10 70.30 341.50C70.30 339.90 70.69 338.09 71.33 336.70C71.97 335.31 73.04 333.99 74.15 333.19C75.26 332.39 76.72 331.90 78.00 331.90C79.28 331.90 80.74 332.39 81.85 333.19C82.96 333.99 84.03 335.31 84.67 336.70C85.31 338.09 85.70 339.90 85.70 341.50Z" fill="none" stroke="#5a5a5a" stroke-width="0.75"/>
<path d="M83.58 342.00C83.58 343.16 83.30 344.48 82.83 345.48C82.37 346.48 81.60 347.45 80.79 348.03C79.99 348.61 78.93 348.96 78.00 348.96C77.07 348.96 76.01 348.61 75.21 348.03C74.40 347.45 73.63 346.48 73.17 345.48C72.70 344.48 72.42 343.16 72.42 342.00C72.42 340.84 72.70 339.52 73.17 338.52C73.63 337.52 74.40 336.55 75.21 335.97C76.01 335.39 77.07 335.04 78.00 335.04C78.93 335.04 79.99 335.39 80.79 335.97C81.60 336.55 82.37 337.52 82.83 338.52C83.30 339.52 83.58 340.84 83.58 342.00Z" fill="none" stroke="#646464" stroke-width="0.75"/>
<path d="M81.47 342.50C81.47 343.22 81.29 344.04 81.00 344.66C80.71 345.28 80.23 345.88 79.73 346.24C79.23 346.60 78.58 346.82 78.00 346.82C77.42 346.82 76.77 346.60 76.27 346.24C75.77 345.88 75.29 345.28 75.00 344.66C74.71 344.04 74.53 343.22 74.53 342.50C74.53 341.78 74.71 340.96 75.00 340.34C75.29 339.72 75.77 339.12 76.27 338.76C76.77 338.40 77.42 338.18 78.00 338.18C78.58 338.18 79.23 338.40 79.73 338.76C80.23 339.12 80.71 339.72 81.00 340.34C81.29 340.96 81.47 341.78 81.47 342.50Z" fill="none" stroke="#6e6e6e" stroke-width="0.75"/>
<path d="M77.3 338V345M79.3 338V345" stroke="#444" stroke-width="0.8"/>
</g>
<clipPath id="cp12"><rect x="114.10000000000001" y="230.9" width="49.69999999999999" height="51.7"/></clipPath><g clip-path="url(#cp12)">
<path d="M120.1 267.8h0.7M127.5 279.1h0.7M132.7 265.8h0.7M140.5 257.7h0.7M138.4 262.4h0.7M134.2 280.9h0.7M137.4 268.6h0.7M137.3 248.8h0.7M128.3 277.2h0.7M136.1 263.3h0.7M123.5 259.8h0.7M128.3 251.9h0.7M140.5 270.0h0.7M130.7 254.2h0.7M125.7 262.0h0.7M121.5 259.4h0.7M126.8 273.0h0.7M139.8 248.3h0.7M121.3 277.1h0.7M118.2 256.8h0.7M131.5 266.1h0.7M123.2 273.6h0.7M135.1 248.2h0.7M135.1 260.8h0.7M129.8 267.6h0.7M133.6 275.3h0.7M122.3 254.5h0.7M122.9 254.2h0.7M136.9 277.2h0.7M126.7 271.4h0.7M137.0 277.3h0.7M136.5 267.8h0.7M137.2 259.1h0.7M132.3 257.2h0.7M127.7 260.9h0.7M129.9 248.1h0.7M128.5 264.9h0.7M139.8 272.1h0.7M121.6 261.4h0.7M136.1 250.8h0.7M138.7 249.6h0.7M134.2 267.2h0.7M141.0 260.6h0.7M125.4 254.1h0.7M124.7 258.8h0.7M131.9 257.5h0.7M122.3 277.5h0.7M119.6 280.5h0.7M124.2 274.0h0.7M135.6 280.5h0.7M136.5 248.3h0.7M136.2 281.0h0.7M136.9 265.7h0.7M119.1 248.7h0.7M123.9 272.5h0.7M121.7 267.1h0.7M136.0 267.3h0.7M135.5 275.2h0.7M135.4 248.2h0.7M133.9 267.5h0.7M137.7 256.8h0.7M121.4 249.7h0.7M128.8 253.5h0.7M136.5 267.8h0.7M127.0 259.6h0.7M120.2 252.5h0.7M139.4 253.8h0.7M130.9 267.5h0.7M136.0 253.6h0.7M127.5 252.6h0.7M120.8 260.7h0.7M130.7 259.0h0.7M127.4 267.0h0.7M118.7 277.0h0.7M118.4 261.7h0.7M135.1 248.3h0.7M121.6 248.7h0.7M121.3 267.8h0.7M135.9 280.8h0.7M130.8 277.9h0.7M128.0 265.9h0.7M141.0 248.9h0.7M139.9 258.2h0.7M128.6 279.8h0.7M128.5 279.3h0.7M134.1 253.0h0.7M141.4 249.0h0.7M134.6 258.9h0.7M141.1 256.3h0.7M122.4 256.6h0.7" stroke="#b4b4b4" stroke-width="0.7"/>
<path d="M155.37 251.84C156.04 252.58 156.39 253.80 156.29 255.06C156.19 256.31 155.61 257.95 154.76 259.38C153.92 260.82 152.58 262.43 151.21 263.66C149.85 264.89 148.10 266.05 146.59 266.74C145.08 267.43 143.39 267.83 142.13 267.80C140.87 267.77 139.69 267.30 139.03 266.56C138.36 265.82 138.01 264.60 138.11 263.34C138.21 262.09 138.79 260.45 139.64 259.02C140.48 257.58 141.82 255.97 143.19 254.74C144.55 253.51 146.30 252.35 147.81 251.66C149.32 250.97 151.01 250.57 152.27 250.60C153.53 250.63 154.71 251.10 155.37 251.84Z" fill="#e6e6e6" stroke="none"/>
<path d="M155.37 251.84C156.04 252.58 156.39 253.80 156.29 255.06C156.19 256.31 155.61 257.95 154.76 259.38C153.92 260.82 152.58 262.43 151.21 263.66C149.85 264.89 148.10 266.05 146.59 266.74C145.08 267.43 143.39 267.83 142.13 267.80C140.87 267.77 139.69 267.30 139.03 266.56C138.36 265.82 138.01 264.60 138.11 263.34C138.21 262.09 138.79 260.45 139.64 259.02C140.48 257.58 141.82 255.97 143.19 254.74C144.55 253.51 146.30 252.35 147.81 251.66C149.32 250.97 151.01 250.57 152.27 250.60C153.53 250.63 154.71 251.10 155.37 251.84Z" fill="none" stroke="#505050" stroke-width="0.75"/>
<path d="M152.72 254.23C153.17 254.73 153.40 255.55 153.33 256.40C153.26 257.25 152.88 258.35 152.31 259.32C151.74 260.29 150.83 261.38 149.91 262.21C148.99 263.04 147.81 263.82 146.79 264.29C145.77 264.76 144.63 265.03 143.78 265.01C142.93 264.99 142.13 264.67 141.68 264.17C141.23 263.67 141.00 262.85 141.07 262.00C141.14 261.15 141.52 260.05 142.09 259.08C142.66 258.11 143.57 257.02 144.49 256.19C145.41 255.36 146.59 254.58 147.61 254.11C148.63 253.64 149.77 253.37 150.62 253.39C151.47 253.41 152.27 253.73 152.72 254.23Z" fill="none" stroke="#5a5a5a" stroke-width="0.75"/>
<path d="M150.06 256.62C150.30 256.88 150.42 257.31 150.38 257.75C150.34 258.19 150.14 258.76 149.85 259.26C149.55 259.77 149.08 260.33 148.61 260.76C148.13 261.19 147.52 261.60 146.99 261.84C146.46 262.08 145.87 262.22 145.42 262.21C144.98 262.20 144.57 262.04 144.34 261.78C144.10 261.52 143.98 261.09 144.02 260.65C144.06 260.21 144.26 259.64 144.55 259.14C144.85 258.63 145.32 258.07 145.79 257.64C146.27 257.21 146.88 256.80 147.41 256.56C147.94 256.32 148.53 256.18 148.98 256.19C149.42 256.20 149.83 256.36 150.06 256.62Z" fill="none" stroke="#646464" stroke-width="0.75"/>
<path d="M154.50 273.20C154.50 274.55 153.98 276.08 153.12 277.25C152.26 278.42 150.84 279.54 149.35 280.21C147.86 280.89 145.92 281.30 144.20 281.30C142.48 281.30 140.54 280.89 139.05 280.21C137.56 279.54 136.14 278.42 135.28 277.25C134.42 276.08 133.90 274.55 133.90 273.20C133.90 271.85 134.42 270.32 135.28 269.15C136.14 267.98 137.56 266.86 139.05 266.19C140.54 265.51 142.48 265.10 144.20 265.10C145.92 265.10 147.86 265.51 149.35 266.19C150.84 266.86 152.26 267.98 153.12 269.15C153.98 270.32 154.50 271.85 154.50 273.20Z" fill="#e0e0e0" stroke="none"/>
<path d="M154.50 273.20C154.50 274.55 153.98 276.08 153.12 277.25C152.26 278.42 150.84 279.54 149.35 280.21C147.86 280.89 145.92 281.30 144.20 281.30C142.48 281.30 140.54 280.89 139.05 280.21C137.56 279.54 136.14 278.42 135.28 277.25C134.42 276.08 133.90 274.55 133.90 273.20C133.90 271.85 134.42 270.32 135.28 269.15C136.14 267.98 137.56 266.86 139.05 266.19C140.54 265.51 142.48 265.10 144.20 265.10C145.92 265.10 147.86 265.51 149.35 266.19C150.84 266.86 152.26 267.98 153.12 269.15C153.98 270.32 154.50 271.85 154.50 273.20Z" fill="none" stroke="#505050" stroke-width="0.75"/>
<path d="M151.41 273.20C151.41 274.14 151.04 275.22 150.44 276.03C149.84 276.85 148.85 277.64 147.80 278.11C146.76 278.58 145.40 278.87 144.20 278.87C143.00 278.87 141.64 278.58 140.59 278.11C139.55 277.64 138.56 276.85 137.96 276.03C137.36 275.22 136.99 274.14 136.99 273.20C136.99 272.25 137.36 271.18 137.96 270.37C138.56 269.55 139.55 268.76 140.59 268.29C141.64 267.82 143.00 267.53 144.20 267.53C145.40 267.53 146.76 267.82 147.80 268.29C148.85 268.76 149.84 269.55 150.44 270.37C151.04 271.18 151.41 272.25 151.41 273.20Z" fill="none" stroke="#5a5a5a" stroke-width="0.75"/>
<path d="M148.32 273.20C148.32 273.74 148.11 274.35 147.77 274.82C147.42 275.29 146.85 275.74 146.26 276.01C145.67 276.28 144.89 276.44 144.20 276.44C143.51 276.44 142.73 276.28 142.14 276.01C141.55 275.74 140.98 275.29 140.63 274.82C140.29 274.35 140.08 273.74 140.08 273.20C140.08 272.66 140.29 272.05 140.63 271.58C140.98 271.11 141.55 270.66 142.14 270.39C142.73 270.12 143.51 269.96 144.20 269.96C144.89 269.96 145.67 270.12 146.26 270.39C146.85 270.66 147.42 271.11 147.77 271.58C148.11 272.05 148.32 272.66 148.32 273.20Z" fill="none" stroke="#646464" stroke-width="0.75"/>
<circle cx="146" cy="274" r="1.8" fill="#fff"/>
<path d="M144 261.5c2-2 4-4 7-6" fill="none" stroke="#555" stroke-width="0.9"/>
</g>
<clipPath id="cp13"><rect x="112.30000000000001" y="300.59999999999997" width="50.3" height="50.2"/></clipPath><g clip-path="url(#cp13)">
<path d="M153.09 316.38C154.08 316.99 154.85 318.25 155.13 319.71C155.42 321.16 155.29 323.20 154.79 325.10C154.29 327.00 153.28 329.27 152.14 331.11C150.99 332.95 149.39 334.84 147.90 336.12C146.41 337.41 144.63 338.42 143.20 338.80C141.77 339.19 140.30 339.04 139.31 338.42C138.32 337.81 137.55 336.55 137.27 335.09C136.98 333.64 137.11 331.60 137.61 329.70C138.11 327.80 139.12 325.53 140.26 323.69C141.41 321.85 143.01 319.96 144.50 318.68C145.99 317.39 147.77 316.38 149.20 316.00C150.63 315.61 152.10 315.76 153.09 316.38Z" fill="none" stroke="#505050" stroke-width="0.75"/>
<path d="M149.99 321.34C150.53 321.68 150.96 322.37 151.11 323.17C151.27 323.97 151.20 325.09 150.92 326.14C150.65 327.18 150.10 328.43 149.46 329.44C148.83 330.45 147.95 331.49 147.13 332.20C146.31 332.90 145.34 333.46 144.55 333.67C143.76 333.88 142.96 333.80 142.41 333.46C141.87 333.12 141.44 332.43 141.29 331.63C141.13 330.83 141.20 329.71 141.48 328.66C141.75 327.62 142.30 326.37 142.94 325.36C143.57 324.35 144.45 323.31 145.27 322.60C146.09 321.90 147.06 321.34 147.85 321.13C148.64 320.92 149.44 321.00 149.99 321.34Z" fill="none" stroke="#6e6e6e" stroke-width="0.75"/>
<path d="M143 330C146 326 149 323 151 322" fill="none" stroke="#888" stroke-width="0.6"/>
<path d="M120.9 345.4h0.7M115.9 335.7h0.7M122.6 347.9h0.7M121.7 341.9h0.7M116.2 333.4h0.7M129.4 341.1h0.7M129.8 338.8h0.7M124.8 334.0h0.7M118.9 331.0h0.7M117.7 339.0h0.7M127.0 344.8h0.7M128.1 346.3h0.7M130.2 330.2h0.7M133.5 339.9h0.7M123.6 331.8h0.7M117.4 331.3h0.7M116.0 345.7h0.7M122.2 345.6h0.7M135.7 342.5h0.7M118.5 333.2h0.7M135.2 339.8h0.7M121.4 349.1h0.7M117.7 347.6h0.7M114.2 338.7h0.7M121.4 349.5h0.7M124.0 341.3h0.7M131.8 342.6h0.7M132.3 346.3h0.7M115.5 332.8h0.7M123.0 337.9h0.7M132.0 332.8h0.7M135.7 346.2h0.7M128.3 335.2h0.7M131.2 344.1h0.7M133.0 336.1h0.7M131.3 334.1h0.7M124.0 332.7h0.7M119.8 348.9h0.7M136.0 333.1h0.7M128.3 330.1h0.7M121.9 338.8h0.7M119.1 330.9h0.7M128.8 348.0h0.7M118.4 337.4h0.7M130.4 344.3h0.7M129.4 336.3h0.7M134.9 345.9h0.7M131.7 342.5h0.7M117.8 348.9h0.7M127.0 340.0h0.7" stroke="#b4b4b4" stroke-width="0.7"/>
<path d="M133.20 340.80C133.20 341.77 132.73 342.86 131.97 343.70C131.20 344.54 129.93 345.34 128.60 345.82C127.27 346.31 125.53 346.60 124.00 346.60C122.47 346.60 120.73 346.31 119.40 345.82C118.07 345.34 116.80 344.54 116.03 343.70C115.27 342.86 114.80 341.77 114.80 340.80C114.80 339.83 115.27 338.74 116.03 337.90C116.80 337.06 118.07 336.26 119.40 335.78C120.73 335.29 122.47 335.00 124.00 335.00C125.53 335.00 127.27 335.29 128.60 335.78C129.93 336.26 131.20 337.06 131.97 337.90C132.73 338.74 133.20 339.83 133.20 340.80Z" fill="none" stroke="#6e6e6e" stroke-width="0.75"/>
<path d="M129.98 340.80C129.98 341.43 129.68 342.14 129.18 342.69C128.68 343.23 127.85 343.75 126.99 344.06C126.13 344.38 125.00 344.57 124.00 344.57C123.00 344.57 121.87 344.38 121.01 344.06C120.15 343.75 119.32 343.23 118.82 342.69C118.32 342.14 118.02 341.43 118.02 340.80C118.02 340.17 118.32 339.46 118.82 338.92C119.32 338.37 120.15 337.85 121.01 337.54C121.87 337.22 123.00 337.03 124.00 337.03C125.00 337.03 126.13 337.22 126.99 337.54C127.85 337.85 128.68 338.37 129.18 338.92C129.68 339.46 129.98 340.17 129.98 340.80Z" fill="none" stroke="#6e6e6e" stroke-width="0.75"/>
<path d="M126.76 340.80C126.76 341.09 126.62 341.42 126.39 341.67C126.16 341.92 125.78 342.16 125.38 342.31C124.98 342.45 124.46 342.54 124.00 342.54C123.54 342.54 123.02 342.45 122.62 342.31C122.22 342.16 121.84 341.92 121.61 341.67C121.38 341.42 121.24 341.09 121.24 340.80C121.24 340.51 121.38 340.18 121.61 339.93C121.84 339.68 122.22 339.44 122.62 339.29C123.02 339.15 123.54 339.06 124.00 339.06C124.46 339.06 124.98 339.15 125.38 339.29C125.78 339.44 126.16 339.68 126.39 339.93C126.62 340.18 126.76 340.51 126.76 340.80Z" fill="none" stroke="#6e6e6e" stroke-width="0.75"/>
<path d="M153.40 342.50C153.40 343.55 153.02 344.74 152.40 345.65C151.77 346.56 150.73 347.43 149.65 347.96C148.57 348.48 147.15 348.80 145.90 348.80C144.65 348.80 143.23 348.48 142.15 347.96C141.07 347.43 140.03 346.56 139.40 345.65C138.78 344.74 138.40 343.55 138.40 342.50C138.40 341.45 138.78 340.26 139.40 339.35C140.03 338.44 141.07 337.57 142.15 337.04C143.23 336.52 144.65 336.20 145.90 336.20C147.15 336.20 148.57 336.52 149.65 337.04C150.73 337.57 151.77 338.44 152.40 339.35C153.02 340.26 153.40 341.45 153.40 342.50Z" fill="#dadada" stroke="none"/>
<path d="M153.40 342.50C153.40 343.55 153.02 344.74 152.40 345.65C151.77 346.56 150.73 347.43 149.65 347.96C148.57 348.48 147.15 348.80 145.90 348.80C144.65 348.80 143.23 348.48 142.15 347.96C141.07 347.43 140.03 346.56 139.40 345.65C138.78 344.74 138.40 343.55 138.40 342.50C138.40 341.45 138.78 340.26 139.40 339.35C140.03 338.44 141.07 337.57 142.15 337.04C143.23 336.52 144.65 336.20 145.90 336.20C147.15 336.20 148.57 336.52 149.65 337.04C150.73 337.57 151.77 338.44 152.40 339.35C153.02 340.26 153.40 341.45 153.40 342.50Z" fill="none" stroke="#5a5a5a" stroke-width="0.75"/>
<path d="M151.53 342.50C151.53 343.29 151.24 344.18 150.77 344.86C150.30 345.54 149.52 346.20 148.71 346.59C147.90 346.99 146.84 347.23 145.90 347.23C144.96 347.23 143.90 346.99 143.09 346.59C142.28 346.20 141.50 345.54 141.03 344.86C140.56 344.18 140.28 343.29 140.28 342.50C140.28 341.71 140.56 340.82 141.03 340.14C141.50 339.46 142.28 338.80 143.09 338.41C143.90 338.01 144.96 337.77 145.90 337.77C146.84 337.77 147.90 338.01 148.71 338.41C149.52 338.80 150.30 339.46 150.77 340.14C151.24 340.82 151.53 341.71 151.53 342.50Z" fill="none" stroke="#535353" stroke-width="0.75"/>
<path d="M149.65 342.50C149.65 343.02 149.46 343.62 149.15 344.07C148.84 344.53 148.32 344.97 147.78 345.23C147.23 345.49 146.53 345.65 145.90 345.65C145.28 345.65 144.57 345.49 144.03 345.23C143.48 344.97 142.96 344.53 142.65 344.07C142.34 343.62 142.15 343.02 142.15 342.50C142.15 341.98 142.34 341.38 142.65 340.93C142.96 340.47 143.48 340.03 144.03 339.77C144.57 339.51 145.28 339.35 145.90 339.35C146.53 339.35 147.23 339.51 147.78 339.77C148.32 340.03 148.84 340.47 149.15 340.93C149.46 341.38 149.65 341.98 149.65 342.50Z" fill="none" stroke="#4c4c4c" stroke-width="0.75"/>
<path d="M147.78 342.50C147.78 342.76 147.68 343.06 147.52 343.29C147.37 343.51 147.11 343.73 146.84 343.86C146.57 344.00 146.21 344.07 145.90 344.07C145.59 344.07 145.23 344.00 144.96 343.86C144.69 343.73 144.43 343.51 144.28 343.29C144.12 343.06 144.03 342.76 144.03 342.50C144.03 342.24 144.12 341.94 144.28 341.71C144.43 341.49 144.69 341.27 144.96 341.14C145.23 341.00 145.59 340.93 145.90 340.93C146.21 340.93 146.57 341.00 146.84 341.14C147.11 341.27 147.37 341.49 147.52 341.71C147.68 341.94 147.78 342.24 147.78 342.50Z" fill="none" stroke="#464646" stroke-width="0.75"/>
</g>
<clipPath id="cp14"><rect x="179.9" y="230.3" width="52.3" height="52.3"/></clipPath><g clip-path="url(#cp14)">
<path d="M208 251l3-2 3 2 3-2" fill="none" stroke="#aaa" stroke-width="0.6"/>
<path d="M193.4 258.7h0.7M199.3 262.1h0.7M197.4 258.0h0.7M187.9 270.9h0.7M197.1 278.7h0.7M191.0 264.2h0.7M189.7 275.1h0.7M199.9 262.2h0.7M198.1 266.3h0.7M186.9 275.2h0.7M187.6 270.4h0.7M187.7 264.2h0.7M185.6 277.4h0.7M199.6 275.3h0.7M196.6 270.7h0.7M193.8 272.6h0.7M191.6 260.3h0.7M188.3 265.5h0.7M195.8 277.4h0.7M192.3 267.2h0.7M189.9 271.3h0.7M197.1 270.1h0.7M187.9 277.1h0.7M183.0 265.3h0.7M182.3 264.2h0.7M195.5 273.0h0.7M189.0 265.6h0.7M195.4 273.9h0.7M182.9 274.2h0.7M192.4 268.0h0.7M193.6 262.2h0.7M194.3 261.2h0.7M197.2 280.2h0.7M195.8 266.8h0.7M200.0 278.9h0.7M200.0 272.6h0.7M189.6 264.9h0.7M203.1 266.6h0.7M187.9 273.9h0.7M188.9 279.7h0.7M195.2 261.6h0.7M197.1 272.0h0.7M183.7 270.7h0.7M199.0 259.2h0.7M203.7 278.0h0.7M190.9 280.9h0.7M202.6 258.5h0.7M182.6 272.1h0.7M187.7 270.3h0.7M187.6 264.9h0.7M184.8 264.1h0.7M191.8 262.5h0.7M182.8 277.5h0.7M193.0 280.2h0.7M193.9 273.4h0.7M190.8 261.9h0.7M203.4 263.9h0.7M185.5 268.9h0.7M200.1 264.9h0.7M188.7 260.0h0.7M203.9 280.6h0.7M197.6 271.0h0.7M185.1 278.1h0.7M193.9 272.8h0.7M188.0 262.0h0.7M189.5 261.7h0.7M195.6 268.4h0.7M185.4 275.3h0.7M200.6 273.5h0.7M189.6 277.4h0.7M200.4 262.7h0.7M197.8 262.2h0.7M191.6 277.3h0.7M201.8 270.0h0.7M185.3 269.3h0.7M184.8 279.0h0.7M199.5 280.4h0.7M190.9 271.1h0.7M183.2 258.0h0.7M184.3 260.2h0.7M196.9 268.9h0.7M193.8 264.3h0.7M182.1 266.7h0.7M186.1 261.1h0.7M198.9 266.2h0.7M198.4 259.5h0.7M194.7 268.6h0.7M192.0 263.0h0.7M194.9 279.0h0.7M199.7 269.4h0.7" stroke="#b9b9b9" stroke-width="0.7"/>
<path d="M200.00 272.00C200.17 269.33 202.00 266.53 204.00 265.00C206.00 263.47 209.50 262.97 212.00 262.80C214.50 262.63 217.33 262.80 219.00 264.00C220.67 265.20 221.78 267.67 222.00 270.00C222.22 272.33 221.80 275.95 220.30 278.00C218.80 280.05 215.88 281.80 213.00 282.30C210.12 282.80 205.17 282.72 203.00 281.00C200.83 279.28 199.83 274.67 200.00 272.00Z" fill="#e0e0e0" stroke="none"/>
<path d="M200.00 272.00C200.17 269.33 202.00 266.53 204.00 265.00C206.00 263.47 209.50 262.97 212.00 262.80C214.50 262.63 217.33 262.80 219.00 264.00C220.67 265.20 221.78 267.67 222.00 270.00C222.22 272.33 221.80 275.95 220.30 278.00C218.80 280.05 215.88 281.80 213.00 282.30C210.12 282.80 205.17 282.72 203.00 281.00C200.83 279.28 199.83 274.67 200.00 272.00Z" fill="none" stroke="#505050" stroke-width="0.7"/>
<path d="M202.20 272.20C202.33 270.07 203.80 267.83 205.40 266.60C207.00 265.37 209.80 264.97 211.80 264.84C213.80 264.71 216.07 264.84 217.40 265.80C218.73 266.76 219.63 268.73 219.80 270.60C219.97 272.47 219.64 275.36 218.44 277.00C217.24 278.64 214.91 280.04 212.60 280.44C210.29 280.84 206.33 280.77 204.60 279.40C202.87 278.03 202.07 274.33 202.20 272.20Z" fill="none" stroke="#525252" stroke-width="0.7"/>
<path d="M204.40 272.40C204.50 270.80 205.60 269.12 206.80 268.20C208.00 267.28 210.10 266.98 211.60 266.88C213.10 266.78 214.80 266.88 215.80 267.60C216.80 268.32 217.47 269.80 217.60 271.20C217.73 272.60 217.48 274.77 216.58 276.00C215.68 277.23 213.93 278.28 212.20 278.58C210.47 278.88 207.50 278.83 206.20 277.80C204.90 276.77 204.30 274.00 204.40 272.40Z" fill="none" stroke="#555555" stroke-width="0.7"/>
<path d="M206.60 272.60C206.67 271.53 207.40 270.41 208.20 269.80C209.00 269.19 210.40 268.99 211.40 268.92C212.40 268.85 213.53 268.92 214.20 269.40C214.87 269.88 215.31 270.87 215.40 271.80C215.49 272.73 215.32 274.18 214.72 275.00C214.12 275.82 212.95 276.52 211.80 276.72C210.65 276.92 208.67 276.89 207.80 276.20C206.93 275.51 206.53 273.67 206.60 272.60Z" fill="none" stroke="#575757" stroke-width="0.7"/>
<path d="M208.80 272.80C208.83 272.27 209.20 271.71 209.60 271.40C210.00 271.09 210.70 270.99 211.20 270.96C211.70 270.93 212.27 270.96 212.60 271.20C212.93 271.44 213.16 271.93 213.20 272.40C213.24 272.87 213.16 273.59 212.86 274.00C212.56 274.41 211.98 274.76 211.40 274.86C210.82 274.96 209.83 274.94 209.40 274.60C208.97 274.26 208.77 273.33 208.80 272.80Z" fill="none" stroke="#5a5a5a" stroke-width="0.7"/>
</g>
<clipPath id="cp15"><rect x="180.3" y="299.29999999999995" width="52.3" height="52.300000000000026"/></clipPath><g clip-path="url(#cp15)">
<ellipse cx="210.5" cy="318" rx="3" ry="1.8" transform="rotate(-30 210.5 318)" fill="none" stroke="#555" stroke-width="0.8"/>
<path d="M216.2 347.3h0.7M227.7 342.2h0.7M192.6 350.4h0.7M226.1 340.8h0.7M204.7 340.7h0.7M204.5 346.4h0.7M217.2 343.0h0.7M210.3 340.4h0.7M189.3 334.3h0.7M191.3 347.8h0.7M191.4 337.1h0.7M198.9 337.7h0.7M196.5 344.7h0.7M191.0 344.2h0.7M229.7 343.0h0.7M193.3 329.5h0.7M219.4 339.1h0.7M207.2 336.5h0.7M214.5 345.1h0.7M206.2 331.6h0.7M218.6 350.3h0.7M228.8 332.5h0.7M188.1 350.4h0.7M222.3 342.0h0.7M209.2 334.3h0.7M213.3 338.3h0.7M216.3 332.1h0.7M220.8 339.6h0.7M218.6 327.8h0.7M218.8 343.5h0.7M186.1 337.5h0.7M210.3 334.4h0.7M188.2 340.1h0.7M211.4 341.6h0.7M212.1 329.7h0.7M227.7 338.7h0.7M214.1 335.1h0.7M203.8 328.1h0.7M197.0 343.9h0.7M209.5 329.1h0.7M217.1 339.8h0.7M214.5 337.9h0.7M184.2 348.9h0.7M228.0 348.4h0.7M218.2 336.0h0.7M193.0 341.1h0.7M206.4 332.9h0.7M213.5 344.8h0.7M193.1 328.7h0.7M229.0 345.7h0.7M186.6 327.3h0.7M203.6 347.6h0.7M216.5 331.5h0.7M200.4 332.3h0.7M207.4 343.4h0.7M186.1 342.5h0.7M221.3 339.8h0.7M212.9 333.0h0.7M199.6 344.0h0.7M227.2 335.4h0.7M191.8 330.4h0.7M229.6 333.0h0.7M219.9 349.5h0.7M222.8 348.5h0.7M203.7 333.2h0.7M222.0 350.6h0.7M204.9 348.6h0.7M185.7 348.9h0.7M186.6 332.5h0.7M202.3 334.8h0.7" stroke="#b9b9b9" stroke-width="0.7"/>
<path d="M201.80 337.50C201.80 338.67 201.35 339.99 200.62 341.00C199.89 342.01 198.67 342.98 197.40 343.56C196.13 344.15 194.47 344.50 193.00 344.50C191.53 344.50 189.87 344.15 188.60 343.56C187.33 342.98 186.11 342.01 185.38 341.00C184.65 339.99 184.20 338.67 184.20 337.50C184.20 336.33 184.65 335.01 185.38 334.00C186.11 332.99 187.33 332.02 188.60 331.44C189.87 330.85 191.53 330.50 193.00 330.50C194.47 330.50 196.13 330.85 197.40 331.44C198.67 332.02 199.89 332.99 200.62 334.00C201.35 335.01 201.80 336.33 201.80 337.50Z" fill="none" stroke="#505050" stroke-width="0.75"/>
<path d="M199.45 337.50C199.45 338.36 199.13 339.33 198.59 340.07C198.05 340.81 197.16 341.52 196.23 341.95C195.30 342.37 194.08 342.63 193.00 342.63C191.92 342.63 190.70 342.37 189.77 341.95C188.84 341.52 187.95 340.81 187.41 340.07C186.87 339.33 186.55 338.36 186.55 337.50C186.55 336.64 186.87 335.67 187.41 334.93C187.95 334.19 188.84 333.48 189.77 333.05C190.70 332.63 191.92 332.37 193.00 332.37C194.08 332.37 195.30 332.63 196.23 333.05C197.16 333.48 198.05 334.19 198.59 334.93C199.13 335.67 199.45 336.64 199.45 337.50Z" fill="none" stroke="#565656" stroke-width="0.75"/>
<path d="M197.11 337.50C197.11 338.04 196.90 338.66 196.56 339.13C196.21 339.60 195.65 340.06 195.05 340.33C194.46 340.60 193.68 340.77 193.00 340.77C192.32 340.77 191.54 340.60 190.95 340.33C190.35 340.06 189.79 339.60 189.44 339.13C189.10 338.66 188.89 338.04 188.89 337.50C188.89 336.96 189.10 336.34 189.44 335.87C189.79 335.40 190.35 334.94 190.95 334.67C191.54 334.40 192.32 334.23 193.00 334.23C193.68 334.23 194.46 334.40 195.05 334.67C195.65 334.94 196.21 335.40 196.56 335.87C196.90 336.34 197.11 336.96 197.11 337.50Z" fill="none" stroke="#5d5d5d" stroke-width="0.75"/>
<path d="M194.76 337.50C194.76 337.73 194.67 338.00 194.52 338.20C194.38 338.40 194.13 338.60 193.88 338.71C193.63 338.83 193.29 338.90 193.00 338.90C192.71 338.90 192.37 338.83 192.12 338.71C191.87 338.60 191.62 338.40 191.48 338.20C191.33 338.00 191.24 337.73 191.24 337.50C191.24 337.27 191.33 337.00 191.48 336.80C191.62 336.60 191.87 336.40 192.12 336.29C192.37 336.17 192.71 336.10 193.00 336.10C193.29 336.10 193.63 336.17 193.88 336.29C194.13 336.40 194.38 336.60 194.52 336.80C194.67 337.00 194.76 337.27 194.76 337.50Z" fill="none" stroke="#646464" stroke-width="0.75"/>
<path d="M207.60 333.00C208.27 331.60 210.27 331.00 212.00 330.60C213.73 330.20 216.13 330.20 218.00 330.60C219.87 331.00 222.53 331.43 223.20 333.00C223.87 334.57 222.87 337.83 222.00 340.00C221.13 342.17 219.17 344.30 218.00 346.00C216.83 347.70 216.17 350.20 215.00 350.20C213.83 350.20 212.17 347.87 211.00 346.00C209.83 344.13 208.57 341.17 208.00 339.00C207.43 336.83 206.93 334.40 207.60 333.00Z" fill="#dcdcdc" stroke="none"/>
<path d="M207.60 333.00C208.27 331.60 210.27 331.00 212.00 330.60C213.73 330.20 216.13 330.20 218.00 330.60C219.87 331.00 222.53 331.43 223.20 333.00C223.87 334.57 222.87 337.83 222.00 340.00C221.13 342.17 219.17 344.30 218.00 346.00C216.83 347.70 216.17 350.20 215.00 350.20C213.83 350.20 212.17 347.87 211.00 346.00C209.83 344.13 208.57 341.17 208.00 339.00C207.43 336.83 206.93 334.40 207.60 333.00Z" fill="none" stroke="#505050" stroke-width="0.7"/>
<path d="M209.18 333.80C209.71 332.68 211.31 332.20 212.70 331.88C214.09 331.56 216.01 331.56 217.50 331.88C218.99 332.20 221.13 332.55 221.66 333.80C222.19 335.05 221.39 337.67 220.70 339.40C220.01 341.13 218.43 342.84 217.50 344.20C216.57 345.56 216.03 347.56 215.10 347.56C214.17 347.56 212.83 345.69 211.90 344.20C210.97 342.71 209.95 340.33 209.50 338.60C209.05 336.87 208.65 334.92 209.18 333.80Z" fill="none" stroke="#505050" stroke-width="0.7"/>
<path d="M210.76 334.60C211.16 333.76 212.36 333.40 213.40 333.16C214.44 332.92 215.88 332.92 217.00 333.16C218.12 333.40 219.72 333.66 220.12 334.60C220.52 335.54 219.92 337.50 219.40 338.80C218.88 340.10 217.70 341.38 217.00 342.40C216.30 343.42 215.90 344.92 215.20 344.92C214.50 344.92 213.50 343.52 212.80 342.40C212.10 341.28 211.34 339.50 211.00 338.20C210.66 336.90 210.36 335.44 210.76 334.60Z" fill="none" stroke="#505050" stroke-width="0.7"/>
<path d="M212.34 335.40C212.61 334.84 213.41 334.60 214.10 334.44C214.79 334.28 215.75 334.28 216.50 334.44C217.25 334.60 218.31 334.77 218.58 335.40C218.85 336.03 218.45 337.33 218.10 338.20C217.75 339.07 216.97 339.92 216.50 340.60C216.03 341.28 215.77 342.28 215.30 342.28C214.83 342.28 214.17 341.35 213.70 340.60C213.23 339.85 212.73 338.67 212.50 337.80C212.27 336.93 212.07 335.96 212.34 335.40Z" fill="none" stroke="#505050" stroke-width="0.7"/>
<path d="M213.92 336.20C214.05 335.92 214.45 335.80 214.80 335.72C215.15 335.64 215.63 335.64 216.00 335.72C216.37 335.80 216.91 335.89 217.04 336.20C217.17 336.51 216.97 337.17 216.80 337.60C216.63 338.03 216.23 338.46 216.00 338.80C215.77 339.14 215.63 339.64 215.40 339.64C215.17 339.64 214.83 339.17 214.60 338.80C214.37 338.43 214.11 337.83 214.00 337.40C213.89 336.97 213.79 336.48 213.92 336.20Z" fill="none" stroke="#505050" stroke-width="0.7"/>
</g>
<clipPath id="cp16"><rect x="267.59999999999997" y="297.59999999999997" width="52.300000000000026" height="52.300000000000026"/></clipPath><g clip-path="url(#cp16)">
<path d="M288.4 334.8h0.6M281.5 340.4h0.6M291.3 333.7h0.6M294.1 337.2h0.6M297.2 333.8h0.6M277.2 337.4h0.6M287.5 335.9h0.6M277.8 333.6h0.6M295.0 340.3h0.6M295.9 338.5h0.6M288.6 341.8h0.6M297.9 340.5h0.6M285.7 329.4h0.6M284.4 337.2h0.6M288.8 332.7h0.6M286.6 339.0h0.6M280.0 332.1h0.6M294.6 336.6h0.6M277.0 330.3h0.6M298.5 335.6h0.6M281.3 335.4h0.6M296.1 341.3h0.6M295.0 339.8h0.6M288.2 334.2h0.6M281.8 331.2h0.6" stroke="#d7d7d7" stroke-width="0.6"/>
<path d="M312.98 332.53C312.63 333.82 311.96 335.28 311.28 336.21C310.60 337.15 309.66 337.91 308.90 338.13C308.15 338.36 307.29 338.13 306.75 337.56C306.21 336.99 305.77 335.86 305.65 334.71C305.53 333.56 305.68 331.96 306.02 330.67C306.37 329.38 307.04 327.92 307.72 326.99C308.40 326.05 309.34 325.29 310.10 325.07C310.85 324.84 311.71 325.07 312.25 325.64C312.79 326.21 313.23 327.34 313.35 328.49C313.47 329.64 313.32 331.24 312.98 332.53Z" fill="#d4d4d4" stroke="none"/>
<path d="M312.98 332.53C312.63 333.82 311.96 335.28 311.28 336.21C310.60 337.15 309.66 337.91 308.90 338.13C308.15 338.36 307.29 338.13 306.75 337.56C306.21 336.99 305.77 335.86 305.65 334.71C305.53 333.56 305.68 331.96 306.02 330.67C306.37 329.38 307.04 327.92 307.72 326.99C308.40 326.05 309.34 325.29 310.10 325.07C310.85 324.84 311.71 325.07 312.25 325.64C312.79 326.21 313.23 327.34 313.35 328.49C313.47 329.64 313.32 331.24 312.98 332.53Z" fill="none" stroke="#6e6e6e" stroke-width="0.75"/>
<path d="M311.93 332.25C311.69 333.15 311.22 334.18 310.75 334.83C310.27 335.48 309.61 336.02 309.08 336.17C308.55 336.33 307.96 336.17 307.58 335.77C307.20 335.37 306.89 334.58 306.81 333.77C306.72 332.97 306.82 331.85 307.07 330.95C307.31 330.05 307.78 329.02 308.25 328.37C308.73 327.72 309.39 327.18 309.92 327.03C310.45 326.87 311.04 327.03 311.42 327.43C311.80 327.83 312.11 328.62 312.19 329.43C312.28 330.23 312.18 331.35 311.93 332.25Z" fill="none" stroke="#4b4b4b" stroke-width="0.75"/>
<path d="M310.89 331.97C310.75 332.49 310.48 333.07 310.21 333.45C309.94 333.82 309.56 334.12 309.26 334.21C308.96 334.30 308.62 334.21 308.40 333.98C308.18 333.76 308.01 333.30 307.96 332.84C307.91 332.38 307.97 331.74 308.11 331.23C308.25 330.71 308.52 330.13 308.79 329.75C309.06 329.38 309.44 329.08 309.74 328.99C310.04 328.90 310.38 328.99 310.60 329.22C310.82 329.44 310.99 329.90 311.04 330.36C311.09 330.82 311.03 331.46 310.89 331.97Z" fill="none" stroke="#282828" stroke-width="0.75"/>
<ellipse cx="309.3" cy="331.3" rx="1.1" ry="2.6" transform="rotate(15 309.3 331.3)" fill="#fff" stroke="#222" stroke-width="0.9"/>
</g>
<clipPath id="cp17"><rect x="331.59999999999997" y="297.9" width="53.500000000000014" height="52.2"/></clipPath><g clip-path="url(#cp17)">
<path d="M347.50 303.80C348.67 303.63 350.12 304.13 351.00 305.00C351.88 305.87 352.58 307.50 352.80 309.00C353.02 310.50 352.68 312.50 352.30 314.00C351.92 315.50 351.05 316.92 350.50 318.00C349.95 319.08 349.67 320.08 349.00 320.50C348.33 320.92 347.25 321.08 346.50 320.50C345.75 319.92 345.05 318.58 344.50 317.00C343.95 315.42 343.28 312.83 343.20 311.00C343.12 309.17 343.28 307.20 344.00 306.00C344.72 304.80 346.33 303.97 347.50 303.80Z" fill="#e0e0e0" stroke="none"/>
<path d="M347.50 303.80C348.67 303.63 350.12 304.13 351.00 305.00C351.88 305.87 352.58 307.50 352.80 309.00C353.02 310.50 352.68 312.50 352.30 314.00C351.92 315.50 351.05 316.92 350.50 318.00C349.95 319.08 349.67 320.08 349.00 320.50C348.33 320.92 347.25 321.08 346.50 320.50C345.75 319.92 345.05 318.58 344.50 317.00C343.95 315.42 343.28 312.83 343.20 311.00C343.12 309.17 343.28 307.20 344.00 306.00C344.72 304.80 346.33 303.97 347.50 303.80Z" fill="none" stroke="#5a5a5a" stroke-width="0.75"/>
<path d="M347.62 305.13C348.51 305.00 349.62 305.39 350.30 306.05C350.98 306.71 351.51 307.97 351.68 309.12C351.85 310.27 351.59 311.80 351.30 312.95C351.00 314.10 350.34 315.19 349.92 316.02C349.50 316.85 349.28 317.61 348.77 317.93C348.26 318.25 347.43 318.38 346.85 317.93C346.28 317.49 345.74 316.46 345.32 315.25C344.89 314.04 344.38 312.06 344.32 310.65C344.26 309.24 344.38 307.74 344.93 306.82C345.48 305.90 346.72 305.26 347.62 305.13Z" fill="none" stroke="#565656" stroke-width="0.75"/>
<path d="M347.73 306.46C348.36 306.37 349.13 306.64 349.60 307.10C350.07 307.56 350.44 308.43 350.56 309.23C350.68 310.03 350.50 311.10 350.29 311.90C350.09 312.70 349.63 313.46 349.33 314.03C349.04 314.61 348.89 315.14 348.53 315.37C348.18 315.59 347.60 315.68 347.20 315.37C346.80 315.06 346.43 314.34 346.13 313.50C345.84 312.66 345.48 311.28 345.44 310.30C345.40 309.32 345.48 308.27 345.87 307.63C346.25 306.99 347.11 306.55 347.73 306.46Z" fill="none" stroke="#535353" stroke-width="0.75"/>
<path d="M347.85 307.79C348.20 307.74 348.63 307.89 348.90 308.15C349.16 308.41 349.38 308.90 349.44 309.35C349.50 309.80 349.41 310.40 349.29 310.85C349.18 311.30 348.92 311.73 348.75 312.05C348.58 312.38 348.50 312.68 348.30 312.80C348.10 312.93 347.78 312.98 347.55 312.80C347.32 312.62 347.12 312.23 346.95 311.75C346.78 311.27 346.58 310.50 346.56 309.95C346.54 309.40 346.59 308.81 346.80 308.45C347.01 308.09 347.50 307.84 347.85 307.79Z" fill="none" stroke="#505050" stroke-width="0.75"/>
<ellipse cx="348.2" cy="309.3" rx="1.4" ry="1.8" fill="#fff" stroke="#555" stroke-width="0.8"/>
<path d="M343.60 330.00C343.95 327.50 344.43 324.28 345.50 323.00C346.57 321.72 348.75 321.80 350.00 322.30C351.25 322.80 352.40 323.88 353.00 326.00C353.60 328.12 353.65 331.83 353.60 335.00C353.55 338.17 353.55 342.78 352.70 345.00C351.85 347.22 349.90 348.30 348.50 348.30C347.10 348.30 345.15 346.72 344.30 345.00C343.45 343.28 343.52 340.50 343.40 338.00C343.28 335.50 343.25 332.50 343.60 330.00Z" fill="#d6d6d6" stroke="none"/>
<path d="M343.60 330.00C343.95 327.50 344.43 324.28 345.50 323.00C346.57 321.72 348.75 321.80 350.00 322.30C351.25 322.80 352.40 323.88 353.00 326.00C353.60 328.12 353.65 331.83 353.60 335.00C353.55 338.17 353.55 342.78 352.70 345.00C351.85 347.22 349.90 348.30 348.50 348.30C347.10 348.30 345.15 346.72 344.30 345.00C343.45 343.28 343.52 340.50 343.40 338.00C343.28 335.50 343.25 332.50 343.60 330.00Z" fill="none" stroke="#646464" stroke-width="0.75"/>
<path d="M344.74 331.28C345.01 329.37 345.38 326.90 346.20 325.92C347.02 324.93 348.69 325.00 349.65 325.38C350.61 325.76 351.49 326.59 351.95 328.22C352.41 329.84 352.45 332.69 352.41 335.12C352.37 337.54 352.37 341.08 351.72 342.78C351.07 344.48 349.57 345.31 348.50 345.31C347.43 345.31 345.93 344.10 345.28 342.78C344.63 341.47 344.68 339.33 344.59 337.42C344.50 335.50 344.48 333.20 344.74 331.28Z" fill="none" stroke="#606060" stroke-width="0.75"/>
<path d="M345.89 332.57C346.07 331.23 346.33 329.52 346.90 328.83C347.47 328.15 348.63 328.19 349.30 328.46C349.97 328.73 350.58 329.30 350.90 330.43C351.22 331.56 351.25 333.54 351.22 335.23C351.19 336.92 351.19 339.38 350.74 340.57C350.29 341.75 349.25 342.33 348.50 342.33C347.75 342.33 346.71 341.48 346.26 340.57C345.81 339.65 345.84 338.17 345.78 336.83C345.72 335.50 345.70 333.90 345.89 332.57Z" fill="none" stroke="#5d5d5d" stroke-width="0.75"/>
<path d="M347.03 333.85C347.14 333.10 347.28 332.13 347.60 331.75C347.92 331.37 348.57 331.39 348.95 331.54C349.32 331.69 349.67 332.01 349.85 332.65C350.03 333.28 350.05 334.40 350.03 335.35C350.02 336.30 350.01 337.69 349.76 338.35C349.50 339.02 348.92 339.34 348.50 339.34C348.08 339.34 347.50 338.87 347.24 338.35C346.99 337.84 347.00 337.00 346.97 336.25C346.93 335.50 346.93 334.60 347.03 333.85Z" fill="none" stroke="#5a5a5a" stroke-width="0.75"/>
<path d="M346.5 327C348 331 349 335 348 343M350 327C351 332 351.5 337 350.5 343" fill="none" stroke="#777" stroke-width="0.7"/>
<path d="M375.80 335.20C375.80 337.27 375.48 339.61 374.96 341.40C374.43 343.19 373.56 344.91 372.65 345.94C371.74 346.97 370.55 347.60 369.50 347.60C368.45 347.60 367.26 346.97 366.35 345.94C365.44 344.91 364.57 343.19 364.04 341.40C363.52 339.61 363.20 337.27 363.20 335.20C363.20 333.13 363.52 330.79 364.04 329.00C364.57 327.21 365.44 325.49 366.35 324.46C367.26 323.43 368.45 322.80 369.50 322.80C370.55 322.80 371.74 323.43 372.65 324.46C373.56 325.49 374.43 327.21 374.96 329.00C375.48 330.79 375.80 333.13 375.80 335.20Z" fill="#c8c8c8" stroke="none"/>
<path d="M375.80 335.20C375.80 337.27 375.48 339.61 374.96 341.40C374.43 343.19 373.56 344.91 372.65 345.94C371.74 346.97 370.55 347.60 369.50 347.60C368.45 347.60 367.26 346.97 366.35 345.94C365.44 344.91 364.57 343.19 364.04 341.40C363.52 339.61 363.20 337.27 363.20 335.20C363.20 333.13 363.52 330.79 364.04 329.00C364.57 327.21 365.44 325.49 366.35 324.46C367.26 323.43 368.45 322.80 369.50 322.80C370.55 322.80 371.74 323.43 372.65 324.46C373.56 325.49 374.43 327.21 374.96 329.00C375.48 330.79 375.80 333.13 375.80 335.20Z" fill="none" stroke="#505050" stroke-width="0.8"/>
<path d="M374.78 335.20C374.78 336.93 374.51 338.89 374.07 340.39C373.63 341.89 372.90 343.33 372.14 344.19C371.38 345.06 370.38 345.58 369.50 345.58C368.62 345.58 367.62 345.06 366.86 344.19C366.10 343.33 365.37 341.89 364.93 340.39C364.49 338.89 364.22 336.93 364.22 335.20C364.22 333.47 364.49 331.51 364.93 330.01C365.37 328.51 366.10 327.07 366.86 326.21C367.62 325.34 368.62 324.81 369.50 324.81C370.38 324.81 371.38 325.34 372.14 326.21C372.90 327.07 373.63 328.51 374.07 330.01C374.51 331.51 374.78 333.47 374.78 335.20Z" fill="none" stroke="#4b4b4b" stroke-width="0.8"/>
<path d="M373.75 335.20C373.75 336.59 373.54 338.18 373.18 339.38C372.83 340.59 372.24 341.75 371.63 342.45C371.01 343.15 370.21 343.57 369.50 343.57C368.79 343.57 367.99 343.15 367.37 342.45C366.76 341.75 366.17 340.59 365.82 339.38C365.46 338.18 365.25 336.59 365.25 335.20C365.25 333.81 365.46 332.22 365.82 331.01C366.17 329.81 366.76 328.65 367.37 327.95C367.99 327.25 368.79 326.83 369.50 326.83C370.21 326.83 371.01 327.25 371.63 327.95C372.24 328.65 372.83 329.81 373.18 331.01C373.54 332.22 373.75 333.81 373.75 335.20Z" fill="none" stroke="#464646" stroke-width="0.8"/>
<path d="M372.73 335.20C372.73 336.26 372.57 337.46 372.30 338.38C372.03 339.29 371.58 340.17 371.11 340.70C370.65 341.23 370.04 341.55 369.50 341.55C368.96 341.55 368.35 341.23 367.89 340.70C367.42 340.17 366.97 339.29 366.70 338.38C366.43 337.46 366.27 336.26 366.27 335.20C366.27 334.14 366.43 332.94 366.70 332.02C366.97 331.11 367.42 330.23 367.89 329.70C368.35 329.17 368.96 328.85 369.50 328.85C370.04 328.85 370.65 329.17 371.11 329.70C371.58 330.23 372.03 331.11 372.30 332.02C372.57 332.94 372.73 334.14 372.73 335.20Z" fill="none" stroke="#414141" stroke-width="0.8"/>
<path d="M371.70 335.20C371.70 335.92 371.59 336.74 371.41 337.37C371.23 338.00 370.92 338.60 370.60 338.96C370.28 339.32 369.87 339.54 369.50 339.54C369.13 339.54 368.72 339.32 368.40 338.96C368.08 338.60 367.77 338.00 367.59 337.37C367.41 336.74 367.30 335.92 367.30 335.20C367.30 334.48 367.41 333.66 367.59 333.03C367.77 332.40 368.08 331.80 368.40 331.44C368.72 331.08 369.13 330.86 369.50 330.86C369.87 330.86 370.28 331.08 370.60 331.44C370.92 331.80 371.23 332.40 371.41 333.03C371.59 333.66 371.70 334.48 371.70 335.20Z" fill="none" stroke="#3c3c3c" stroke-width="0.8"/>
<ellipse cx="369" cy="336" rx="1.5" ry="3.5" fill="#fff" stroke="#444" stroke-width="0.7"/>
</g>
<clipPath id="cp18"><rect x="394.7" y="296.9" width="53.7" height="52.2"/></clipPath><g clip-path="url(#cp18)">
<path d="M412.00 304.80C413.08 304.80 414.60 305.13 415.50 306.00C416.40 306.87 417.32 308.50 417.40 310.00C417.48 311.50 416.73 313.42 416.00 315.00C415.27 316.58 413.95 318.83 413.00 319.50C412.05 320.17 411.20 319.92 410.30 319.00C409.40 318.08 408.15 315.67 407.60 314.00C407.05 312.33 406.77 310.33 407.00 309.00C407.23 307.67 408.17 306.70 409.00 306.00C409.83 305.30 410.92 304.80 412.00 304.80Z" fill="#d8d8d8" stroke="none"/>
<path d="M412.00 304.80C413.08 304.80 414.60 305.13 415.50 306.00C416.40 306.87 417.32 308.50 417.40 310.00C417.48 311.50 416.73 313.42 416.00 315.00C415.27 316.58 413.95 318.83 413.00 319.50C412.05 320.17 411.20 319.92 410.30 319.00C409.40 318.08 408.15 315.67 407.60 314.00C407.05 312.33 406.77 310.33 407.00 309.00C407.23 307.67 408.17 306.70 409.00 306.00C409.83 305.30 410.92 304.80 412.00 304.80Z" fill="none" stroke="#3c3c3c" stroke-width="0.85"/>
<path d="M412.00 305.90C412.83 305.90 413.99 306.15 414.68 306.82C415.37 307.48 416.08 308.73 416.14 309.88C416.20 311.03 415.63 312.50 415.07 313.72C414.50 314.93 413.50 316.66 412.77 317.17C412.04 317.68 411.39 317.49 410.70 316.78C410.01 316.08 409.05 314.23 408.63 312.95C408.20 311.67 407.99 310.14 408.17 309.12C408.35 308.09 409.06 307.35 409.70 306.82C410.34 306.28 411.17 305.90 412.00 305.90Z" fill="none" stroke="#494949" stroke-width="0.85"/>
<path d="M412.00 306.99C412.58 306.99 413.39 307.17 413.87 307.63C414.35 308.10 414.84 308.97 414.88 309.77C414.92 310.57 414.52 311.59 414.13 312.43C413.74 313.28 413.04 314.48 412.53 314.83C412.03 315.19 411.57 315.06 411.09 314.57C410.61 314.08 409.95 312.79 409.65 311.90C409.36 311.01 409.21 309.94 409.33 309.23C409.46 308.52 409.96 308.01 410.40 307.63C410.84 307.26 411.42 306.99 412.00 306.99Z" fill="none" stroke="#565656" stroke-width="0.85"/>
<path d="M412.00 308.09C412.32 308.09 412.78 308.19 413.05 308.45C413.32 308.71 413.60 309.20 413.62 309.65C413.64 310.10 413.42 310.67 413.20 311.15C412.98 311.62 412.59 312.30 412.30 312.50C412.01 312.70 411.76 312.62 411.49 312.35C411.22 312.08 410.85 311.35 410.68 310.85C410.51 310.35 410.43 309.75 410.50 309.35C410.57 308.95 410.85 308.66 411.10 308.45C411.35 308.24 411.68 308.09 412.00 308.09Z" fill="none" stroke="#646464" stroke-width="0.85"/>
<circle cx="412" cy="309" r="1.2" fill="#fff"/>
<path d="M416.80 330.00C416.80 331.25 416.55 332.67 416.14 333.75C415.74 334.83 415.06 335.87 414.35 336.50C413.64 337.12 412.72 337.50 411.90 337.50C411.08 337.50 410.16 337.12 409.45 336.50C408.74 335.87 408.06 334.83 407.66 333.75C407.25 332.67 407.00 331.25 407.00 330.00C407.00 328.75 407.25 327.33 407.66 326.25C408.06 325.17 408.74 324.13 409.45 323.50C410.16 322.88 411.08 322.50 411.90 322.50C412.72 322.50 413.64 322.88 414.35 323.50C415.06 324.13 415.74 325.17 416.14 326.25C416.55 327.33 416.80 328.75 416.80 330.00Z" fill="#e2e2e2" stroke="none"/>
<path d="M416.80 330.00C416.80 331.25 416.55 332.67 416.14 333.75C415.74 334.83 415.06 335.87 414.35 336.50C413.64 337.12 412.72 337.50 411.90 337.50C411.08 337.50 410.16 337.12 409.45 336.50C408.74 335.87 408.06 334.83 407.66 333.75C407.25 332.67 407.00 331.25 407.00 330.00C407.00 328.75 407.25 327.33 407.66 326.25C408.06 325.17 408.74 324.13 409.45 323.50C410.16 322.88 411.08 322.50 411.90 322.50C412.72 322.50 413.64 322.88 414.35 323.50C415.06 324.13 415.74 325.17 416.14 326.25C416.55 327.33 416.80 328.75 416.80 330.00Z" fill="none" stroke="#969696" stroke-width="0.75"/>
<path d="M415.33 330.00C415.33 330.88 415.16 331.87 414.87 332.62C414.58 333.38 414.11 334.11 413.61 334.55C413.12 334.98 412.47 335.25 411.90 335.25C411.33 335.25 410.68 334.98 410.18 334.55C409.69 334.11 409.22 333.38 408.93 332.62C408.64 331.87 408.47 330.88 408.47 330.00C408.47 329.12 408.64 328.13 408.93 327.38C409.22 326.62 409.69 325.89 410.18 325.45C410.68 325.02 411.33 324.75 411.90 324.75C412.47 324.75 413.12 325.02 413.61 325.45C414.11 325.89 414.58 326.62 414.87 327.38C415.16 328.13 415.33 329.12 415.33 330.00Z" fill="none" stroke="#919191" stroke-width="0.75"/>
<path d="M413.86 330.00C413.86 330.50 413.76 331.07 413.60 331.50C413.43 331.93 413.16 332.35 412.88 332.60C412.60 332.85 412.23 333.00 411.90 333.00C411.57 333.00 411.20 332.85 410.92 332.60C410.64 332.35 410.37 331.93 410.20 331.50C410.04 331.07 409.94 330.50 409.94 330.00C409.94 329.50 410.04 328.93 410.20 328.50C410.37 328.07 410.64 327.65 410.92 327.40C411.20 327.15 411.57 327.00 411.90 327.00C412.23 327.00 412.60 327.15 412.88 327.40C413.16 327.65 413.43 328.07 413.60 328.50C413.76 328.93 413.86 329.50 413.86 330.00Z" fill="none" stroke="#8c8c8c" stroke-width="0.75"/>
<path d="M411 320.5L412 323M413 320L412.5 323" stroke="#888" stroke-width="0.6"/>
</g>
<clipPath id="cp19"><rect x="458.7" y="297.79999999999995" width="53.39999999999999" height="51.90000000000005"/></clipPath><g clip-path="url(#cp19)">
<path d="M482.00 310.00C482.00 311.10 481.69 312.35 481.18 313.30C480.67 314.25 479.83 315.17 478.95 315.72C478.07 316.27 476.92 316.60 475.90 316.60C474.88 316.60 473.73 316.27 472.85 315.72C471.97 315.17 471.13 314.25 470.62 313.30C470.11 312.35 469.80 311.10 469.80 310.00C469.80 308.90 470.11 307.65 470.62 306.70C471.13 305.75 471.97 304.83 472.85 304.28C473.73 303.73 474.88 303.40 475.90 303.40C476.92 303.40 478.07 303.73 478.95 304.28C479.83 304.83 480.67 305.75 481.18 306.70C481.69 307.65 482.00 308.90 482.00 310.00Z" fill="#cfcfcf" stroke="none"/>
<path d="M482.00 310.00C482.00 311.10 481.69 312.35 481.18 313.30C480.67 314.25 479.83 315.17 478.95 315.72C478.07 316.27 476.92 316.60 475.90 316.60C474.88 316.60 473.73 316.27 472.85 315.72C471.97 315.17 471.13 314.25 470.62 313.30C470.11 312.35 469.80 311.10 469.80 310.00C469.80 308.90 470.11 307.65 470.62 306.70C471.13 305.75 471.97 304.83 472.85 304.28C473.73 303.73 474.88 303.40 475.90 303.40C476.92 303.40 478.07 303.73 478.95 304.28C479.83 304.83 480.67 305.75 481.18 306.70C481.69 307.65 482.00 308.90 482.00 310.00Z" fill="none" stroke="#646464" stroke-width="0.8"/>
<path d="M480.58 310.00C480.58 310.84 480.34 311.80 479.95 312.53C479.56 313.26 478.91 313.96 478.24 314.38C477.56 314.80 476.68 315.06 475.90 315.06C475.12 315.06 474.24 314.80 473.56 314.38C472.89 313.96 472.24 313.26 471.85 312.53C471.46 311.80 471.22 310.84 471.22 310.00C471.22 309.16 471.46 308.20 471.85 307.47C472.24 306.74 472.89 306.04 473.56 305.62C474.24 305.20 475.12 304.94 475.90 304.94C476.68 304.94 477.56 305.20 478.24 305.62C478.91 306.04 479.56 306.74 479.95 307.47C480.34 308.20 480.58 309.16 480.58 310.00Z" fill="none" stroke="#565656" stroke-width="0.8"/>
<path d="M479.15 310.00C479.15 310.59 478.99 311.25 478.72 311.76C478.45 312.27 478.00 312.76 477.53 313.05C477.06 313.34 476.44 313.52 475.90 313.52C475.36 313.52 474.74 313.34 474.27 313.05C473.80 312.76 473.35 312.27 473.08 311.76C472.81 311.25 472.65 310.59 472.65 310.00C472.65 309.41 472.81 308.75 473.08 308.24C473.35 307.73 473.80 307.24 474.27 306.95C474.74 306.66 475.36 306.48 475.90 306.48C476.44 306.48 477.06 306.66 477.53 306.95C478.00 307.24 478.45 307.73 478.72 308.24C478.99 308.75 479.15 309.41 479.15 310.00Z" fill="none" stroke="#494949" stroke-width="0.8"/>
<path d="M477.73 310.00C477.73 310.33 477.64 310.70 477.48 310.99C477.33 311.28 477.08 311.55 476.81 311.71C476.55 311.88 476.20 311.98 475.90 311.98C475.59 311.98 475.25 311.88 474.98 311.71C474.72 311.55 474.47 311.28 474.32 310.99C474.16 310.70 474.07 310.33 474.07 310.00C474.07 309.67 474.16 309.30 474.32 309.01C474.47 308.72 474.72 308.45 474.98 308.29C475.25 308.12 475.59 308.02 475.90 308.02C476.20 308.02 476.55 308.12 476.81 308.29C477.08 308.45 477.33 308.72 477.48 309.01C477.64 309.30 477.73 309.67 477.73 310.00Z" fill="none" stroke="#3c3c3c" stroke-width="0.8"/>
<circle cx="475.5" cy="309" r="1.3" fill="#fff"/>
<path d="M499.60 313.00C499.60 314.12 499.40 315.38 499.08 316.35C498.75 317.32 498.21 318.24 497.65 318.80C497.09 319.36 496.35 319.70 495.70 319.70C495.05 319.70 494.31 319.36 493.75 318.80C493.19 318.24 492.65 317.32 492.32 316.35C492.00 315.38 491.80 314.12 491.80 313.00C491.80 311.88 492.00 310.62 492.32 309.65C492.65 308.68 493.19 307.76 493.75 307.20C494.31 306.64 495.05 306.30 495.70 306.30C496.35 306.30 497.09 306.64 497.65 307.20C498.21 307.76 498.75 308.68 499.08 309.65C499.40 310.62 499.60 311.88 499.60 313.00Z" fill="#d6d6d6" stroke="none"/>
<path d="M499.60 313.00C499.60 314.12 499.40 315.38 499.08 316.35C498.75 317.32 498.21 318.24 497.65 318.80C497.09 319.36 496.35 319.70 495.70 319.70C495.05 319.70 494.31 319.36 493.75 318.80C493.19 318.24 492.65 317.32 492.32 316.35C492.00 315.38 491.80 314.12 491.80 313.00C491.80 311.88 492.00 310.62 492.32 309.65C492.65 308.68 493.19 307.76 493.75 307.20C494.31 306.64 495.05 306.30 495.70 306.30C496.35 306.30 497.09 306.64 497.65 307.20C498.21 307.76 498.75 308.68 499.08 309.65C499.40 310.62 499.60 311.88 499.60 313.00Z" fill="none" stroke="#6e6e6e" stroke-width="0.75"/>
<path d="M498.33 313.00C498.33 313.75 498.20 314.61 497.98 315.26C497.76 315.91 497.40 316.54 497.02 316.92C496.64 317.29 496.14 317.52 495.70 317.52C495.26 317.52 494.76 317.29 494.38 316.92C494.00 316.54 493.64 315.91 493.42 315.26C493.20 314.61 493.07 313.75 493.07 313.00C493.07 312.25 493.20 311.39 493.42 310.74C493.64 310.09 494.00 309.46 494.38 309.08C494.76 308.71 495.26 308.48 495.70 308.48C496.14 308.48 496.64 308.71 497.02 309.08C497.40 309.46 497.76 310.09 497.98 310.74C498.20 311.39 498.33 312.25 498.33 313.00Z" fill="none" stroke="#5a5a5a" stroke-width="0.75"/>
<path d="M497.06 313.00C497.06 313.39 497.00 313.83 496.88 314.17C496.77 314.51 496.58 314.84 496.38 315.03C496.19 315.23 495.93 315.34 495.70 315.34C495.47 315.34 495.21 315.23 495.02 315.03C494.82 314.84 494.63 314.51 494.52 314.17C494.40 313.83 494.33 313.39 494.33 313.00C494.33 312.61 494.40 312.17 494.52 311.83C494.63 311.49 494.82 311.16 495.02 310.97C495.21 310.77 495.47 310.66 495.70 310.66C495.93 310.66 496.19 310.77 496.38 310.97C496.58 311.16 496.77 311.49 496.88 311.83C497.00 312.17 497.06 312.61 497.06 313.00Z" fill="none" stroke="#464646" stroke-width="0.75"/>
<path d="M500.50 332.70C500.50 334.55 500.22 336.65 499.76 338.25C499.30 339.85 498.54 341.39 497.75 342.31C496.96 343.24 495.92 343.80 495.00 343.80C494.08 343.80 493.04 343.24 492.25 342.31C491.46 341.39 490.70 339.85 490.24 338.25C489.78 336.65 489.50 334.55 489.50 332.70C489.50 330.85 489.78 328.75 490.24 327.15C490.70 325.55 491.46 324.01 492.25 323.09C493.04 322.16 494.08 321.60 495.00 321.60C495.92 321.60 496.96 322.16 497.75 323.09C498.54 324.01 499.30 325.55 499.76 327.15C500.22 328.75 500.50 330.85 500.50 332.70Z" fill="#c8c8c8" stroke="none"/>
<path d="M500.50 332.70C500.50 334.55 500.22 336.65 499.76 338.25C499.30 339.85 498.54 341.39 497.75 342.31C496.96 343.24 495.92 343.80 495.00 343.80C494.08 343.80 493.04 343.24 492.25 342.31C491.46 341.39 490.70 339.85 490.24 338.25C489.78 336.65 489.50 334.55 489.50 332.70C489.50 330.85 489.78 328.75 490.24 327.15C490.70 325.55 491.46 324.01 492.25 323.09C493.04 322.16 494.08 321.60 495.00 321.60C495.92 321.60 496.96 322.16 497.75 323.09C498.54 324.01 499.30 325.55 499.76 327.15C500.22 328.75 500.50 330.85 500.50 332.70Z" fill="none" stroke="#505050" stroke-width="0.8"/>
<path d="M499.54 332.70C499.54 334.23 499.31 335.96 498.93 337.28C498.55 338.60 497.92 339.87 497.27 340.63C496.61 341.39 495.76 341.86 495.00 341.86C494.24 341.86 493.39 341.39 492.73 340.63C492.08 339.87 491.45 338.60 491.07 337.28C490.69 335.96 490.46 334.23 490.46 332.70C490.46 331.17 490.69 329.44 491.07 328.12C491.45 326.80 492.08 325.53 492.73 324.77C493.39 324.01 494.24 323.54 495.00 323.54C495.76 323.54 496.61 324.01 497.27 324.77C497.92 325.53 498.55 326.80 498.93 328.12C499.31 329.44 499.54 331.17 499.54 332.70Z" fill="none" stroke="#4b4b4b" stroke-width="0.8"/>
<path d="M498.57 332.70C498.57 333.90 498.39 335.27 498.10 336.31C497.80 337.35 497.30 338.35 496.79 338.95C496.27 339.55 495.60 339.92 495.00 339.92C494.40 339.92 493.73 339.55 493.21 338.95C492.70 338.35 492.20 337.35 491.90 336.31C491.61 335.27 491.43 333.90 491.43 332.70C491.43 331.50 491.61 330.13 491.90 329.09C492.20 328.05 492.70 327.05 493.21 326.45C493.73 325.85 494.40 325.48 495.00 325.48C495.60 325.48 496.27 325.85 496.79 326.45C497.30 327.05 497.80 328.05 498.10 329.09C498.39 330.13 498.57 331.50 498.57 332.70Z" fill="none" stroke="#464646" stroke-width="0.8"/>
<path d="M497.61 332.70C497.61 333.58 497.48 334.58 497.26 335.34C497.04 336.10 496.68 336.83 496.31 337.27C495.93 337.71 495.44 337.97 495.00 337.97C494.56 337.97 494.07 337.71 493.69 337.27C493.32 336.83 492.96 336.10 492.74 335.34C492.52 334.58 492.39 333.58 492.39 332.70C492.39 331.82 492.52 330.82 492.74 330.06C492.96 329.30 493.32 328.57 493.69 328.13C494.07 327.69 494.56 327.43 495.00 327.43C495.44 327.43 495.93 327.69 496.31 328.13C496.68 328.57 497.04 329.30 497.26 330.06C497.48 330.82 497.61 331.82 497.61 332.70Z" fill="none" stroke="#414141" stroke-width="0.8"/>
<path d="M496.65 332.70C496.65 333.25 496.57 333.88 496.43 334.37C496.29 334.85 496.06 335.31 495.82 335.58C495.59 335.86 495.27 336.03 495.00 336.03C494.73 336.03 494.41 335.86 494.18 335.58C493.94 335.31 493.71 334.85 493.57 334.37C493.43 333.88 493.35 333.25 493.35 332.70C493.35 332.14 493.43 331.52 493.57 331.03C493.71 330.55 493.94 330.09 494.18 329.82C494.41 329.54 494.73 329.37 495.00 329.37C495.27 329.37 495.59 329.54 495.82 329.82C496.06 330.09 496.29 330.55 496.43 331.03C496.57 331.52 496.65 332.14 496.65 332.70Z" fill="none" stroke="#3c3c3c" stroke-width="0.8"/>
<path d="M495 326V340" stroke="#444" stroke-width="0.9"/>
<path d="M487.71 332.50C487.72 333.50 487.44 334.70 486.90 335.52C486.37 336.34 485.41 337.09 484.51 337.44C483.60 337.78 482.35 337.89 481.45 337.57C480.55 337.25 479.67 336.36 479.10 335.52C478.53 334.67 477.92 333.44 478.01 332.50C478.10 331.56 479.03 330.66 479.63 329.89C480.23 329.12 480.77 328.28 481.59 327.87C482.41 327.46 483.67 327.15 484.55 327.43C485.42 327.70 486.30 328.69 486.83 329.53C487.36 330.38 487.70 331.50 487.71 332.50Z" fill="none" stroke="#646464" stroke-width="0.75"/>
<path d="M484.90 332.55C484.91 332.95 484.79 333.42 484.58 333.75C484.36 334.08 483.98 334.38 483.62 334.52C483.26 334.66 482.76 334.70 482.40 334.58C482.04 334.45 481.69 334.09 481.46 333.75C481.23 333.42 480.99 332.92 481.02 332.55C481.06 332.17 481.43 331.81 481.67 331.50C481.91 331.19 482.12 330.86 482.45 330.69C482.78 330.53 483.29 330.41 483.64 330.52C483.99 330.63 484.34 331.02 484.55 331.36C484.76 331.70 484.90 332.15 484.90 332.55Z" fill="none" stroke="#828282" stroke-width="0.75"/>
<path d="M486 329L490 327" stroke="#888" stroke-width="0.6"/>
<path d="M475 325.5h0.8" stroke="#888" stroke-width="0.8"/>
</g>
<text x="79.4" y="40.0" font-size="7.0" text-anchor="start" font-weight="normal" fill="#111" stroke="#111" stroke-width="0.45">3.0</text>
<text x="117.8" y="22.7" font-size="7.0" text-anchor="start" font-weight="normal" fill="#111" stroke="#111" stroke-width="0.45">5.5</text>
<text x="146.6" y="36.900000000000006" font-size="7.0" text-anchor="start" font-weight="normal" fill="#111" stroke="#111" stroke-width="0.45">91.7</text>
<text x="178" y="21.9" font-size="7.0" text-anchor="start" font-weight="normal" fill="#111" stroke="#111" stroke-width="0.45">40</text>
<text x="216.1" y="62.0" font-size="7.0" text-anchor="start" font-weight="normal" fill="#111" stroke="#111" stroke-width="0.45">54.6</text>
<text x="275.3" y="26.2" font-size="7.0" text-anchor="start" font-weight="normal" fill="#111" stroke="#111" stroke-width="0.45">7.35</text>
<text x="329" y="23.099999999999998" font-size="7.0" text-anchor="start" font-weight="normal" fill="#111" stroke="#111" stroke-width="0.45">27.3</text>
<text x="342" y="62.0" font-size="7.0" text-anchor="start" font-weight="normal" fill="#111" stroke="#111" stroke-width="0.45">69.7</text>
<text x="79" y="110.4" font-size="7.0" text-anchor="start" font-weight="normal" fill="#111" stroke="#111" stroke-width="0.45">4.2</text>
<text x="111.8" y="89.60000000000001" font-size="7.0" text-anchor="start" font-weight="normal" fill="#111" stroke="#111" stroke-width="0.45">6.8</text>
<text x="148.5" y="104.9" font-size="7.0" text-anchor="start" font-weight="normal" fill="#111" stroke="#111" stroke-width="0.45">88.4</text>
<text x="181.2" y="87.9" font-size="7.0" text-anchor="start" font-weight="normal" fill="#111" stroke="#111" stroke-width="0.45">34.7</text>
<text x="217" y="130.6" font-size="7.0" text-anchor="start" font-weight="normal" fill="#111" stroke="#111" stroke-width="0.45">50.8</text>
<text x="279.2" y="93.9" font-size="7.0" text-anchor="start" font-weight="normal" fill="#111" stroke="#111" stroke-width="0.45">0.37</text>
<text x="331.2" y="90.7" font-size="7.0" text-anchor="start" font-weight="normal" fill="#111" stroke="#111" stroke-width="0.45">11.1</text>
<text x="343.8" y="131.7" font-size="7.0" text-anchor="start" font-weight="normal" fill="#111" stroke="#111" stroke-width="0.45">87.2</text>
<text x="77.2" y="258.2" font-size="7.0" text-anchor="start" font-weight="normal" fill="#111" stroke="#111" stroke-width="0.45">33.5</text>
<text x="145.2" y="247.6" font-size="7.0" text-anchor="start" font-weight="normal" fill="#111" stroke="#111" stroke-width="0.45">32.3</text>
<text x="211.4" y="238.1" font-size="7.0" text-anchor="start" font-weight="normal" fill="#111" stroke="#111" stroke-width="0.45">1.06</text>
<text x="79.2" y="321.9" font-size="7.0" text-anchor="start" font-weight="normal" fill="#111" stroke="#111" stroke-width="0.45">75.9</text>
<text x="146.8" y="308.59999999999997" font-size="7.0" text-anchor="start" font-weight="normal" fill="#111" stroke="#111" stroke-width="0.45">12</text>
<text x="212.8" y="306.2" font-size="7.0" text-anchor="start" font-weight="normal" fill="#111" stroke="#111" stroke-width="0.45">2.38</text>
<text x="302.3" y="317.8" font-size="7.0" text-anchor="start" font-weight="normal" fill="#111" stroke="#111" stroke-width="0.45">97.1</text>
<text x="356.6" y="305.9" font-size="7.0" text-anchor="start" font-weight="normal" fill="#111" stroke="#111" stroke-width="0.45">15.4</text>
<text x="366.3" y="316.59999999999997" font-size="7.0" text-anchor="start" font-weight="normal" fill="#111" stroke="#111" stroke-width="0.45">53.6</text>
<text x="426.6" y="308.4" font-size="7.0" text-anchor="start" font-weight="normal" fill="#111" stroke="#111" stroke-width="0.45">74.3</text>
<text x="426.6" y="333.7" font-size="7.0" text-anchor="start" font-weight="normal" fill="#111" stroke="#111" stroke-width="0.45">22.4</text>
<text x="463.8" y="324.5" font-size="7.0" text-anchor="start" font-weight="normal" fill="#111" stroke="#111" stroke-width="0.45">35</text>
<text x="503.9" y="310.3" font-size="7.0" text-anchor="start" font-weight="normal" fill="#111" stroke="#111" stroke-width="0.45">13.8</text>
<text x="503.5" y="334.3" font-size="7.0" text-anchor="start" font-weight="normal" fill="#111" stroke="#111" stroke-width="0.45">42.1</text>
<rect x="119.5" y="23.8" width="20.80000000000001" height="19.400000000000002" fill="none" stroke="#777" stroke-width="0.8"/>
<rect x="142.4" y="39.5" width="14.099999999999994" height="26.200000000000003" fill="none" stroke="#777" stroke-width="0.8"/>
<rect x="284.2" y="30.2" width="14.100000000000023" height="12.099999999999998" fill="none" stroke="#777" stroke-width="0.8"/>
<rect x="343.5" y="22.6" width="27.0" height="16.5" fill="none" stroke="#777" stroke-width="0.8"/>
<rect x="357.8" y="39.9" width="18.0" height="24.6" fill="none" stroke="#777" stroke-width="0.8"/>
<rect x="116.5" y="89.2" width="24.900000000000006" height="19.099999999999994" fill="none" stroke="#777" stroke-width="0.8"/>
<rect x="144.2" y="106.3" width="15.900000000000006" height="27.89999999999999" fill="none" stroke="#777" stroke-width="0.8"/>
<rect x="286.7" y="97.5" width="15.0" height="13.099999999999994" fill="none" stroke="#777" stroke-width="0.8"/>
<rect x="344.2" y="89" width="28.30000000000001" height="17.299999999999997" fill="none" stroke="#777" stroke-width="0.8"/>
<rect x="359.2" y="107.7" width="19.30000000000001" height="25.999999999999986" fill="none" stroke="#777" stroke-width="0.8"/>
<rect x="203" y="243.2" width="15.800000000000011" height="12.600000000000023" fill="none" stroke="#777" stroke-width="0.8"/>
<rect x="201.2" y="312.2" width="15.600000000000023" height="12.100000000000023" fill="none" stroke="#777" stroke-width="0.8"/>
<rect x="303" y="322.3" width="12.300000000000011" height="18.80000000000001" fill="none" stroke="#777" stroke-width="0.8"/>
<rect x="333.2" y="300.3" width="22.5" height="21.19999999999999" fill="none" stroke="#777" stroke-width="0.8"/>
<rect x="358.2" y="320.3" width="23.5" height="30.19999999999999" fill="none" stroke="#777" stroke-width="0.8"/>
<rect x="398.3" y="299.3" width="25.399999999999977" height="20.19999999999999" fill="none" stroke="#777" stroke-width="0.8"/>
<rect x="398.9" y="323.2" width="25.400000000000034" height="18.80000000000001" fill="none" stroke="#777" stroke-width="0.8"/>
<rect x="463.8" y="300.2" width="21.599999999999966" height="17.600000000000023" fill="none" stroke="#777" stroke-width="0.8"/>
<rect x="489.5" y="303.6" width="12.899999999999977" height="16.899999999999977" fill="none" stroke="#777" stroke-width="0.8"/>
<rect x="488.5" y="320.7" width="14.199999999999989" height="24.0" fill="none" stroke="#777" stroke-width="0.8"/>
<path d="M207.5 16.6L207.5 66.2" stroke="#666" stroke-width="0.8"/>
<path d="M176.3 33.9L228.8 33.9" stroke="#666" stroke-width="0.8"/>
<path d="M202.8 84.4L202.8 134.2" stroke="#666" stroke-width="0.8"/>
<path d="M178.5 108.3L232.8 108.3" stroke="#666" stroke-width="0.8"/>
<path d="M32 440.5V555.5H251.3" fill="none" stroke="#333" stroke-width="0.8"/>
<path d="M30.5 555.5h1.5" stroke="#333" stroke-width="0.7"/>
<text x="26.4" y="558.02" font-size="7" text-anchor="end" font-weight="normal" fill="#111" stroke="#111" stroke-width="0.2">0</text>
<path d="M30.5 541.125h1.5" stroke="#333" stroke-width="0.7"/>
<text x="26.4" y="543.645" font-size="7" text-anchor="end" font-weight="normal" fill="#111" stroke="#111" stroke-width="0.2">10</text>
<path d="M30.5 526.75h1.5" stroke="#333" stroke-width="0.7"/>
<text x="26.4" y="529.27" font-size="7" text-anchor="end" font-weight="normal" fill="#111" stroke="#111" stroke-width="0.2">20</text>
<path d="M30.5 512.375h1.5" stroke="#333" stroke-width="0.7"/>
<text x="26.4" y="514.895" font-size="7" text-anchor="end" font-weight="normal" fill="#111" stroke="#111" stroke-width="0.2">30</text>
<path d="M30.5 498.0h1.5" stroke="#333" stroke-width="0.7"/>
<text x="26.4" y="500.52" font-size="7" text-anchor="end" font-weight="normal" fill="#111" stroke="#111" stroke-width="0.2">40</text>
<path d="M30.5 483.625h1.5" stroke="#333" stroke-width="0.7"/>
<text x="26.4" y="486.145" font-size="7" text-anchor="end" font-weight="normal" fill="#111" stroke="#111" stroke-width="0.2">50</text>
<path d="M30.5 469.25h1.5" stroke="#333" stroke-width="0.7"/>
<text x="26.4" y="471.77" font-size="7" text-anchor="end" font-weight="normal" fill="#111" stroke="#111" stroke-width="0.2">60</text>
<path d="M30.5 454.875h1.5" stroke="#333" stroke-width="0.7"/>
<text x="26.4" y="457.395" font-size="7" text-anchor="end" font-weight="normal" fill="#111" stroke="#111" stroke-width="0.2">70</text>
<path d="M30.5 440.5h1.5" stroke="#333" stroke-width="0.7"/>
<text x="26.4" y="443.02" font-size="7" text-anchor="end" font-weight="normal" fill="#111" stroke="#111" stroke-width="0.2">80</text>
<text x="25.7" y="433.2" font-size="7" text-anchor="start" font-weight="normal" fill="#111" stroke="#111" stroke-width="0.2">(%)</text>
<rect x="34.50" y="549.32" width="2.8" height="6.18" fill="#111" stroke="#111" stroke-width="0.6"/>
<rect x="37.30" y="550.47" width="2.8" height="5.03" fill="#fff" stroke="#333" stroke-width="0.6"/>
<rect x="40.10" y="554.35" width="2.8" height="1.15" fill="#fff" stroke="#666" stroke-width="0.6"/>
<rect x="42.90" y="554.78" width="2.8" height="0.72" fill="#888" stroke="#444" stroke-width="0.6"/>
<rect x="49.05" y="552.62" width="2.8" height="2.88" fill="#111" stroke="#111" stroke-width="0.6"/>
<rect x="51.85" y="538.25" width="2.8" height="17.25" fill="#fff" stroke="#333" stroke-width="0.6"/>
<rect x="54.65" y="553.34" width="2.8" height="2.16" fill="#fff" stroke="#666" stroke-width="0.6"/>
<rect x="57.45" y="552.62" width="2.8" height="2.88" fill="#888" stroke="#444" stroke-width="0.6"/>
<rect x="63.60" y="546.88" width="2.8" height="8.62" fill="#111" stroke="#111" stroke-width="0.6"/>
<rect x="66.40" y="549.75" width="2.8" height="5.75" fill="#fff" stroke="#333" stroke-width="0.6"/>
<rect x="69.20" y="552.62" width="2.8" height="2.88" fill="#fff" stroke="#666" stroke-width="0.6"/>
<rect x="72.00" y="554.78" width="2.8" height="0.72" fill="#888" stroke="#444" stroke-width="0.6"/>
<rect x="78.15" y="547.59" width="2.8" height="7.91" fill="#111" stroke="#111" stroke-width="0.6"/>
<rect x="80.95" y="546.59" width="2.8" height="8.91" fill="#fff" stroke="#333" stroke-width="0.6"/>
<rect x="83.75" y="554.78" width="2.8" height="0.72" fill="#fff" stroke="#666" stroke-width="0.6"/>
<rect x="92.70" y="544.29" width="2.8" height="11.21" fill="#111" stroke="#111" stroke-width="0.6"/>
<rect x="95.50" y="518.12" width="2.8" height="37.38" fill="#fff" stroke="#333" stroke-width="0.6"/>
<rect x="98.30" y="553.77" width="2.8" height="1.72" fill="#fff" stroke="#666" stroke-width="0.6"/>
<rect x="101.10" y="553.77" width="2.8" height="1.72" fill="#888" stroke="#444" stroke-width="0.6"/>
<rect x="107.25" y="550.90" width="2.8" height="4.60" fill="#111" stroke="#111" stroke-width="0.6"/>
<rect x="110.05" y="554.78" width="2.8" height="0.72" fill="#fff" stroke="#333" stroke-width="0.6"/>
<rect x="112.85" y="555.07" width="2.8" height="0.43" fill="#fff" stroke="#666" stroke-width="0.6"/>
<rect x="115.65" y="553.77" width="2.8" height="1.72" fill="#888" stroke="#444" stroke-width="0.6"/>
<rect x="121.80" y="533.22" width="2.8" height="22.28" fill="#111" stroke="#111" stroke-width="0.6"/>
<rect x="124.60" y="542.56" width="2.8" height="12.94" fill="#fff" stroke="#333" stroke-width="0.6"/>
<rect x="127.40" y="546.16" width="2.8" height="9.34" fill="#fff" stroke="#666" stroke-width="0.6"/>
<rect x="130.20" y="502.31" width="2.8" height="53.19" fill="#888" stroke="#444" stroke-width="0.6"/>
<rect x="136.35" y="550.47" width="2.8" height="5.03" fill="#111" stroke="#111" stroke-width="0.6"/>
<rect x="139.15" y="528.19" width="2.8" height="27.31" fill="#fff" stroke="#333" stroke-width="0.6"/>
<rect x="141.95" y="454.88" width="2.8" height="100.62" fill="#fff" stroke="#666" stroke-width="0.6"/>
<rect x="144.75" y="503.75" width="2.8" height="51.75" fill="#888" stroke="#444" stroke-width="0.6"/>
<rect x="150.90" y="553.34" width="2.8" height="2.16" fill="#111" stroke="#111" stroke-width="0.6"/>
<rect x="153.70" y="554.78" width="2.8" height="0.72" fill="#fff" stroke="#333" stroke-width="0.6"/>
<rect x="156.50" y="555.07" width="2.8" height="0.43" fill="#fff" stroke="#666" stroke-width="0.6"/>
<rect x="159.30" y="555.07" width="2.8" height="0.43" fill="#888" stroke="#444" stroke-width="0.6"/>
<rect x="165.45" y="548.31" width="2.8" height="7.19" fill="#111" stroke="#111" stroke-width="0.6"/>
<rect x="168.25" y="555.07" width="2.8" height="0.43" fill="#fff" stroke="#333" stroke-width="0.6"/>
<rect x="171.05" y="555.07" width="2.8" height="0.43" fill="#fff" stroke="#666" stroke-width="0.6"/>
<rect x="173.85" y="555.07" width="2.8" height="0.43" fill="#888" stroke="#444" stroke-width="0.6"/>
<rect x="180.00" y="550.47" width="2.8" height="5.03" fill="#111" stroke="#111" stroke-width="0.6"/>
<rect x="182.80" y="550.47" width="2.8" height="5.03" fill="#fff" stroke="#333" stroke-width="0.6"/>
<rect x="185.60" y="551.91" width="2.8" height="3.59" fill="#fff" stroke="#666" stroke-width="0.6"/>
<rect x="188.40" y="554.06" width="2.8" height="1.44" fill="#888" stroke="#444" stroke-width="0.6"/>
<rect x="194.55" y="553.63" width="2.8" height="1.87" fill="#111" stroke="#111" stroke-width="0.6"/>
<rect x="197.35" y="555.07" width="2.8" height="0.43" fill="#fff" stroke="#333" stroke-width="0.6"/>
<rect x="200.15" y="555.07" width="2.8" height="0.43" fill="#fff" stroke="#666" stroke-width="0.6"/>
<rect x="202.95" y="552.91" width="2.8" height="2.59" fill="#888" stroke="#444" stroke-width="0.6"/>
<rect x="209.10" y="553.77" width="2.8" height="1.72" fill="#111" stroke="#111" stroke-width="0.6"/>
<rect x="211.90" y="555.07" width="2.8" height="0.43" fill="#fff" stroke="#333" stroke-width="0.6"/>
<rect x="214.70" y="555.07" width="2.8" height="0.43" fill="#fff" stroke="#666" stroke-width="0.6"/>
<rect x="217.50" y="555.07" width="2.8" height="0.43" fill="#888" stroke="#444" stroke-width="0.6"/>
<rect x="223.65" y="549.03" width="2.8" height="6.47" fill="#111" stroke="#111" stroke-width="0.6"/>
<rect x="226.45" y="553.34" width="2.8" height="2.16" fill="#fff" stroke="#333" stroke-width="0.6"/>
<rect x="229.25" y="553.34" width="2.8" height="2.16" fill="#fff" stroke="#666" stroke-width="0.6"/>
<rect x="232.05" y="553.77" width="2.8" height="1.72" fill="#888" stroke="#444" stroke-width="0.6"/>
<rect x="238.20" y="554.78" width="2.8" height="0.72" fill="#111" stroke="#111" stroke-width="0.6"/>
<rect x="241.00" y="554.78" width="2.8" height="0.72" fill="#fff" stroke="#333" stroke-width="0.6"/>
<rect x="243.80" y="554.78" width="2.8" height="0.72" fill="#fff" stroke="#666" stroke-width="0.6"/>
<rect x="246.60" y="554.78" width="2.8" height="0.72" fill="#888" stroke="#444" stroke-width="0.6"/>
<text x="39.8" y="560.1" font-size="7.2" text-anchor="end" font-weight="normal" fill="#111" transform="rotate(-45 39.8 560.1)" stroke="#111" stroke-width="0.3">Vβ2</text>
<text x="54.699999999999996" y="560.1" font-size="7.2" text-anchor="end" font-weight="normal" fill="#111" transform="rotate(-45 54.699999999999996 560.1)" stroke="#111" stroke-width="0.3">Vβ3</text>
<text x="69.6" y="560.1" font-size="7.2" text-anchor="end" font-weight="normal" fill="#111" transform="rotate(-45 69.6 560.1)" stroke="#111" stroke-width="0.3">Vβ4</text>
<text x="84.5" y="560.1" font-size="7.2" text-anchor="end" font-weight="normal" fill="#111" transform="rotate(-45 84.5 560.1)" stroke="#111" stroke-width="0.3">Vβ5.1, 5.2</text>
<text x="99.39999999999999" y="560.1" font-size="7.2" text-anchor="end" font-weight="normal" fill="#111" transform="rotate(-45 99.39999999999999 560.1)" stroke="#111" stroke-width="0.3">Vβ6</text>
<text x="114.3" y="560.1" font-size="7.2" text-anchor="end" font-weight="normal" fill="#111" transform="rotate(-45 114.3 560.1)" stroke="#111" stroke-width="0.3">Vβ7</text>
<text x="129.20000000000002" y="560.1" font-size="7.2" text-anchor="end" font-weight="normal" fill="#111" transform="rotate(-45 129.20000000000002 560.1)" stroke="#111" stroke-width="0.3">Vβ8.1, 8.2</text>
<text x="144.10000000000002" y="560.1" font-size="7.2" text-anchor="end" font-weight="normal" fill="#111" transform="rotate(-45 144.10000000000002 560.1)" stroke="#111" stroke-width="0.3">Vβ8.3</text>
<text x="159.0" y="560.1" font-size="7.2" text-anchor="end" font-weight="normal" fill="#111" transform="rotate(-45 159.0 560.1)" stroke="#111" stroke-width="0.3">Vβ9</text>
<text x="173.9" y="560.1" font-size="7.2" text-anchor="end" font-weight="normal" fill="#111" transform="rotate(-45 173.9 560.1)" stroke="#111" stroke-width="0.3">Vβ10b</text>
<text x="188.8" y="560.1" font-size="7.2" text-anchor="end" font-weight="normal" fill="#111" transform="rotate(-45 188.8 560.1)" stroke="#111" stroke-width="0.3">Vβ11</text>
<text x="203.70000000000002" y="560.1" font-size="7.2" text-anchor="end" font-weight="normal" fill="#111" transform="rotate(-45 203.70000000000002 560.1)" stroke="#111" stroke-width="0.3">Vβ12</text>
<text x="218.60000000000002" y="560.1" font-size="7.2" text-anchor="end" font-weight="normal" fill="#111" transform="rotate(-45 218.60000000000002 560.1)" stroke="#111" stroke-width="0.3">Vβ13</text>
<text x="233.50000000000003" y="560.1" font-size="7.2" text-anchor="end" font-weight="normal" fill="#111" transform="rotate(-45 233.50000000000003 560.1)" stroke="#111" stroke-width="0.3">Vβ14</text>
<text x="248.4" y="560.1" font-size="7.2" text-anchor="end" font-weight="normal" fill="#111" transform="rotate(-45 248.4 560.1)" stroke="#111" stroke-width="0.3">Vβ17a</text>
<rect x="204.5" y="453.0" width="3.5" height="3.8" fill="#111" stroke="#111" stroke-width="0.6"/>
<text x="213.0" y="457.6" font-size="7.5" text-anchor="start" font-weight="normal" fill="#111" stroke="#111" stroke-width="0.2">WT</text>
<rect x="204.5" y="465.5" width="3.5" height="3.8" fill="#fff" stroke="#333" stroke-width="0.6"/>
<text x="213.0" y="470.1" font-size="7.5" text-anchor="start" font-weight="normal" fill="#111" stroke="#111" stroke-width="0.2">YS1</text>
<rect x="204.5" y="478.0" width="3.5" height="3.8" fill="#fff" stroke="#666" stroke-width="0.6"/>
<text x="213.0" y="482.6" font-size="7.5" text-anchor="start" font-weight="normal" fill="#111" stroke="#111" stroke-width="0.2">YS2</text>
<rect x="204.5" y="490.5" width="3.5" height="3.8" fill="#888" stroke="#444" stroke-width="0.6"/>
<text x="213.0" y="495.1" font-size="7.5" text-anchor="start" font-weight="normal" fill="#111" stroke="#111" stroke-width="0.2">YS3</text>
<path d="M273.3 440.5V555H497" fill="none" stroke="#333" stroke-width="0.8"/>
<path d="M271.8 555.0h1.5" stroke="#333" stroke-width="0.7"/>
<text x="266.2" y="557.028" font-size="7.3" text-anchor="end" font-weight="normal" fill="#111" stroke="#111" stroke-width="0.2">0</text>
<path d="M271.8 532.25h1.5" stroke="#333" stroke-width="0.7"/>
<text x="266.2" y="534.278" font-size="7.3" text-anchor="end" font-weight="normal" fill="#111" stroke="#111" stroke-width="0.2">5</text>
<path d="M271.8 509.5h1.5" stroke="#333" stroke-width="0.7"/>
<text x="266.2" y="511.52799999999996" font-size="7.3" text-anchor="end" font-weight="normal" fill="#111" stroke="#111" stroke-width="0.2">10</text>
<path d="M271.8 486.75h1.5" stroke="#333" stroke-width="0.7"/>
<text x="266.2" y="488.77799999999996" font-size="7.3" text-anchor="end" font-weight="normal" fill="#111" stroke="#111" stroke-width="0.2">15</text>
<path d="M271.8 464.0h1.5" stroke="#333" stroke-width="0.7"/>
<text x="266.2" y="466.02799999999996" font-size="7.3" text-anchor="end" font-weight="normal" fill="#111" stroke="#111" stroke-width="0.2">20</text>
<path d="M271.8 441.25h1.5" stroke="#333" stroke-width="0.7"/>
<text x="266.2" y="443.27799999999996" font-size="7.3" text-anchor="end" font-weight="normal" fill="#111" stroke="#111" stroke-width="0.2">25</text>
<text x="267.0" y="433.8" font-size="7" text-anchor="start" font-weight="normal" fill="#111" stroke="#111" stroke-width="0.2">(%)</text>
<rect x="275.40" y="535.43" width="2.8" height="19.56" fill="#111" stroke="#111" stroke-width="0.6"/>
<rect x="278.20" y="518.60" width="2.8" height="36.40" fill="#fff" stroke="#333" stroke-width="0.6"/>
<rect x="281.00" y="538.16" width="2.8" height="16.84" fill="#fff" stroke="#666" stroke-width="0.6"/>
<rect x="283.80" y="538.62" width="2.8" height="16.38" fill="#888" stroke="#444" stroke-width="0.6"/>
<rect x="290.27" y="545.45" width="2.8" height="9.55" fill="#111" stroke="#111" stroke-width="0.6"/>
<rect x="293.07" y="534.07" width="2.8" height="20.93" fill="#fff" stroke="#333" stroke-width="0.6"/>
<rect x="295.87" y="489.48" width="2.8" height="65.52" fill="#fff" stroke="#666" stroke-width="0.6"/>
<rect x="298.67" y="544.76" width="2.8" height="10.24" fill="#888" stroke="#444" stroke-width="0.6"/>
<rect x="305.14" y="527.70" width="2.8" height="27.30" fill="#111" stroke="#111" stroke-width="0.6"/>
<rect x="307.94" y="546.81" width="2.8" height="8.19" fill="#fff" stroke="#333" stroke-width="0.6"/>
<rect x="310.74" y="519.74" width="2.8" height="35.26" fill="#fff" stroke="#666" stroke-width="0.6"/>
<rect x="313.54" y="459.45" width="2.8" height="95.55" fill="#888" stroke="#444" stroke-width="0.6"/>
<rect x="320.01" y="529.52" width="2.8" height="25.48" fill="#111" stroke="#111" stroke-width="0.6"/>
<rect x="322.81" y="519.28" width="2.8" height="35.72" fill="#fff" stroke="#333" stroke-width="0.6"/>
<rect x="325.61" y="544.99" width="2.8" height="10.01" fill="#fff" stroke="#666" stroke-width="0.6"/>
<rect x="328.41" y="546.49" width="2.8" height="8.51" fill="#888" stroke="#444" stroke-width="0.6"/>
<rect x="334.88" y="519.51" width="2.8" height="35.49" fill="#111" stroke="#111" stroke-width="0.6"/>
<rect x="337.68" y="541.99" width="2.8" height="13.01" fill="#fff" stroke="#333" stroke-width="0.6"/>
<rect x="340.48" y="541.99" width="2.8" height="13.01" fill="#fff" stroke="#666" stroke-width="0.6"/>
<rect x="343.28" y="509.27" width="2.8" height="45.73" fill="#888" stroke="#444" stroke-width="0.6"/>
<rect x="349.75" y="539.53" width="2.8" height="15.47" fill="#111" stroke="#111" stroke-width="0.6"/>
<rect x="352.55" y="546.81" width="2.8" height="8.19" fill="#fff" stroke="#333" stroke-width="0.6"/>
<rect x="355.35" y="543.62" width="2.8" height="11.38" fill="#fff" stroke="#666" stroke-width="0.6"/>
<rect x="358.15" y="536.80" width="2.8" height="18.20" fill="#888" stroke="#444" stroke-width="0.6"/>
<rect x="364.62" y="485.84" width="2.8" height="69.16" fill="#111" stroke="#111" stroke-width="0.6"/>
<rect x="367.42" y="508.13" width="2.8" height="46.87" fill="#fff" stroke="#333" stroke-width="0.6"/>
<rect x="370.22" y="478.56" width="2.8" height="76.44" fill="#fff" stroke="#666" stroke-width="0.6"/>
<rect x="373.02" y="464.91" width="2.8" height="90.09" fill="#888" stroke="#444" stroke-width="0.6"/>
<rect x="379.49" y="539.26" width="2.8" height="15.74" fill="#111" stroke="#111" stroke-width="0.6"/>
<rect x="382.29" y="516.78" width="2.8" height="38.22" fill="#fff" stroke="#333" stroke-width="0.6"/>
<rect x="385.09" y="550.45" width="2.8" height="4.55" fill="#fff" stroke="#666" stroke-width="0.6"/>
<rect x="387.89" y="546.81" width="2.8" height="8.19" fill="#888" stroke="#444" stroke-width="0.6"/>
<rect x="394.36" y="548.17" width="2.8" height="6.82" fill="#111" stroke="#111" stroke-width="0.6"/>
<rect x="399.96" y="498.12" width="2.8" height="56.88" fill="#fff" stroke="#666" stroke-width="0.6"/>
<rect x="402.76" y="536.80" width="2.8" height="18.20" fill="#888" stroke="#444" stroke-width="0.6"/>
<rect x="409.23" y="532.71" width="2.8" height="22.30" fill="#111" stroke="#111" stroke-width="0.6"/>
<rect x="414.83" y="538.16" width="2.8" height="16.84" fill="#fff" stroke="#666" stroke-width="0.6"/>
<rect x="417.63" y="545.90" width="2.8" height="9.10" fill="#888" stroke="#444" stroke-width="0.6"/>
<rect x="424.10" y="539.99" width="2.8" height="15.01" fill="#111" stroke="#111" stroke-width="0.6"/>
<rect x="426.90" y="541.35" width="2.8" height="13.65" fill="#fff" stroke="#333" stroke-width="0.6"/>
<rect x="429.70" y="542.26" width="2.8" height="12.74" fill="#fff" stroke="#666" stroke-width="0.6"/>
<rect x="438.97" y="548.63" width="2.8" height="6.37" fill="#111" stroke="#111" stroke-width="0.6"/>
<rect x="441.77" y="538.16" width="2.8" height="16.84" fill="#fff" stroke="#333" stroke-width="0.6"/>
<rect x="444.57" y="529.07" width="2.8" height="25.93" fill="#fff" stroke="#666" stroke-width="0.6"/>
<rect x="453.84" y="550.45" width="2.8" height="4.55" fill="#111" stroke="#111" stroke-width="0.6"/>
<rect x="456.64" y="543.62" width="2.8" height="11.38" fill="#fff" stroke="#333" stroke-width="0.6"/>
<rect x="459.44" y="463.09" width="2.8" height="91.91" fill="#fff" stroke="#666" stroke-width="0.6"/>
<rect x="462.24" y="546.36" width="2.8" height="8.64" fill="#888" stroke="#444" stroke-width="0.6"/>
<rect x="468.71" y="534.98" width="2.8" height="20.02" fill="#111" stroke="#111" stroke-width="0.6"/>
<rect x="471.51" y="500.40" width="2.8" height="54.60" fill="#fff" stroke="#333" stroke-width="0.6"/>
<rect x="474.31" y="530.88" width="2.8" height="24.11" fill="#fff" stroke="#666" stroke-width="0.6"/>
<rect x="483.58" y="554.32" width="2.8" height="0.68" fill="#111" stroke="#111" stroke-width="0.6"/>
<rect x="486.38" y="554.54" width="2.8" height="0.46" fill="#fff" stroke="#333" stroke-width="0.6"/>
<rect x="489.18" y="554.54" width="2.8" height="0.46" fill="#fff" stroke="#666" stroke-width="0.6"/>
<text x="284.59999999999997" y="561.3" font-size="7.1" text-anchor="end" font-weight="normal" fill="#111" transform="rotate(-45 284.59999999999997 561.3)" stroke="#111" stroke-width="0.3">Vβ2</text>
<text x="299.46999999999997" y="561.3" font-size="7.1" text-anchor="end" font-weight="normal" fill="#111" transform="rotate(-45 299.46999999999997 561.3)" stroke="#111" stroke-width="0.3">Vβ3</text>
<text x="314.34" y="561.3" font-size="7.1" text-anchor="end" font-weight="normal" fill="#111" transform="rotate(-45 314.34 561.3)" stroke="#111" stroke-width="0.3">Vβ4</text>
<text x="329.21" y="561.3" font-size="7.1" text-anchor="end" font-weight="normal" fill="#111" transform="rotate(-45 329.21 561.3)" stroke="#111" stroke-width="0.3">Vβ5.1, 5.2</text>
<text x="344.08" y="561.3" font-size="7.1" text-anchor="end" font-weight="normal" fill="#111" transform="rotate(-45 344.08 561.3)" stroke="#111" stroke-width="0.3">Vβ6</text>
<text x="358.95" y="561.3" font-size="7.1" text-anchor="end" font-weight="normal" fill="#111" transform="rotate(-45 358.95 561.3)" stroke="#111" stroke-width="0.3">Vβ7</text>
<text x="373.82" y="561.3" font-size="7.1" text-anchor="end" font-weight="normal" fill="#111" transform="rotate(-45 373.82 561.3)" stroke="#111" stroke-width="0.3">Vβ8.1, 8.2</text>
<text x="388.68999999999994" y="561.3" font-size="7.1" text-anchor="end" font-weight="normal" fill="#111" transform="rotate(-45 388.68999999999994 561.3)" stroke="#111" stroke-width="0.3">Vβ8.3</text>
<text x="403.55999999999995" y="561.3" font-size="7.1" text-anchor="end" font-weight="normal" fill="#111" transform="rotate(-45 403.55999999999995 561.3)" stroke="#111" stroke-width="0.3">Vβ9</text>
<text x="418.42999999999995" y="561.3" font-size="7.1" text-anchor="end" font-weight="normal" fill="#111" transform="rotate(-45 418.42999999999995 561.3)" stroke="#111" stroke-width="0.3">Vβ10b</text>
<text x="433.29999999999995" y="561.3" font-size="7.1" text-anchor="end" font-weight="normal" fill="#111" transform="rotate(-45 433.29999999999995 561.3)" stroke="#111" stroke-width="0.3">Vβ11</text>
<text x="448.16999999999996" y="561.3" font-size="7.1" text-anchor="end" font-weight="normal" fill="#111" transform="rotate(-45 448.16999999999996 561.3)" stroke="#111" stroke-width="0.3">Vβ12</text>
<text x="463.03999999999996" y="561.3" font-size="7.1" text-anchor="end" font-weight="normal" fill="#111" transform="rotate(-45 463.03999999999996 561.3)" stroke="#111" stroke-width="0.3">Vβ13</text>
<text x="477.90999999999997" y="561.3" font-size="7.1" text-anchor="end" font-weight="normal" fill="#111" transform="rotate(-45 477.90999999999997 561.3)" stroke="#111" stroke-width="0.3">Vβ14</text>
<text x="492.7799999999999" y="561.3" font-size="7.1" text-anchor="end" font-weight="normal" fill="#111" transform="rotate(-45 492.7799999999999 561.3)" stroke="#111" stroke-width="0.3">Vβ17a</text>
<rect x="488" y="445.5" width="3.5" height="3.8" fill="#111" stroke="#111" stroke-width="0.6"/>
<text x="505.5" y="450.1" font-size="7.2" text-anchor="middle" font-weight="normal" fill="#111" stroke="#111" stroke-width="0.2">WT</text>
<rect x="488" y="457.9" width="3.5" height="3.8" fill="#fff" stroke="#333" stroke-width="0.6"/>
<text x="505.5" y="462.5" font-size="7.2" text-anchor="middle" font-weight="normal" fill="#111" stroke="#111" stroke-width="0.2">PSP1</text>
<rect x="488" y="470.3" width="3.5" height="3.8" fill="#fff" stroke="#666" stroke-width="0.6"/>
<text x="505.5" y="474.90000000000003" font-size="7.2" text-anchor="middle" font-weight="normal" fill="#111" stroke="#111" stroke-width="0.2">PSP2</text>
<rect x="488" y="482.7" width="3.5" height="3.8" fill="#888" stroke="#444" stroke-width="0.6"/>
<text x="505.5" y="487.3" font-size="7.2" text-anchor="middle" font-weight="normal" fill="#111" stroke="#111" stroke-width="0.2">PSP3</text>
</svg></body></html>
